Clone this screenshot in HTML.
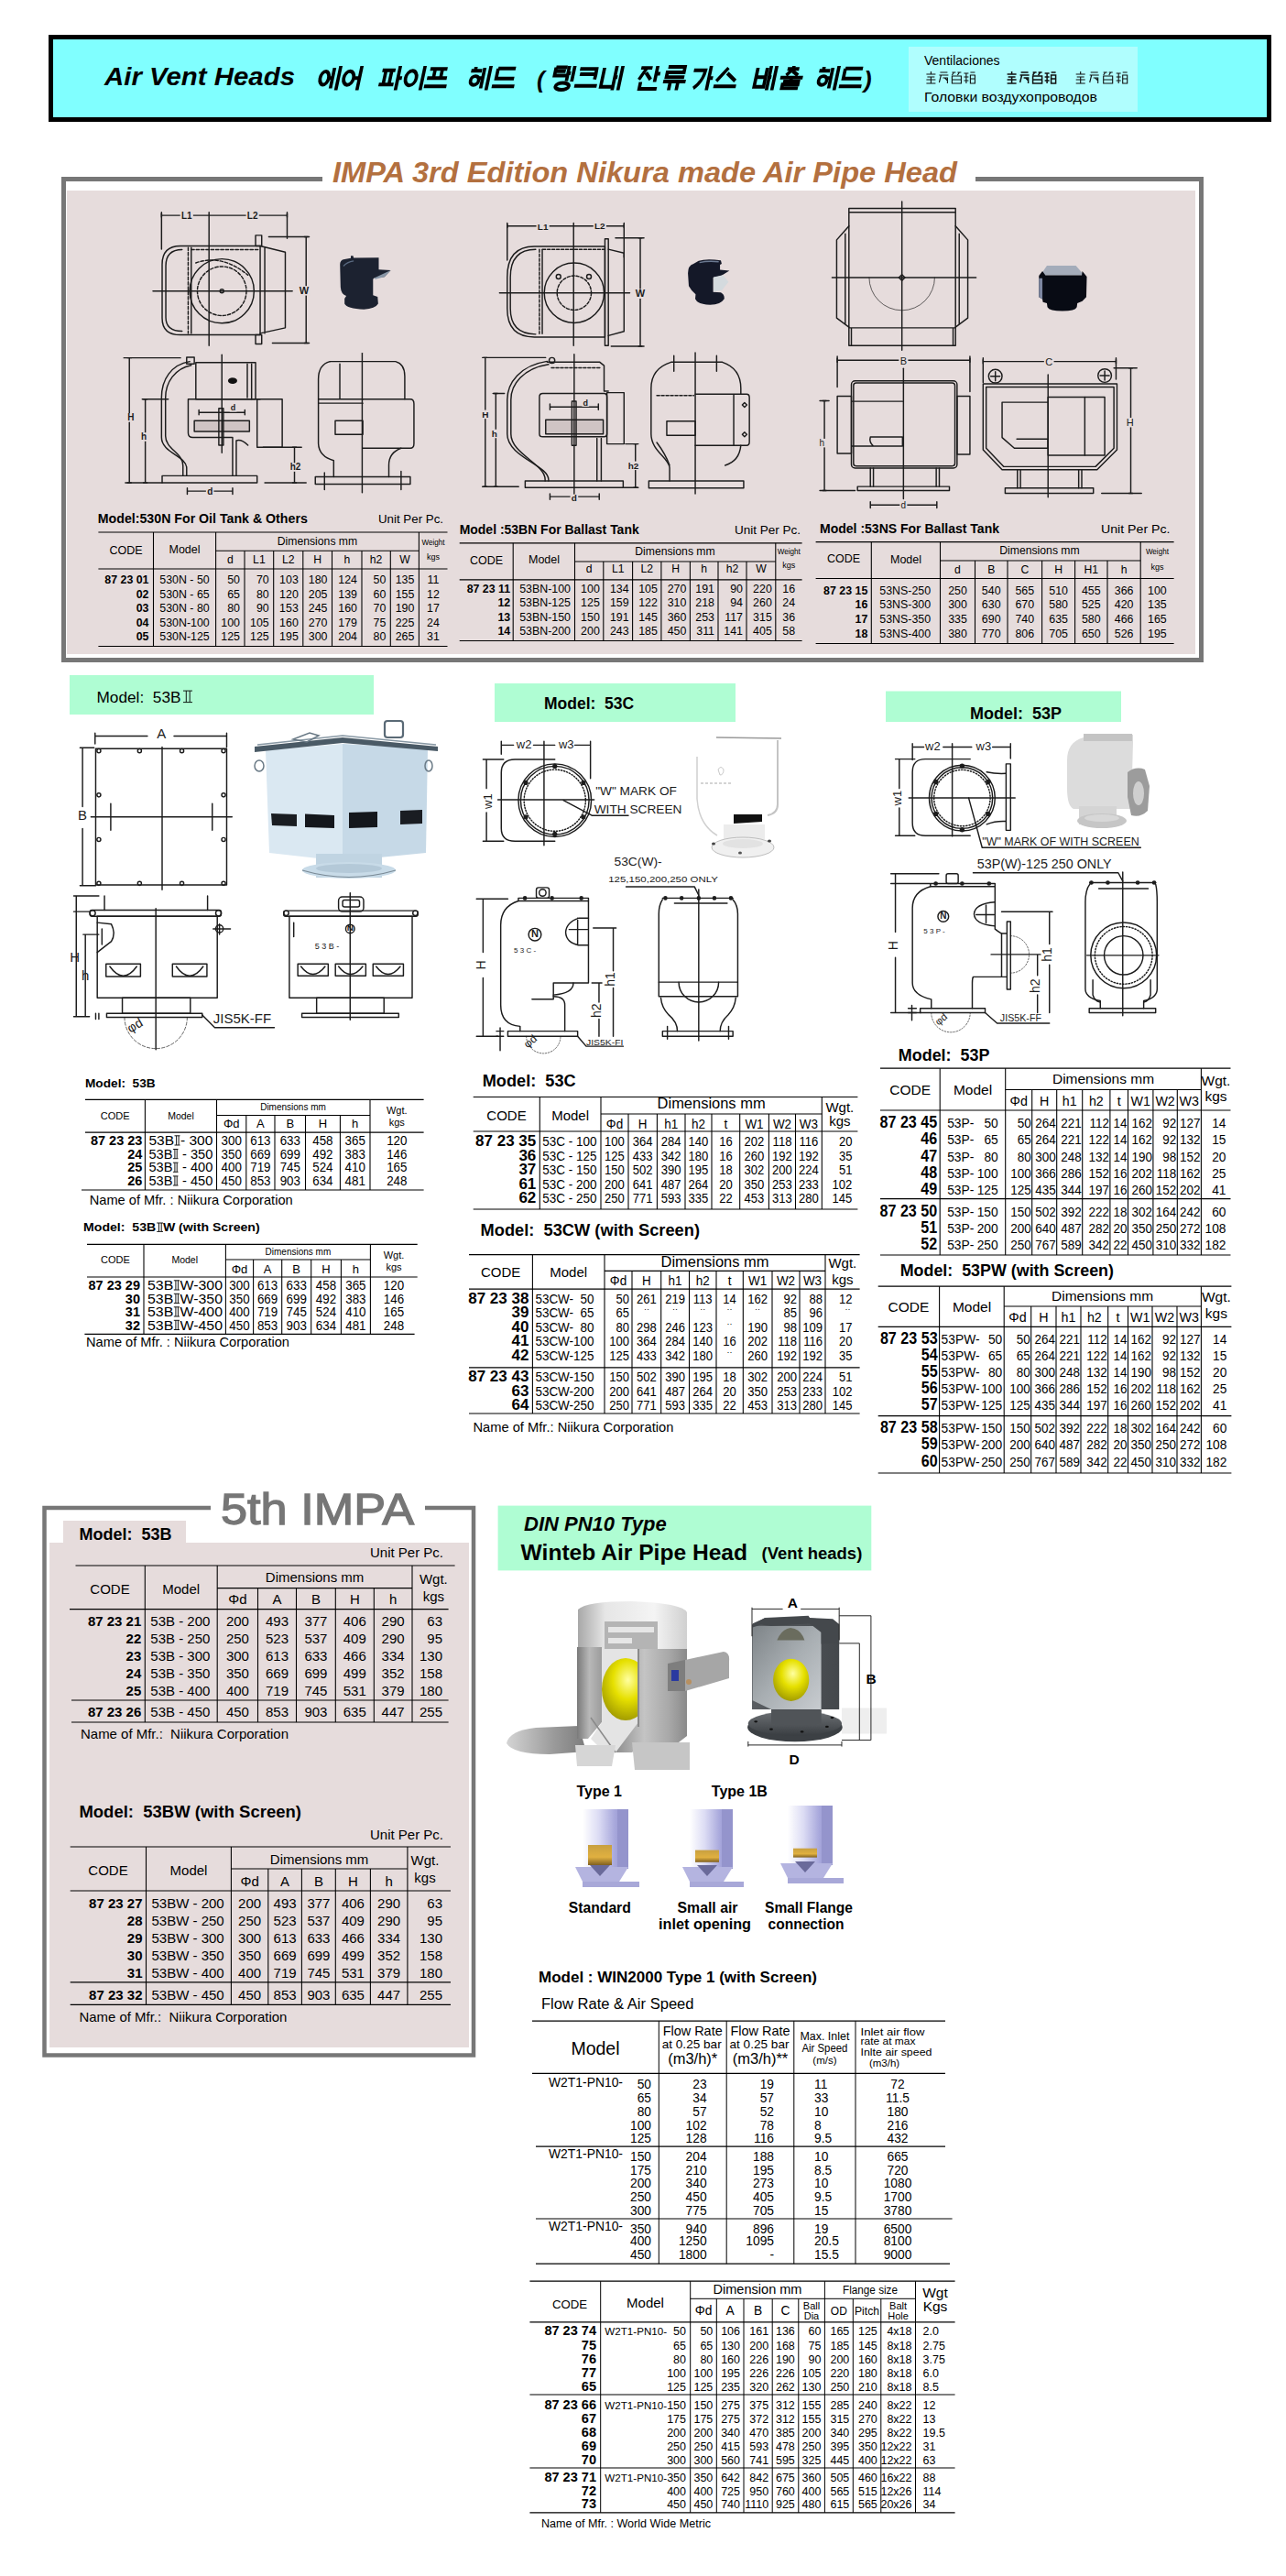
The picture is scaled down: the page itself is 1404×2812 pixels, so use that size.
<!DOCTYPE html>
<html><head><meta charset="utf-8"><title>Air Vent Heads</title>
<style>
html,body{margin:0;padding:0;background:#fff;}
body{width:1404px;height:2812px;overflow:hidden;}
svg{display:block;font-family:"Liberation Sans",sans-serif;}
text{white-space:pre;}
</style></head><body>
<svg width="1404" height="2812" viewBox="0 0 1404 2812">
<rect x="55.5" y="40.5" width="1330.0" height="90.0" fill="#80FFFF" stroke="#000" stroke-width="5"/>
<rect x="992.0" y="51.0" width="250.0" height="71.0" fill="#B0FEFE"/>
<text x="114.0" y="93.0" font-size="27.5" font-weight="bold" font-style="italic" textLength="208.0" lengthAdjust="spacingAndGlyphs">Air Vent Heads</text>
<text x="1009.0" y="70.5" font-size="14" textLength="82.5" lengthAdjust="spacingAndGlyphs">Ventilaciones</text>
<text x="1009.0" y="111.4" font-size="14.5" textLength="189.0" lengthAdjust="spacingAndGlyphs">Головки воздухопроводов</text>
<rect x="69.5" y="195.5" width="1242.0" height="525.0" fill="#fff" stroke="#777777" stroke-width="5"/>
<rect x="73.0" y="208.0" width="1232.0" height="506.0" fill="#E6DCDC"/>
<rect x="352.0" y="185.0" width="713.0" height="14.0" fill="#fff"/>
<text x="363.0" y="198.5" font-size="31.5" font-weight="bold" font-style="italic" fill="#B3703F" textLength="682.0" lengthAdjust="spacingAndGlyphs">IMPA 3rd Edition Nikura made Air Pipe Head</text>
<rect x="76.0" y="737.0" width="332.0" height="43.0" fill="#AFFDD3"/>
<text x="105.5" y="766.6" font-size="17" textLength="92.0" lengthAdjust="spacingAndGlyphs">Model:  53B</text>
<rect x="540.0" y="746.0" width="263.0" height="42.0" fill="#AFFDD3"/>
<text x="594.0" y="773.5" font-size="17.5" font-weight="bold">Model:  53C</text>
<rect x="967.0" y="754.5" width="257.0" height="33.5" fill="#AFFDD3"/>
<text x="1059.0" y="785.0" font-size="18" font-weight="bold">Model:  53P</text>
<rect x="48.5" y="1646.0" width="468.5" height="597.5" fill="#fff" stroke="#777777" stroke-width="4.5"/>
<rect x="54.0" y="1684.0" width="458.0" height="551.0" fill="#E6DCDC"/>
<rect x="69.0" y="1660.0" width="134.0" height="25.0" fill="#E6DCDC"/>
<rect x="230.0" y="1630.0" width="234.0" height="20.0" fill="#fff"/>
<text x="241.0" y="1663.7" font-size="48" fill="#767676" textLength="211.0" lengthAdjust="spacingAndGlyphs" stroke="#767676" stroke-width="1.3">5th IMPA</text>
<text x="86.4" y="1680.8" font-size="18" font-weight="bold">Model:  53B</text>
<rect x="543.6" y="1643.6" width="407.7" height="70.8" fill="#AFFDD3"/>
<text x="572.0" y="1671.0" font-size="22" font-weight="bold" font-style="italic">DIN PN10 Type</text>
<text x="568.6" y="1703.3" font-size="23" font-weight="bold" textLength="247.4" lengthAdjust="spacingAndGlyphs">Winteb Air Pipe Head</text>
<text x="831.5" y="1701.5" font-size="18" font-weight="bold" textLength="109.8" lengthAdjust="spacingAndGlyphs">(Vent heads)</text>
<text x="106.8" y="571.0" font-size="14" font-weight="bold" textLength="229.0" lengthAdjust="spacingAndGlyphs">Model:530N For Oil Tank &amp; Others</text>
<text x="484.0" y="571.0" font-size="13" text-anchor="end" textLength="71.0" lengthAdjust="spacingAndGlyphs">Unit Per Pc.</text>
<line x1="107.4" y1="581.0" x2="488.5" y2="581.0" stroke="#000" stroke-width="1.2"/>
<line x1="235.6" y1="601.3" x2="457.4" y2="601.3" stroke="#000" stroke-width="1.08"/>
<line x1="107.4" y1="621.0" x2="488.5" y2="621.0" stroke="#000" stroke-width="1.2"/>
<line x1="107.4" y1="705.5" x2="488.5" y2="705.5" stroke="#000" stroke-width="1.2"/>
<line x1="167.5" y1="581.0" x2="167.5" y2="705.5" stroke="#000" stroke-width="1.08"/>
<line x1="235.6" y1="581.0" x2="235.6" y2="705.5" stroke="#000" stroke-width="1.08"/>
<line x1="267.0" y1="601.3" x2="267.0" y2="705.5" stroke="#000" stroke-width="1.08"/>
<line x1="298.7" y1="601.3" x2="298.7" y2="705.5" stroke="#000" stroke-width="1.08"/>
<line x1="330.8" y1="601.3" x2="330.8" y2="705.5" stroke="#000" stroke-width="1.08"/>
<line x1="362.5" y1="601.3" x2="362.5" y2="705.5" stroke="#000" stroke-width="1.08"/>
<line x1="395.0" y1="601.3" x2="395.0" y2="705.5" stroke="#000" stroke-width="1.08"/>
<line x1="426.3" y1="601.3" x2="426.3" y2="705.5" stroke="#000" stroke-width="1.08"/>
<line x1="457.4" y1="581.0" x2="457.4" y2="705.5" stroke="#000" stroke-width="1.08"/>
<text x="137.5" y="605.4" font-size="12.5" text-anchor="middle">CODE</text>
<text x="201.5" y="603.5" font-size="12.5" text-anchor="middle">Model</text>
<text x="346.5" y="595.0" font-size="12.2" text-anchor="middle">Dimensions mm</text>
<text x="251.3" y="615.3" font-size="12.2" text-anchor="middle">d</text>
<text x="282.9" y="615.3" font-size="12.2" text-anchor="middle">L1</text>
<text x="314.8" y="615.3" font-size="12.2" text-anchor="middle">L2</text>
<text x="346.6" y="615.3" font-size="12.2" text-anchor="middle">H</text>
<text x="378.8" y="615.3" font-size="12.2" text-anchor="middle">h</text>
<text x="410.6" y="615.3" font-size="12.2" text-anchor="middle">h2</text>
<text x="441.9" y="615.3" font-size="12.2" text-anchor="middle">W</text>
<text x="473.0" y="595.0" font-size="9" text-anchor="middle" textLength="25.0" lengthAdjust="spacingAndGlyphs">Weight</text>
<text x="473.0" y="610.6" font-size="9" text-anchor="middle">kgs</text>
<text x="162.5" y="637.0" font-size="12.4" text-anchor="end" font-weight="bold">87 23 01</text>
<text x="174.3" y="637.0" font-size="12.4">530N - 50</text>
<text x="262.0" y="637.0" font-size="12.4" text-anchor="end">50</text>
<text x="293.7" y="637.0" font-size="12.4" text-anchor="end">70</text>
<text x="325.8" y="637.0" font-size="12.4" text-anchor="end">103</text>
<text x="357.5" y="637.0" font-size="12.4" text-anchor="end">180</text>
<text x="390.0" y="637.0" font-size="12.4" text-anchor="end">124</text>
<text x="421.3" y="637.0" font-size="12.4" text-anchor="end">50</text>
<text x="452.4" y="637.0" font-size="12.4" text-anchor="end">135</text>
<text x="473.0" y="637.0" font-size="12.4" text-anchor="middle">11</text>
<text x="162.5" y="652.5" font-size="12.4" text-anchor="end" font-weight="bold">02</text>
<text x="174.3" y="652.5" font-size="12.4">530N - 65</text>
<text x="262.0" y="652.5" font-size="12.4" text-anchor="end">65</text>
<text x="293.7" y="652.5" font-size="12.4" text-anchor="end">80</text>
<text x="325.8" y="652.5" font-size="12.4" text-anchor="end">120</text>
<text x="357.5" y="652.5" font-size="12.4" text-anchor="end">205</text>
<text x="390.0" y="652.5" font-size="12.4" text-anchor="end">139</text>
<text x="421.3" y="652.5" font-size="12.4" text-anchor="end">60</text>
<text x="452.4" y="652.5" font-size="12.4" text-anchor="end">155</text>
<text x="473.0" y="652.5" font-size="12.4" text-anchor="middle">12</text>
<text x="162.5" y="668.0" font-size="12.4" text-anchor="end" font-weight="bold">03</text>
<text x="174.3" y="668.0" font-size="12.4">530N - 80</text>
<text x="262.0" y="668.0" font-size="12.4" text-anchor="end">80</text>
<text x="293.7" y="668.0" font-size="12.4" text-anchor="end">90</text>
<text x="325.8" y="668.0" font-size="12.4" text-anchor="end">153</text>
<text x="357.5" y="668.0" font-size="12.4" text-anchor="end">245</text>
<text x="390.0" y="668.0" font-size="12.4" text-anchor="end">160</text>
<text x="421.3" y="668.0" font-size="12.4" text-anchor="end">70</text>
<text x="452.4" y="668.0" font-size="12.4" text-anchor="end">190</text>
<text x="473.0" y="668.0" font-size="12.4" text-anchor="middle">17</text>
<text x="162.5" y="683.5" font-size="12.4" text-anchor="end" font-weight="bold">04</text>
<text x="174.3" y="683.5" font-size="12.4">530N-100</text>
<text x="262.0" y="683.5" font-size="12.4" text-anchor="end">100</text>
<text x="293.7" y="683.5" font-size="12.4" text-anchor="end">105</text>
<text x="325.8" y="683.5" font-size="12.4" text-anchor="end">160</text>
<text x="357.5" y="683.5" font-size="12.4" text-anchor="end">270</text>
<text x="390.0" y="683.5" font-size="12.4" text-anchor="end">179</text>
<text x="421.3" y="683.5" font-size="12.4" text-anchor="end">75</text>
<text x="452.4" y="683.5" font-size="12.4" text-anchor="end">225</text>
<text x="473.0" y="683.5" font-size="12.4" text-anchor="middle">24</text>
<text x="162.5" y="699.0" font-size="12.4" text-anchor="end" font-weight="bold">05</text>
<text x="174.3" y="699.0" font-size="12.4">530N-125</text>
<text x="262.0" y="699.0" font-size="12.4" text-anchor="end">125</text>
<text x="293.7" y="699.0" font-size="12.4" text-anchor="end">125</text>
<text x="325.8" y="699.0" font-size="12.4" text-anchor="end">195</text>
<text x="357.5" y="699.0" font-size="12.4" text-anchor="end">300</text>
<text x="390.0" y="699.0" font-size="12.4" text-anchor="end">204</text>
<text x="421.3" y="699.0" font-size="12.4" text-anchor="end">80</text>
<text x="452.4" y="699.0" font-size="12.4" text-anchor="end">265</text>
<text x="473.0" y="699.0" font-size="12.4" text-anchor="middle">31</text>
<text x="501.7" y="583.4" font-size="14" font-weight="bold" textLength="196.0" lengthAdjust="spacingAndGlyphs">Model :53BN For Ballast Tank</text>
<text x="874.0" y="583.4" font-size="13" text-anchor="end" textLength="72.0" lengthAdjust="spacingAndGlyphs">Unit Per Pc.</text>
<line x1="501.7" y1="592.8" x2="875.6" y2="592.8" stroke="#000" stroke-width="1.2"/>
<line x1="627.5" y1="613.0" x2="846.8" y2="613.0" stroke="#000" stroke-width="1.08"/>
<line x1="501.7" y1="632.8" x2="875.6" y2="632.8" stroke="#000" stroke-width="1.2"/>
<line x1="501.7" y1="699.5" x2="875.6" y2="699.5" stroke="#000" stroke-width="1.2"/>
<line x1="560.2" y1="592.8" x2="560.2" y2="699.5" stroke="#000" stroke-width="1.08"/>
<line x1="627.5" y1="592.8" x2="627.5" y2="699.5" stroke="#000" stroke-width="1.08"/>
<line x1="658.8" y1="613.0" x2="658.8" y2="699.5" stroke="#000" stroke-width="1.08"/>
<line x1="690.6" y1="613.0" x2="690.6" y2="699.5" stroke="#000" stroke-width="1.08"/>
<line x1="721.9" y1="613.0" x2="721.9" y2="699.5" stroke="#000" stroke-width="1.08"/>
<line x1="753.4" y1="613.0" x2="753.4" y2="699.5" stroke="#000" stroke-width="1.08"/>
<line x1="784.0" y1="613.0" x2="784.0" y2="699.5" stroke="#000" stroke-width="1.08"/>
<line x1="815.0" y1="613.0" x2="815.0" y2="699.5" stroke="#000" stroke-width="1.08"/>
<line x1="846.8" y1="592.8" x2="846.8" y2="699.5" stroke="#000" stroke-width="1.08"/>
<text x="531.0" y="616.0" font-size="12.5" text-anchor="middle">CODE</text>
<text x="594.0" y="614.6" font-size="12.5" text-anchor="middle">Model</text>
<text x="737.0" y="605.5" font-size="12.2" text-anchor="middle">Dimensions mm</text>
<text x="643.1" y="625.2" font-size="12.2" text-anchor="middle">d</text>
<text x="674.7" y="625.2" font-size="12.2" text-anchor="middle">L1</text>
<text x="706.2" y="625.2" font-size="12.2" text-anchor="middle">L2</text>
<text x="737.6" y="625.2" font-size="12.2" text-anchor="middle">H</text>
<text x="768.7" y="625.2" font-size="12.2" text-anchor="middle">h</text>
<text x="799.5" y="625.2" font-size="12.2" text-anchor="middle">h2</text>
<text x="830.9" y="625.2" font-size="12.2" text-anchor="middle">W</text>
<text x="861.2" y="605.0" font-size="9" text-anchor="middle" textLength="25.0" lengthAdjust="spacingAndGlyphs">Weight</text>
<text x="861.2" y="620.0" font-size="9" text-anchor="middle">kgs</text>
<text x="557.2" y="647.0" font-size="12.4" text-anchor="end" font-weight="bold">87 23 11</text>
<text x="567.2" y="647.0" font-size="12.4">53BN-100</text>
<text x="654.8" y="647.0" font-size="12.4" text-anchor="end">100</text>
<text x="686.6" y="647.0" font-size="12.4" text-anchor="end">134</text>
<text x="717.9" y="647.0" font-size="12.4" text-anchor="end">105</text>
<text x="749.4" y="647.0" font-size="12.4" text-anchor="end">270</text>
<text x="780.0" y="647.0" font-size="12.4" text-anchor="end">191</text>
<text x="811.0" y="647.0" font-size="12.4" text-anchor="end">90</text>
<text x="842.8" y="647.0" font-size="12.4" text-anchor="end">220</text>
<text x="861.2" y="647.0" font-size="12.4" text-anchor="middle">16</text>
<text x="557.2" y="662.2" font-size="12.4" text-anchor="end" font-weight="bold">12</text>
<text x="567.2" y="662.2" font-size="12.4">53BN-125</text>
<text x="654.8" y="662.2" font-size="12.4" text-anchor="end">125</text>
<text x="686.6" y="662.2" font-size="12.4" text-anchor="end">159</text>
<text x="717.9" y="662.2" font-size="12.4" text-anchor="end">122</text>
<text x="749.4" y="662.2" font-size="12.4" text-anchor="end">310</text>
<text x="780.0" y="662.2" font-size="12.4" text-anchor="end">218</text>
<text x="811.0" y="662.2" font-size="12.4" text-anchor="end">94</text>
<text x="842.8" y="662.2" font-size="12.4" text-anchor="end">260</text>
<text x="861.2" y="662.2" font-size="12.4" text-anchor="middle">24</text>
<text x="557.2" y="677.5" font-size="12.4" text-anchor="end" font-weight="bold">13</text>
<text x="567.2" y="677.5" font-size="12.4">53BN-150</text>
<text x="654.8" y="677.5" font-size="12.4" text-anchor="end">150</text>
<text x="686.6" y="677.5" font-size="12.4" text-anchor="end">191</text>
<text x="717.9" y="677.5" font-size="12.4" text-anchor="end">145</text>
<text x="749.4" y="677.5" font-size="12.4" text-anchor="end">360</text>
<text x="780.0" y="677.5" font-size="12.4" text-anchor="end">253</text>
<text x="811.0" y="677.5" font-size="12.4" text-anchor="end">117</text>
<text x="842.8" y="677.5" font-size="12.4" text-anchor="end">315</text>
<text x="861.2" y="677.5" font-size="12.4" text-anchor="middle">36</text>
<text x="557.2" y="692.7" font-size="12.4" text-anchor="end" font-weight="bold">14</text>
<text x="567.2" y="692.7" font-size="12.4">53BN-200</text>
<text x="654.8" y="692.7" font-size="12.4" text-anchor="end">200</text>
<text x="686.6" y="692.7" font-size="12.4" text-anchor="end">243</text>
<text x="717.9" y="692.7" font-size="12.4" text-anchor="end">185</text>
<text x="749.4" y="692.7" font-size="12.4" text-anchor="end">450</text>
<text x="780.0" y="692.7" font-size="12.4" text-anchor="end">311</text>
<text x="811.0" y="692.7" font-size="12.4" text-anchor="end">141</text>
<text x="842.8" y="692.7" font-size="12.4" text-anchor="end">405</text>
<text x="861.2" y="692.7" font-size="12.4" text-anchor="middle">58</text>
<text x="895.0" y="582.4" font-size="14" font-weight="bold" textLength="196.0" lengthAdjust="spacingAndGlyphs">Model :53NS For Ballast Tank</text>
<text x="1277.5" y="582.4" font-size="13" text-anchor="end" textLength="75.5" lengthAdjust="spacingAndGlyphs">Unit Per Pc.</text>
<line x1="890.6" y1="591.7" x2="1281.6" y2="591.7" stroke="#000" stroke-width="1.2"/>
<line x1="1026.5" y1="612.0" x2="1245.2" y2="612.0" stroke="#000" stroke-width="1.08"/>
<line x1="890.6" y1="631.5" x2="1281.6" y2="631.5" stroke="#000" stroke-width="1.2"/>
<line x1="890.6" y1="702.5" x2="1281.6" y2="702.5" stroke="#000" stroke-width="1.2"/>
<line x1="951.3" y1="591.7" x2="951.3" y2="702.5" stroke="#000" stroke-width="1.08"/>
<line x1="1026.5" y1="591.7" x2="1026.5" y2="702.5" stroke="#000" stroke-width="1.08"/>
<line x1="1064.5" y1="612.0" x2="1064.5" y2="702.5" stroke="#000" stroke-width="1.08"/>
<line x1="1100.0" y1="612.0" x2="1100.0" y2="702.5" stroke="#000" stroke-width="1.08"/>
<line x1="1137.6" y1="612.0" x2="1137.6" y2="702.5" stroke="#000" stroke-width="1.08"/>
<line x1="1173.6" y1="612.0" x2="1173.6" y2="702.5" stroke="#000" stroke-width="1.08"/>
<line x1="1209.0" y1="612.0" x2="1209.0" y2="702.5" stroke="#000" stroke-width="1.08"/>
<line x1="1245.2" y1="591.7" x2="1245.2" y2="702.5" stroke="#000" stroke-width="1.08"/>
<text x="921.0" y="614.4" font-size="12.5" text-anchor="middle">CODE</text>
<text x="989.0" y="615.4" font-size="12.5" text-anchor="middle">Model</text>
<text x="1135.0" y="605.0" font-size="12.2" text-anchor="middle">Dimensions mm</text>
<text x="1045.5" y="626.3" font-size="12.2" text-anchor="middle">d</text>
<text x="1082.2" y="626.3" font-size="12.2" text-anchor="middle">B</text>
<text x="1118.8" y="626.3" font-size="12.2" text-anchor="middle">C</text>
<text x="1155.6" y="626.3" font-size="12.2" text-anchor="middle">H</text>
<text x="1191.3" y="626.3" font-size="12.2" text-anchor="middle">H1</text>
<text x="1227.1" y="626.3" font-size="12.2" text-anchor="middle">h</text>
<text x="1263.4" y="605.0" font-size="9" text-anchor="middle" textLength="25.0" lengthAdjust="spacingAndGlyphs">Weight</text>
<text x="1263.4" y="622.0" font-size="9" text-anchor="middle">kgs</text>
<text x="947.3" y="648.6" font-size="12.4" text-anchor="end" font-weight="bold">87 23 15</text>
<text x="960.3" y="648.6" font-size="12.4">53NS-250</text>
<text x="1045.5" y="648.6" font-size="12.4" text-anchor="middle">250</text>
<text x="1082.2" y="648.6" font-size="12.4" text-anchor="middle">540</text>
<text x="1118.8" y="648.6" font-size="12.4" text-anchor="middle">565</text>
<text x="1155.6" y="648.6" font-size="12.4" text-anchor="middle">510</text>
<text x="1191.3" y="648.6" font-size="12.4" text-anchor="middle">455</text>
<text x="1227.1" y="648.6" font-size="12.4" text-anchor="middle">366</text>
<text x="1263.4" y="648.6" font-size="12.4" text-anchor="middle">100</text>
<text x="947.3" y="664.3" font-size="12.4" text-anchor="end" font-weight="bold">16</text>
<text x="960.3" y="664.3" font-size="12.4">53NS-300</text>
<text x="1045.5" y="664.3" font-size="12.4" text-anchor="middle">300</text>
<text x="1082.2" y="664.3" font-size="12.4" text-anchor="middle">630</text>
<text x="1118.8" y="664.3" font-size="12.4" text-anchor="middle">670</text>
<text x="1155.6" y="664.3" font-size="12.4" text-anchor="middle">580</text>
<text x="1191.3" y="664.3" font-size="12.4" text-anchor="middle">525</text>
<text x="1227.1" y="664.3" font-size="12.4" text-anchor="middle">420</text>
<text x="1263.4" y="664.3" font-size="12.4" text-anchor="middle">135</text>
<text x="947.3" y="680.0" font-size="12.4" text-anchor="end" font-weight="bold">17</text>
<text x="960.3" y="680.0" font-size="12.4">53NS-350</text>
<text x="1045.5" y="680.0" font-size="12.4" text-anchor="middle">335</text>
<text x="1082.2" y="680.0" font-size="12.4" text-anchor="middle">690</text>
<text x="1118.8" y="680.0" font-size="12.4" text-anchor="middle">740</text>
<text x="1155.6" y="680.0" font-size="12.4" text-anchor="middle">635</text>
<text x="1191.3" y="680.0" font-size="12.4" text-anchor="middle">580</text>
<text x="1227.1" y="680.0" font-size="12.4" text-anchor="middle">466</text>
<text x="1263.4" y="680.0" font-size="12.4" text-anchor="middle">165</text>
<text x="947.3" y="695.7" font-size="12.4" text-anchor="end" font-weight="bold">18</text>
<text x="960.3" y="695.7" font-size="12.4">53NS-400</text>
<text x="1045.5" y="695.7" font-size="12.4" text-anchor="middle">380</text>
<text x="1082.2" y="695.7" font-size="12.4" text-anchor="middle">770</text>
<text x="1118.8" y="695.7" font-size="12.4" text-anchor="middle">806</text>
<text x="1155.6" y="695.7" font-size="12.4" text-anchor="middle">705</text>
<text x="1191.3" y="695.7" font-size="12.4" text-anchor="middle">650</text>
<text x="1227.1" y="695.7" font-size="12.4" text-anchor="middle">526</text>
<text x="1263.4" y="695.7" font-size="12.4" text-anchor="middle">195</text>
<text x="93.0" y="1187.4" font-size="13.5" font-weight="bold" textLength="76.6" lengthAdjust="spacingAndGlyphs">Model:  53B</text>
<line x1="93.0" y1="1200.4" x2="462.6" y2="1200.4" stroke="#000" stroke-width="1.2"/>
<line x1="236.5" y1="1217.5" x2="404.0" y2="1217.5" stroke="#000" stroke-width="1.08"/>
<line x1="93.0" y1="1236.2" x2="462.6" y2="1236.2" stroke="#000" stroke-width="1.2"/>
<line x1="89.0" y1="1299.0" x2="462.6" y2="1299.0" stroke="#000" stroke-width="1.2"/>
<line x1="158.4" y1="1200.4" x2="158.4" y2="1299.0" stroke="#000" stroke-width="1.08"/>
<line x1="236.5" y1="1200.4" x2="236.5" y2="1299.0" stroke="#000" stroke-width="1.08"/>
<line x1="268.8" y1="1217.5" x2="268.8" y2="1299.0" stroke="#000" stroke-width="1.08"/>
<line x1="300.0" y1="1217.5" x2="300.0" y2="1299.0" stroke="#000" stroke-width="1.08"/>
<line x1="333.5" y1="1217.5" x2="333.5" y2="1299.0" stroke="#000" stroke-width="1.08"/>
<line x1="371.4" y1="1217.5" x2="371.4" y2="1299.0" stroke="#000" stroke-width="1.08"/>
<line x1="404.0" y1="1200.4" x2="404.0" y2="1299.0" stroke="#000" stroke-width="1.08"/>
<text x="125.7" y="1221.6" font-size="11" text-anchor="middle">CODE</text>
<text x="197.5" y="1221.6" font-size="10.5" text-anchor="middle">Model</text>
<text x="320.0" y="1212.0" font-size="10" text-anchor="middle">Dimensions mm</text>
<text x="252.7" y="1231.0" font-size="13" text-anchor="middle">Φd</text>
<text x="284.4" y="1231.0" font-size="13" text-anchor="middle">A</text>
<text x="316.8" y="1231.0" font-size="13" text-anchor="middle">B</text>
<text x="352.4" y="1231.0" font-size="13" text-anchor="middle">H</text>
<text x="387.7" y="1231.0" font-size="13" text-anchor="middle">h</text>
<text x="433.3" y="1216.0" font-size="11" text-anchor="middle">Wgt.</text>
<text x="433.3" y="1229.0" font-size="11" text-anchor="middle">kgs</text>
<text x="155.4" y="1250.0" font-size="14.5" text-anchor="end" font-weight="bold">87 23 23</text>
<text x="162.4" y="1250.0" font-size="14.5" textLength="27.6" lengthAdjust="spacingAndGlyphs">53B</text>
<g stroke="#000" stroke-width="0.9" fill="none"><path d="M190.5,1239.8h6.0M190.5,1250.0h6.0M192.6,1239.8v10.1M195.1,1239.8v10.1"/></g>
<text x="197.0" y="1250.0" font-size="14.5" textLength="35.4" lengthAdjust="spacingAndGlyphs">- 300</text>
<text x="252.7" y="1250.0" font-size="14.5" text-anchor="middle" textLength="22.3" lengthAdjust="spacingAndGlyphs">300</text>
<text x="284.4" y="1250.0" font-size="14.5" text-anchor="middle" textLength="22.3" lengthAdjust="spacingAndGlyphs">613</text>
<text x="316.8" y="1250.0" font-size="14.5" text-anchor="middle" textLength="22.3" lengthAdjust="spacingAndGlyphs">633</text>
<text x="352.4" y="1250.0" font-size="14.5" text-anchor="middle" textLength="22.3" lengthAdjust="spacingAndGlyphs">458</text>
<text x="387.7" y="1250.0" font-size="14.5" text-anchor="middle" textLength="22.3" lengthAdjust="spacingAndGlyphs">365</text>
<text x="433.3" y="1250.0" font-size="14.5" text-anchor="middle" textLength="22.3" lengthAdjust="spacingAndGlyphs">120</text>
<text x="155.4" y="1264.7" font-size="14.5" text-anchor="end" font-weight="bold">24</text>
<text x="162.4" y="1264.7" font-size="14.5" textLength="26.0" lengthAdjust="spacingAndGlyphs">53B</text>
<g stroke="#000" stroke-width="0.9" fill="none"><path d="M188.9,1254.5h5.6M188.9,1264.7h5.6M190.9,1254.5v10.1M193.2,1254.5v10.1"/></g>
<text x="195.0" y="1264.7" font-size="14.5" textLength="37.4" lengthAdjust="spacingAndGlyphs"> - 350</text>
<text x="252.7" y="1264.7" font-size="14.5" text-anchor="middle" textLength="22.3" lengthAdjust="spacingAndGlyphs">350</text>
<text x="284.4" y="1264.7" font-size="14.5" text-anchor="middle" textLength="22.3" lengthAdjust="spacingAndGlyphs">669</text>
<text x="316.8" y="1264.7" font-size="14.5" text-anchor="middle" textLength="22.3" lengthAdjust="spacingAndGlyphs">699</text>
<text x="352.4" y="1264.7" font-size="14.5" text-anchor="middle" textLength="22.3" lengthAdjust="spacingAndGlyphs">492</text>
<text x="387.7" y="1264.7" font-size="14.5" text-anchor="middle" textLength="22.3" lengthAdjust="spacingAndGlyphs">383</text>
<text x="433.3" y="1264.7" font-size="14.5" text-anchor="middle" textLength="22.3" lengthAdjust="spacingAndGlyphs">146</text>
<text x="155.4" y="1279.3" font-size="14.5" text-anchor="end" font-weight="bold">25</text>
<text x="162.4" y="1279.3" font-size="14.5" textLength="26.0" lengthAdjust="spacingAndGlyphs">53B</text>
<g stroke="#000" stroke-width="0.9" fill="none"><path d="M188.9,1269.2h5.6M188.9,1279.3h5.6M190.9,1269.2v10.1M193.2,1269.2v10.1"/></g>
<text x="195.0" y="1279.3" font-size="14.5" textLength="37.4" lengthAdjust="spacingAndGlyphs"> - 400</text>
<text x="252.7" y="1279.3" font-size="14.5" text-anchor="middle" textLength="22.3" lengthAdjust="spacingAndGlyphs">400</text>
<text x="284.4" y="1279.3" font-size="14.5" text-anchor="middle" textLength="22.3" lengthAdjust="spacingAndGlyphs">719</text>
<text x="316.8" y="1279.3" font-size="14.5" text-anchor="middle" textLength="22.3" lengthAdjust="spacingAndGlyphs">745</text>
<text x="352.4" y="1279.3" font-size="14.5" text-anchor="middle" textLength="22.3" lengthAdjust="spacingAndGlyphs">524</text>
<text x="387.7" y="1279.3" font-size="14.5" text-anchor="middle" textLength="22.3" lengthAdjust="spacingAndGlyphs">410</text>
<text x="433.3" y="1279.3" font-size="14.5" text-anchor="middle" textLength="22.3" lengthAdjust="spacingAndGlyphs">165</text>
<text x="155.4" y="1294.0" font-size="14.5" text-anchor="end" font-weight="bold">26</text>
<text x="162.4" y="1294.0" font-size="14.5" textLength="26.0" lengthAdjust="spacingAndGlyphs">53B</text>
<g stroke="#000" stroke-width="0.9" fill="none"><path d="M188.9,1283.9h5.6M188.9,1294.0h5.6M190.9,1283.9v10.1M193.2,1283.9v10.1"/></g>
<text x="195.0" y="1294.0" font-size="14.5" textLength="37.4" lengthAdjust="spacingAndGlyphs"> - 450</text>
<text x="252.7" y="1294.0" font-size="14.5" text-anchor="middle" textLength="22.3" lengthAdjust="spacingAndGlyphs">450</text>
<text x="284.4" y="1294.0" font-size="14.5" text-anchor="middle" textLength="22.3" lengthAdjust="spacingAndGlyphs">853</text>
<text x="316.8" y="1294.0" font-size="14.5" text-anchor="middle" textLength="22.3" lengthAdjust="spacingAndGlyphs">903</text>
<text x="352.4" y="1294.0" font-size="14.5" text-anchor="middle" textLength="22.3" lengthAdjust="spacingAndGlyphs">634</text>
<text x="387.7" y="1294.0" font-size="14.5" text-anchor="middle" textLength="22.3" lengthAdjust="spacingAndGlyphs">481</text>
<text x="433.3" y="1294.0" font-size="14.5" text-anchor="middle" textLength="22.3" lengthAdjust="spacingAndGlyphs">248</text>
<text x="97.7" y="1315.0" font-size="14.5" textLength="222.0" lengthAdjust="spacingAndGlyphs">Name of Mfr. : Niikura Corporation</text>
<text x="91.0" y="1344.4" font-size="13.5" font-weight="bold" textLength="79.2" lengthAdjust="spacingAndGlyphs">Model:  53B</text>
<g stroke="#000" stroke-width="0.9" fill="none"><path d="M171.2,1335.0h6.8M171.2,1344.4h6.8M173.5,1335.0v9.4M176.2,1335.0v9.4"/></g>
<text x="177.9" y="1344.4" font-size="13.5" font-weight="bold" textLength="105.8" lengthAdjust="spacingAndGlyphs">W (with Screen)</text>
<line x1="95.0" y1="1358.4" x2="455.7" y2="1358.4" stroke="#000" stroke-width="1.2"/>
<line x1="246.4" y1="1375.0" x2="404.4" y2="1375.0" stroke="#000" stroke-width="1.08"/>
<line x1="95.0" y1="1394.0" x2="455.7" y2="1394.0" stroke="#000" stroke-width="1.2"/>
<line x1="92.4" y1="1456.4" x2="452.6" y2="1456.4" stroke="#000" stroke-width="1.2"/>
<line x1="157.0" y1="1358.4" x2="157.0" y2="1456.4" stroke="#000" stroke-width="1.08"/>
<line x1="246.4" y1="1358.4" x2="246.4" y2="1456.4" stroke="#000" stroke-width="1.08"/>
<line x1="276.6" y1="1375.0" x2="276.6" y2="1456.4" stroke="#000" stroke-width="1.08"/>
<line x1="307.7" y1="1375.0" x2="307.7" y2="1456.4" stroke="#000" stroke-width="1.08"/>
<line x1="339.7" y1="1375.0" x2="339.7" y2="1456.4" stroke="#000" stroke-width="1.08"/>
<line x1="372.4" y1="1375.0" x2="372.4" y2="1456.4" stroke="#000" stroke-width="1.08"/>
<line x1="404.4" y1="1358.4" x2="404.4" y2="1456.4" stroke="#000" stroke-width="1.08"/>
<text x="126.0" y="1378.6" font-size="11" text-anchor="middle">CODE</text>
<text x="201.7" y="1378.6" font-size="10.5" text-anchor="middle">Model</text>
<text x="325.4" y="1370.0" font-size="10" text-anchor="middle">Dimensions mm</text>
<text x="261.5" y="1389.5" font-size="13" text-anchor="middle">Φd</text>
<text x="292.1" y="1389.5" font-size="13" text-anchor="middle">A</text>
<text x="323.7" y="1389.5" font-size="13" text-anchor="middle">B</text>
<text x="356.0" y="1389.5" font-size="13" text-anchor="middle">H</text>
<text x="388.4" y="1389.5" font-size="13" text-anchor="middle">h</text>
<text x="430.0" y="1374.0" font-size="11" text-anchor="middle">Wgt.</text>
<text x="430.0" y="1387.0" font-size="11" text-anchor="middle">kgs</text>
<text x="153.0" y="1408.0" font-size="14.5" text-anchor="end" font-weight="bold">87 23 29</text>
<text x="161.0" y="1408.0" font-size="14.5" textLength="28.3" lengthAdjust="spacingAndGlyphs">53B</text>
<g stroke="#000" stroke-width="0.9" fill="none"><path d="M189.8,1397.8h6.2M189.8,1408.0h6.2M191.9,1397.8v10.1M194.4,1397.8v10.1"/></g>
<text x="196.5" y="1408.0" font-size="14.5" textLength="46.5" lengthAdjust="spacingAndGlyphs">W-300</text>
<text x="261.5" y="1408.0" font-size="14.5" text-anchor="middle" textLength="22.3" lengthAdjust="spacingAndGlyphs">300</text>
<text x="292.1" y="1408.0" font-size="14.5" text-anchor="middle" textLength="22.3" lengthAdjust="spacingAndGlyphs">613</text>
<text x="323.7" y="1408.0" font-size="14.5" text-anchor="middle" textLength="22.3" lengthAdjust="spacingAndGlyphs">633</text>
<text x="356.0" y="1408.0" font-size="14.5" text-anchor="middle" textLength="22.3" lengthAdjust="spacingAndGlyphs">458</text>
<text x="388.4" y="1408.0" font-size="14.5" text-anchor="middle" textLength="22.3" lengthAdjust="spacingAndGlyphs">365</text>
<text x="430.0" y="1408.0" font-size="14.5" text-anchor="middle" textLength="22.3" lengthAdjust="spacingAndGlyphs">120</text>
<text x="153.0" y="1422.5" font-size="14.5" text-anchor="end" font-weight="bold">30</text>
<text x="161.0" y="1422.5" font-size="14.5" textLength="28.3" lengthAdjust="spacingAndGlyphs">53B</text>
<g stroke="#000" stroke-width="0.9" fill="none"><path d="M189.8,1412.3h6.2M189.8,1422.5h6.2M191.9,1412.3v10.1M194.4,1412.3v10.1"/></g>
<text x="196.5" y="1422.5" font-size="14.5" textLength="46.5" lengthAdjust="spacingAndGlyphs">W-350</text>
<text x="261.5" y="1422.5" font-size="14.5" text-anchor="middle" textLength="22.3" lengthAdjust="spacingAndGlyphs">350</text>
<text x="292.1" y="1422.5" font-size="14.5" text-anchor="middle" textLength="22.3" lengthAdjust="spacingAndGlyphs">669</text>
<text x="323.7" y="1422.5" font-size="14.5" text-anchor="middle" textLength="22.3" lengthAdjust="spacingAndGlyphs">699</text>
<text x="356.0" y="1422.5" font-size="14.5" text-anchor="middle" textLength="22.3" lengthAdjust="spacingAndGlyphs">492</text>
<text x="388.4" y="1422.5" font-size="14.5" text-anchor="middle" textLength="22.3" lengthAdjust="spacingAndGlyphs">383</text>
<text x="430.0" y="1422.5" font-size="14.5" text-anchor="middle" textLength="22.3" lengthAdjust="spacingAndGlyphs">146</text>
<text x="153.0" y="1437.0" font-size="14.5" text-anchor="end" font-weight="bold">31</text>
<text x="161.0" y="1437.0" font-size="14.5" textLength="28.3" lengthAdjust="spacingAndGlyphs">53B</text>
<g stroke="#000" stroke-width="0.9" fill="none"><path d="M189.8,1426.8h6.2M189.8,1437.0h6.2M191.9,1426.8v10.1M194.4,1426.8v10.1"/></g>
<text x="196.5" y="1437.0" font-size="14.5" textLength="46.5" lengthAdjust="spacingAndGlyphs">W-400</text>
<text x="261.5" y="1437.0" font-size="14.5" text-anchor="middle" textLength="22.3" lengthAdjust="spacingAndGlyphs">400</text>
<text x="292.1" y="1437.0" font-size="14.5" text-anchor="middle" textLength="22.3" lengthAdjust="spacingAndGlyphs">719</text>
<text x="323.7" y="1437.0" font-size="14.5" text-anchor="middle" textLength="22.3" lengthAdjust="spacingAndGlyphs">745</text>
<text x="356.0" y="1437.0" font-size="14.5" text-anchor="middle" textLength="22.3" lengthAdjust="spacingAndGlyphs">524</text>
<text x="388.4" y="1437.0" font-size="14.5" text-anchor="middle" textLength="22.3" lengthAdjust="spacingAndGlyphs">410</text>
<text x="430.0" y="1437.0" font-size="14.5" text-anchor="middle" textLength="22.3" lengthAdjust="spacingAndGlyphs">165</text>
<text x="153.0" y="1451.5" font-size="14.5" text-anchor="end" font-weight="bold">32</text>
<text x="161.0" y="1451.5" font-size="14.5" textLength="28.3" lengthAdjust="spacingAndGlyphs">53B</text>
<g stroke="#000" stroke-width="0.9" fill="none"><path d="M189.8,1441.3h6.2M189.8,1451.5h6.2M191.9,1441.3v10.1M194.4,1441.3v10.1"/></g>
<text x="196.5" y="1451.5" font-size="14.5" textLength="46.5" lengthAdjust="spacingAndGlyphs">W-450</text>
<text x="261.5" y="1451.5" font-size="14.5" text-anchor="middle" textLength="22.3" lengthAdjust="spacingAndGlyphs">450</text>
<text x="292.1" y="1451.5" font-size="14.5" text-anchor="middle" textLength="22.3" lengthAdjust="spacingAndGlyphs">853</text>
<text x="323.7" y="1451.5" font-size="14.5" text-anchor="middle" textLength="22.3" lengthAdjust="spacingAndGlyphs">903</text>
<text x="356.0" y="1451.5" font-size="14.5" text-anchor="middle" textLength="22.3" lengthAdjust="spacingAndGlyphs">634</text>
<text x="388.4" y="1451.5" font-size="14.5" text-anchor="middle" textLength="22.3" lengthAdjust="spacingAndGlyphs">481</text>
<text x="430.0" y="1451.5" font-size="14.5" text-anchor="middle" textLength="22.3" lengthAdjust="spacingAndGlyphs">248</text>
<text x="94.0" y="1470.4" font-size="14.5" textLength="222.0" lengthAdjust="spacingAndGlyphs">Name of Mfr. : Niikura Corporation</text>
<text x="526.7" y="1186.0" font-size="17.5" font-weight="bold" textLength="102.0" lengthAdjust="spacingAndGlyphs">Model:  53C</text>
<line x1="516.7" y1="1197.5" x2="936.4" y2="1197.5" stroke="#000" stroke-width="1.2"/>
<line x1="656.0" y1="1216.0" x2="897.3" y2="1216.0" stroke="#000" stroke-width="1.08"/>
<line x1="516.7" y1="1235.0" x2="936.4" y2="1235.0" stroke="#000" stroke-width="1.2"/>
<line x1="516.7" y1="1320.0" x2="936.4" y2="1320.0" stroke="#000" stroke-width="1.2"/>
<line x1="589.3" y1="1197.5" x2="589.3" y2="1320.0" stroke="#000" stroke-width="1.08"/>
<line x1="656.0" y1="1197.5" x2="656.0" y2="1320.0" stroke="#000" stroke-width="1.08"/>
<line x1="686.0" y1="1216.0" x2="686.0" y2="1320.0" stroke="#000" stroke-width="1.08"/>
<line x1="717.4" y1="1216.0" x2="717.4" y2="1320.0" stroke="#000" stroke-width="1.08"/>
<line x1="748.0" y1="1216.0" x2="748.0" y2="1320.0" stroke="#000" stroke-width="1.08"/>
<line x1="777.0" y1="1216.0" x2="777.0" y2="1320.0" stroke="#000" stroke-width="1.08"/>
<line x1="807.7" y1="1216.0" x2="807.7" y2="1320.0" stroke="#000" stroke-width="1.08"/>
<line x1="839.4" y1="1216.0" x2="839.4" y2="1320.0" stroke="#000" stroke-width="1.08"/>
<line x1="868.5" y1="1216.0" x2="868.5" y2="1320.0" stroke="#000" stroke-width="1.08"/>
<line x1="897.3" y1="1197.5" x2="897.3" y2="1320.0" stroke="#000" stroke-width="1.08"/>
<text x="553.0" y="1222.9" font-size="15" text-anchor="middle">CODE</text>
<text x="622.6" y="1222.9" font-size="15" text-anchor="middle">Model</text>
<text x="776.6" y="1210.0" font-size="16" text-anchor="middle" textLength="118.0" lengthAdjust="spacingAndGlyphs">Dimensions mm</text>
<text x="671.0" y="1232.0" font-size="15" text-anchor="middle" textLength="18.3" lengthAdjust="spacingAndGlyphs">Φd</text>
<text x="701.7" y="1232.0" font-size="15" text-anchor="middle" textLength="9.7" lengthAdjust="spacingAndGlyphs">H</text>
<text x="732.7" y="1232.0" font-size="15" text-anchor="middle" textLength="15.0" lengthAdjust="spacingAndGlyphs">h1</text>
<text x="762.5" y="1232.0" font-size="15" text-anchor="middle" textLength="15.0" lengthAdjust="spacingAndGlyphs">h2</text>
<text x="792.4" y="1232.0" font-size="15" text-anchor="middle" textLength="3.8" lengthAdjust="spacingAndGlyphs">t</text>
<text x="823.5" y="1232.0" font-size="15" text-anchor="middle" textLength="20.2" lengthAdjust="spacingAndGlyphs">W1</text>
<text x="854.0" y="1232.0" font-size="15" text-anchor="middle" textLength="20.2" lengthAdjust="spacingAndGlyphs">W2</text>
<text x="882.9" y="1232.0" font-size="15" text-anchor="middle" textLength="20.2" lengthAdjust="spacingAndGlyphs">W3</text>
<text x="916.8" y="1213.5" font-size="15" text-anchor="middle">Wgt.</text>
<text x="916.8" y="1228.6" font-size="15" text-anchor="middle">kgs</text>
<text x="585.3" y="1251.3" font-size="17" text-anchor="end" font-weight="bold">87 23 35</text>
<text x="592.3" y="1251.3" font-size="14.5" textLength="59.2" lengthAdjust="spacingAndGlyphs">53C - 100</text>
<text x="671.0" y="1251.3" font-size="14.5" text-anchor="middle" textLength="21.8" lengthAdjust="spacingAndGlyphs">100</text>
<text x="701.7" y="1251.3" font-size="14.5" text-anchor="middle" textLength="21.8" lengthAdjust="spacingAndGlyphs">364</text>
<text x="732.7" y="1251.3" font-size="14.5" text-anchor="middle" textLength="21.8" lengthAdjust="spacingAndGlyphs">284</text>
<text x="762.5" y="1251.3" font-size="14.5" text-anchor="middle" textLength="21.8" lengthAdjust="spacingAndGlyphs">140</text>
<text x="792.4" y="1251.3" font-size="14.5" text-anchor="middle" textLength="14.5" lengthAdjust="spacingAndGlyphs">16</text>
<text x="823.5" y="1251.3" font-size="14.5" text-anchor="middle" textLength="21.8" lengthAdjust="spacingAndGlyphs">202</text>
<text x="854.0" y="1251.3" font-size="14.5" text-anchor="middle" textLength="20.8" lengthAdjust="spacingAndGlyphs">118</text>
<text x="882.9" y="1251.3" font-size="14.5" text-anchor="middle" textLength="20.8" lengthAdjust="spacingAndGlyphs">116</text>
<text x="930.4" y="1251.3" font-size="14.5" text-anchor="end" textLength="14.5" lengthAdjust="spacingAndGlyphs">20</text>
<text x="585.3" y="1266.7" font-size="17" text-anchor="end" font-weight="bold">36</text>
<text x="592.3" y="1266.7" font-size="14.5" textLength="59.2" lengthAdjust="spacingAndGlyphs">53C - 125</text>
<text x="671.0" y="1266.7" font-size="14.5" text-anchor="middle" textLength="21.8" lengthAdjust="spacingAndGlyphs">125</text>
<text x="701.7" y="1266.7" font-size="14.5" text-anchor="middle" textLength="21.8" lengthAdjust="spacingAndGlyphs">433</text>
<text x="732.7" y="1266.7" font-size="14.5" text-anchor="middle" textLength="21.8" lengthAdjust="spacingAndGlyphs">342</text>
<text x="762.5" y="1266.7" font-size="14.5" text-anchor="middle" textLength="21.8" lengthAdjust="spacingAndGlyphs">180</text>
<text x="792.4" y="1266.7" font-size="14.5" text-anchor="middle" textLength="14.5" lengthAdjust="spacingAndGlyphs">16</text>
<text x="823.5" y="1266.7" font-size="14.5" text-anchor="middle" textLength="21.8" lengthAdjust="spacingAndGlyphs">260</text>
<text x="854.0" y="1266.7" font-size="14.5" text-anchor="middle" textLength="21.8" lengthAdjust="spacingAndGlyphs">192</text>
<text x="882.9" y="1266.7" font-size="14.5" text-anchor="middle" textLength="21.8" lengthAdjust="spacingAndGlyphs">192</text>
<text x="930.4" y="1266.7" font-size="14.5" text-anchor="end" textLength="14.5" lengthAdjust="spacingAndGlyphs">35</text>
<text x="585.3" y="1282.2" font-size="17" text-anchor="end" font-weight="bold">37</text>
<text x="592.3" y="1282.2" font-size="14.5" textLength="59.2" lengthAdjust="spacingAndGlyphs">53C - 150</text>
<text x="671.0" y="1282.2" font-size="14.5" text-anchor="middle" textLength="21.8" lengthAdjust="spacingAndGlyphs">150</text>
<text x="701.7" y="1282.2" font-size="14.5" text-anchor="middle" textLength="21.8" lengthAdjust="spacingAndGlyphs">502</text>
<text x="732.7" y="1282.2" font-size="14.5" text-anchor="middle" textLength="21.8" lengthAdjust="spacingAndGlyphs">390</text>
<text x="762.5" y="1282.2" font-size="14.5" text-anchor="middle" textLength="21.8" lengthAdjust="spacingAndGlyphs">195</text>
<text x="792.4" y="1282.2" font-size="14.5" text-anchor="middle" textLength="14.5" lengthAdjust="spacingAndGlyphs">18</text>
<text x="823.5" y="1282.2" font-size="14.5" text-anchor="middle" textLength="21.8" lengthAdjust="spacingAndGlyphs">302</text>
<text x="854.0" y="1282.2" font-size="14.5" text-anchor="middle" textLength="21.8" lengthAdjust="spacingAndGlyphs">200</text>
<text x="882.9" y="1282.2" font-size="14.5" text-anchor="middle" textLength="21.8" lengthAdjust="spacingAndGlyphs">224</text>
<text x="930.4" y="1282.2" font-size="14.5" text-anchor="end" textLength="14.5" lengthAdjust="spacingAndGlyphs">51</text>
<text x="585.3" y="1297.6" font-size="17" text-anchor="end" font-weight="bold">61</text>
<text x="592.3" y="1297.6" font-size="14.5" textLength="59.2" lengthAdjust="spacingAndGlyphs">53C - 200</text>
<text x="671.0" y="1297.6" font-size="14.5" text-anchor="middle" textLength="21.8" lengthAdjust="spacingAndGlyphs">200</text>
<text x="701.7" y="1297.6" font-size="14.5" text-anchor="middle" textLength="21.8" lengthAdjust="spacingAndGlyphs">641</text>
<text x="732.7" y="1297.6" font-size="14.5" text-anchor="middle" textLength="21.8" lengthAdjust="spacingAndGlyphs">487</text>
<text x="762.5" y="1297.6" font-size="14.5" text-anchor="middle" textLength="21.8" lengthAdjust="spacingAndGlyphs">264</text>
<text x="792.4" y="1297.6" font-size="14.5" text-anchor="middle" textLength="14.5" lengthAdjust="spacingAndGlyphs">20</text>
<text x="823.5" y="1297.6" font-size="14.5" text-anchor="middle" textLength="21.8" lengthAdjust="spacingAndGlyphs">350</text>
<text x="854.0" y="1297.6" font-size="14.5" text-anchor="middle" textLength="21.8" lengthAdjust="spacingAndGlyphs">253</text>
<text x="882.9" y="1297.6" font-size="14.5" text-anchor="middle" textLength="21.8" lengthAdjust="spacingAndGlyphs">233</text>
<text x="930.4" y="1297.6" font-size="14.5" text-anchor="end" textLength="21.8" lengthAdjust="spacingAndGlyphs">102</text>
<text x="585.3" y="1313.0" font-size="17" text-anchor="end" font-weight="bold">62</text>
<text x="592.3" y="1313.0" font-size="14.5" textLength="59.2" lengthAdjust="spacingAndGlyphs">53C - 250</text>
<text x="671.0" y="1313.0" font-size="14.5" text-anchor="middle" textLength="21.8" lengthAdjust="spacingAndGlyphs">250</text>
<text x="701.7" y="1313.0" font-size="14.5" text-anchor="middle" textLength="21.8" lengthAdjust="spacingAndGlyphs">771</text>
<text x="732.7" y="1313.0" font-size="14.5" text-anchor="middle" textLength="21.8" lengthAdjust="spacingAndGlyphs">593</text>
<text x="762.5" y="1313.0" font-size="14.5" text-anchor="middle" textLength="21.8" lengthAdjust="spacingAndGlyphs">335</text>
<text x="792.4" y="1313.0" font-size="14.5" text-anchor="middle" textLength="14.5" lengthAdjust="spacingAndGlyphs">22</text>
<text x="823.5" y="1313.0" font-size="14.5" text-anchor="middle" textLength="21.8" lengthAdjust="spacingAndGlyphs">453</text>
<text x="854.0" y="1313.0" font-size="14.5" text-anchor="middle" textLength="21.8" lengthAdjust="spacingAndGlyphs">313</text>
<text x="882.9" y="1313.0" font-size="14.5" text-anchor="middle" textLength="21.8" lengthAdjust="spacingAndGlyphs">280</text>
<text x="930.4" y="1313.0" font-size="14.5" text-anchor="end" textLength="21.8" lengthAdjust="spacingAndGlyphs">145</text>
<text x="524.6" y="1349.0" font-size="17.5" font-weight="bold" textLength="239.4" lengthAdjust="spacingAndGlyphs">Model:  53CW (with Screen)</text>
<line x1="512.0" y1="1369.6" x2="938.6" y2="1369.6" stroke="#000" stroke-width="1.2"/>
<line x1="660.0" y1="1387.4" x2="901.0" y2="1387.4" stroke="#000" stroke-width="1.08"/>
<line x1="512.0" y1="1407.2" x2="938.6" y2="1407.2" stroke="#000" stroke-width="1.2"/>
<line x1="512.0" y1="1543.0" x2="938.6" y2="1543.0" stroke="#000" stroke-width="1.2"/>
<line x1="512.0" y1="1492.8" x2="938.6" y2="1492.8" stroke="#000" stroke-width="1.2"/>
<line x1="581.4" y1="1369.6" x2="581.4" y2="1543.0" stroke="#000" stroke-width="1.08"/>
<line x1="660.0" y1="1369.6" x2="660.0" y2="1543.0" stroke="#000" stroke-width="1.08"/>
<line x1="690.0" y1="1387.4" x2="690.0" y2="1543.0" stroke="#000" stroke-width="1.08"/>
<line x1="721.7" y1="1387.4" x2="721.7" y2="1543.0" stroke="#000" stroke-width="1.08"/>
<line x1="752.5" y1="1387.4" x2="752.5" y2="1543.0" stroke="#000" stroke-width="1.08"/>
<line x1="782.0" y1="1387.4" x2="782.0" y2="1543.0" stroke="#000" stroke-width="1.08"/>
<line x1="811.3" y1="1387.4" x2="811.3" y2="1543.0" stroke="#000" stroke-width="1.08"/>
<line x1="843.0" y1="1387.4" x2="843.0" y2="1543.0" stroke="#000" stroke-width="1.08"/>
<line x1="873.0" y1="1387.4" x2="873.0" y2="1543.0" stroke="#000" stroke-width="1.08"/>
<line x1="901.0" y1="1369.6" x2="901.0" y2="1543.0" stroke="#000" stroke-width="1.08"/>
<text x="546.7" y="1393.6" font-size="15" text-anchor="middle">CODE</text>
<text x="620.7" y="1393.6" font-size="15" text-anchor="middle">Model</text>
<text x="780.5" y="1382.6" font-size="16" text-anchor="middle" textLength="118.0" lengthAdjust="spacingAndGlyphs">Dimensions mm</text>
<text x="675.0" y="1403.0" font-size="15" text-anchor="middle" textLength="18.3" lengthAdjust="spacingAndGlyphs">Φd</text>
<text x="705.9" y="1403.0" font-size="15" text-anchor="middle" textLength="9.7" lengthAdjust="spacingAndGlyphs">H</text>
<text x="737.1" y="1403.0" font-size="15" text-anchor="middle" textLength="15.0" lengthAdjust="spacingAndGlyphs">h1</text>
<text x="767.2" y="1403.0" font-size="15" text-anchor="middle" textLength="15.0" lengthAdjust="spacingAndGlyphs">h2</text>
<text x="796.6" y="1403.0" font-size="15" text-anchor="middle" textLength="3.8" lengthAdjust="spacingAndGlyphs">t</text>
<text x="827.1" y="1403.0" font-size="15" text-anchor="middle" textLength="20.2" lengthAdjust="spacingAndGlyphs">W1</text>
<text x="858.0" y="1403.0" font-size="15" text-anchor="middle" textLength="20.2" lengthAdjust="spacingAndGlyphs">W2</text>
<text x="887.0" y="1403.0" font-size="15" text-anchor="middle" textLength="20.2" lengthAdjust="spacingAndGlyphs">W3</text>
<text x="919.8" y="1384.3" font-size="15" text-anchor="middle">Wgt.</text>
<text x="919.8" y="1402.0" font-size="15" text-anchor="middle">kgs</text>
<text x="577.4" y="1422.6" font-size="17" text-anchor="end" font-weight="bold">87 23 38</text>
<text x="584.4" y="1422.6" font-size="14.5" textLength="64.2" lengthAdjust="spacingAndGlyphs">53CW-  50</text>
<text x="687.0" y="1422.6" font-size="14.5" text-anchor="end" textLength="14.5" lengthAdjust="spacingAndGlyphs">50</text>
<text x="705.9" y="1422.6" font-size="14.5" text-anchor="middle" textLength="21.8" lengthAdjust="spacingAndGlyphs">261</text>
<text x="737.1" y="1422.6" font-size="14.5" text-anchor="middle" textLength="21.8" lengthAdjust="spacingAndGlyphs">219</text>
<text x="767.2" y="1422.6" font-size="14.5" text-anchor="middle" textLength="20.8" lengthAdjust="spacingAndGlyphs">113</text>
<text x="796.6" y="1422.6" font-size="14.5" text-anchor="middle" textLength="14.5" lengthAdjust="spacingAndGlyphs">14</text>
<text x="827.1" y="1422.6" font-size="14.5" text-anchor="middle" textLength="21.8" lengthAdjust="spacingAndGlyphs">162</text>
<text x="870.0" y="1422.6" font-size="14.5" text-anchor="end" textLength="14.5" lengthAdjust="spacingAndGlyphs">92</text>
<text x="898.0" y="1422.6" font-size="14.5" text-anchor="end" textLength="14.5" lengthAdjust="spacingAndGlyphs">88</text>
<text x="930.6" y="1422.6" font-size="14.5" text-anchor="end" textLength="14.5" lengthAdjust="spacingAndGlyphs">12</text>
<text x="577.4" y="1438.0" font-size="17" text-anchor="end" font-weight="bold">39</text>
<text x="584.4" y="1438.0" font-size="14.5" textLength="64.2" lengthAdjust="spacingAndGlyphs">53CW-  65</text>
<text x="687.0" y="1438.0" font-size="14.5" text-anchor="end" textLength="14.5" lengthAdjust="spacingAndGlyphs">65</text>
<text x="705.9" y="1432.0" font-size="9" text-anchor="middle">··</text>
<text x="737.1" y="1432.0" font-size="9" text-anchor="middle">··</text>
<text x="767.2" y="1432.0" font-size="9" text-anchor="middle">··</text>
<text x="796.6" y="1432.0" font-size="9" text-anchor="middle">··</text>
<text x="827.1" y="1432.0" font-size="9" text-anchor="middle">··</text>
<text x="870.0" y="1438.0" font-size="14.5" text-anchor="end" textLength="14.5" lengthAdjust="spacingAndGlyphs">85</text>
<text x="898.0" y="1438.0" font-size="14.5" text-anchor="end" textLength="14.5" lengthAdjust="spacingAndGlyphs">96</text>
<text x="928.6" y="1432.0" font-size="9" text-anchor="end">··</text>
<text x="577.4" y="1453.5" font-size="17" text-anchor="end" font-weight="bold">40</text>
<text x="584.4" y="1453.5" font-size="14.5" textLength="64.2" lengthAdjust="spacingAndGlyphs">53CW-  80</text>
<text x="687.0" y="1453.5" font-size="14.5" text-anchor="end" textLength="14.5" lengthAdjust="spacingAndGlyphs">80</text>
<text x="705.9" y="1453.5" font-size="14.5" text-anchor="middle" textLength="21.8" lengthAdjust="spacingAndGlyphs">298</text>
<text x="737.1" y="1453.5" font-size="14.5" text-anchor="middle" textLength="21.8" lengthAdjust="spacingAndGlyphs">246</text>
<text x="767.2" y="1453.5" font-size="14.5" text-anchor="middle" textLength="21.8" lengthAdjust="spacingAndGlyphs">123</text>
<text x="796.6" y="1447.5" font-size="9" text-anchor="middle">··</text>
<text x="827.1" y="1453.5" font-size="14.5" text-anchor="middle" textLength="21.8" lengthAdjust="spacingAndGlyphs">190</text>
<text x="870.0" y="1453.5" font-size="14.5" text-anchor="end" textLength="14.5" lengthAdjust="spacingAndGlyphs">98</text>
<text x="898.0" y="1453.5" font-size="14.5" text-anchor="end" textLength="21.8" lengthAdjust="spacingAndGlyphs">109</text>
<text x="930.6" y="1453.5" font-size="14.5" text-anchor="end" textLength="14.5" lengthAdjust="spacingAndGlyphs">17</text>
<text x="577.4" y="1469.0" font-size="17" text-anchor="end" font-weight="bold">41</text>
<text x="584.4" y="1469.0" font-size="14.5" textLength="64.2" lengthAdjust="spacingAndGlyphs">53CW-100</text>
<text x="687.0" y="1469.0" font-size="14.5" text-anchor="end" textLength="21.8" lengthAdjust="spacingAndGlyphs">100</text>
<text x="705.9" y="1469.0" font-size="14.5" text-anchor="middle" textLength="21.8" lengthAdjust="spacingAndGlyphs">364</text>
<text x="737.1" y="1469.0" font-size="14.5" text-anchor="middle" textLength="21.8" lengthAdjust="spacingAndGlyphs">284</text>
<text x="767.2" y="1469.0" font-size="14.5" text-anchor="middle" textLength="21.8" lengthAdjust="spacingAndGlyphs">140</text>
<text x="796.6" y="1469.0" font-size="14.5" text-anchor="middle" textLength="14.5" lengthAdjust="spacingAndGlyphs">16</text>
<text x="827.1" y="1469.0" font-size="14.5" text-anchor="middle" textLength="21.8" lengthAdjust="spacingAndGlyphs">202</text>
<text x="870.0" y="1469.0" font-size="14.5" text-anchor="end" textLength="20.8" lengthAdjust="spacingAndGlyphs">118</text>
<text x="898.0" y="1469.0" font-size="14.5" text-anchor="end" textLength="20.8" lengthAdjust="spacingAndGlyphs">116</text>
<text x="930.6" y="1469.0" font-size="14.5" text-anchor="end" textLength="14.5" lengthAdjust="spacingAndGlyphs">20</text>
<text x="577.4" y="1484.5" font-size="17" text-anchor="end" font-weight="bold">42</text>
<text x="584.4" y="1484.5" font-size="14.5" textLength="64.2" lengthAdjust="spacingAndGlyphs">53CW-125</text>
<text x="687.0" y="1484.5" font-size="14.5" text-anchor="end" textLength="21.8" lengthAdjust="spacingAndGlyphs">125</text>
<text x="705.9" y="1484.5" font-size="14.5" text-anchor="middle" textLength="21.8" lengthAdjust="spacingAndGlyphs">433</text>
<text x="737.1" y="1484.5" font-size="14.5" text-anchor="middle" textLength="21.8" lengthAdjust="spacingAndGlyphs">342</text>
<text x="767.2" y="1484.5" font-size="14.5" text-anchor="middle" textLength="21.8" lengthAdjust="spacingAndGlyphs">180</text>
<text x="796.6" y="1478.5" font-size="9" text-anchor="middle">··</text>
<text x="827.1" y="1484.5" font-size="14.5" text-anchor="middle" textLength="21.8" lengthAdjust="spacingAndGlyphs">260</text>
<text x="870.0" y="1484.5" font-size="14.5" text-anchor="end" textLength="21.8" lengthAdjust="spacingAndGlyphs">192</text>
<text x="898.0" y="1484.5" font-size="14.5" text-anchor="end" textLength="21.8" lengthAdjust="spacingAndGlyphs">192</text>
<text x="930.6" y="1484.5" font-size="14.5" text-anchor="end" textLength="14.5" lengthAdjust="spacingAndGlyphs">35</text>
<text x="577.4" y="1508.0" font-size="17" text-anchor="end" font-weight="bold">87 23 43</text>
<text x="584.4" y="1508.0" font-size="14.5" textLength="64.2" lengthAdjust="spacingAndGlyphs">53CW-150</text>
<text x="687.0" y="1508.0" font-size="14.5" text-anchor="end" textLength="21.8" lengthAdjust="spacingAndGlyphs">150</text>
<text x="705.9" y="1508.0" font-size="14.5" text-anchor="middle" textLength="21.8" lengthAdjust="spacingAndGlyphs">502</text>
<text x="737.1" y="1508.0" font-size="14.5" text-anchor="middle" textLength="21.8" lengthAdjust="spacingAndGlyphs">390</text>
<text x="767.2" y="1508.0" font-size="14.5" text-anchor="middle" textLength="21.8" lengthAdjust="spacingAndGlyphs">195</text>
<text x="796.6" y="1508.0" font-size="14.5" text-anchor="middle" textLength="14.5" lengthAdjust="spacingAndGlyphs">18</text>
<text x="827.1" y="1508.0" font-size="14.5" text-anchor="middle" textLength="21.8" lengthAdjust="spacingAndGlyphs">302</text>
<text x="870.0" y="1508.0" font-size="14.5" text-anchor="end" textLength="21.8" lengthAdjust="spacingAndGlyphs">200</text>
<text x="898.0" y="1508.0" font-size="14.5" text-anchor="end" textLength="21.8" lengthAdjust="spacingAndGlyphs">224</text>
<text x="930.6" y="1508.0" font-size="14.5" text-anchor="end" textLength="14.5" lengthAdjust="spacingAndGlyphs">51</text>
<text x="577.4" y="1523.5" font-size="17" text-anchor="end" font-weight="bold">63</text>
<text x="584.4" y="1523.5" font-size="14.5" textLength="64.2" lengthAdjust="spacingAndGlyphs">53CW-200</text>
<text x="687.0" y="1523.5" font-size="14.5" text-anchor="end" textLength="21.8" lengthAdjust="spacingAndGlyphs">200</text>
<text x="705.9" y="1523.5" font-size="14.5" text-anchor="middle" textLength="21.8" lengthAdjust="spacingAndGlyphs">641</text>
<text x="737.1" y="1523.5" font-size="14.5" text-anchor="middle" textLength="21.8" lengthAdjust="spacingAndGlyphs">487</text>
<text x="767.2" y="1523.5" font-size="14.5" text-anchor="middle" textLength="21.8" lengthAdjust="spacingAndGlyphs">264</text>
<text x="796.6" y="1523.5" font-size="14.5" text-anchor="middle" textLength="14.5" lengthAdjust="spacingAndGlyphs">20</text>
<text x="827.1" y="1523.5" font-size="14.5" text-anchor="middle" textLength="21.8" lengthAdjust="spacingAndGlyphs">350</text>
<text x="870.0" y="1523.5" font-size="14.5" text-anchor="end" textLength="21.8" lengthAdjust="spacingAndGlyphs">253</text>
<text x="898.0" y="1523.5" font-size="14.5" text-anchor="end" textLength="21.8" lengthAdjust="spacingAndGlyphs">233</text>
<text x="930.6" y="1523.5" font-size="14.5" text-anchor="end" textLength="21.8" lengthAdjust="spacingAndGlyphs">102</text>
<text x="577.4" y="1539.0" font-size="17" text-anchor="end" font-weight="bold">64</text>
<text x="584.4" y="1539.0" font-size="14.5" textLength="64.2" lengthAdjust="spacingAndGlyphs">53CW-250</text>
<text x="687.0" y="1539.0" font-size="14.5" text-anchor="end" textLength="21.8" lengthAdjust="spacingAndGlyphs">250</text>
<text x="705.9" y="1539.0" font-size="14.5" text-anchor="middle" textLength="21.8" lengthAdjust="spacingAndGlyphs">771</text>
<text x="737.1" y="1539.0" font-size="14.5" text-anchor="middle" textLength="21.8" lengthAdjust="spacingAndGlyphs">593</text>
<text x="767.2" y="1539.0" font-size="14.5" text-anchor="middle" textLength="21.8" lengthAdjust="spacingAndGlyphs">335</text>
<text x="796.6" y="1539.0" font-size="14.5" text-anchor="middle" textLength="14.5" lengthAdjust="spacingAndGlyphs">22</text>
<text x="827.1" y="1539.0" font-size="14.5" text-anchor="middle" textLength="21.8" lengthAdjust="spacingAndGlyphs">453</text>
<text x="870.0" y="1539.0" font-size="14.5" text-anchor="end" textLength="21.8" lengthAdjust="spacingAndGlyphs">313</text>
<text x="898.0" y="1539.0" font-size="14.5" text-anchor="end" textLength="21.8" lengthAdjust="spacingAndGlyphs">280</text>
<text x="930.6" y="1539.0" font-size="14.5" text-anchor="end" textLength="21.8" lengthAdjust="spacingAndGlyphs">145</text>
<text x="516.4" y="1563.0" font-size="14" textLength="219.0" lengthAdjust="spacingAndGlyphs">Name of Mfr.: Niikura Corporation</text>
<text x="980.8" y="1157.8" font-size="19" font-weight="bold" textLength="99.6" lengthAdjust="spacingAndGlyphs">Model:  53P</text>
<line x1="961.0" y1="1166.2" x2="1343.5" y2="1166.2" stroke="#000" stroke-width="1.2"/>
<line x1="1097.7" y1="1189.5" x2="1311.4" y2="1189.5" stroke="#000" stroke-width="1.08"/>
<line x1="961.0" y1="1212.0" x2="1343.5" y2="1212.0" stroke="#000" stroke-width="1.2"/>
<line x1="961.0" y1="1370.0" x2="1343.5" y2="1370.0" stroke="#000" stroke-width="1.2"/>
<line x1="961.0" y1="1308.7" x2="1343.5" y2="1308.7" stroke="#000" stroke-width="1.2"/>
<line x1="1026.2" y1="1166.2" x2="1026.2" y2="1370.0" stroke="#000" stroke-width="1.08"/>
<line x1="1097.7" y1="1166.2" x2="1097.7" y2="1370.0" stroke="#000" stroke-width="1.08"/>
<line x1="1126.7" y1="1189.5" x2="1126.7" y2="1370.0" stroke="#000" stroke-width="1.08"/>
<line x1="1153.7" y1="1189.5" x2="1153.7" y2="1370.0" stroke="#000" stroke-width="1.08"/>
<line x1="1181.7" y1="1189.5" x2="1181.7" y2="1370.0" stroke="#000" stroke-width="1.08"/>
<line x1="1211.9" y1="1189.5" x2="1211.9" y2="1370.0" stroke="#000" stroke-width="1.08"/>
<line x1="1231.5" y1="1189.5" x2="1231.5" y2="1370.0" stroke="#000" stroke-width="1.08"/>
<line x1="1258.9" y1="1189.5" x2="1258.9" y2="1370.0" stroke="#000" stroke-width="1.08"/>
<line x1="1285.3" y1="1189.5" x2="1285.3" y2="1370.0" stroke="#000" stroke-width="1.08"/>
<line x1="1311.4" y1="1166.2" x2="1311.4" y2="1370.0" stroke="#000" stroke-width="1.08"/>
<text x="993.6" y="1194.8" font-size="15.5" text-anchor="middle">CODE</text>
<text x="1062.0" y="1194.8" font-size="15.5" text-anchor="middle">Model</text>
<text x="1204.5" y="1183.3" font-size="15.5" text-anchor="middle">Dimensions mm</text>
<text x="1112.2" y="1206.7" font-size="15" text-anchor="middle" textLength="19.3" lengthAdjust="spacingAndGlyphs">Φd</text>
<text x="1140.2" y="1206.7" font-size="15" text-anchor="middle" textLength="10.3" lengthAdjust="spacingAndGlyphs">H</text>
<text x="1167.7" y="1206.7" font-size="15" text-anchor="middle" textLength="15.8" lengthAdjust="spacingAndGlyphs">h1</text>
<text x="1196.8" y="1206.7" font-size="15" text-anchor="middle" textLength="15.8" lengthAdjust="spacingAndGlyphs">h2</text>
<text x="1221.7" y="1206.7" font-size="15" text-anchor="middle" textLength="4.0" lengthAdjust="spacingAndGlyphs">t</text>
<text x="1245.2" y="1206.7" font-size="15" text-anchor="middle" textLength="21.4" lengthAdjust="spacingAndGlyphs">W1</text>
<text x="1272.1" y="1206.7" font-size="15" text-anchor="middle" textLength="21.4" lengthAdjust="spacingAndGlyphs">W2</text>
<text x="1298.3" y="1206.7" font-size="15" text-anchor="middle" textLength="21.4" lengthAdjust="spacingAndGlyphs">W3</text>
<text x="1327.5" y="1184.9" font-size="15.5" text-anchor="middle">Wgt.</text>
<text x="1327.5" y="1202.0" font-size="15.5" text-anchor="middle">kgs</text>
<text x="1023.2" y="1231.0" font-size="17.5" text-anchor="end" font-weight="bold" textLength="62.7" lengthAdjust="spacingAndGlyphs">87 23 45</text>
<text x="1034.2" y="1231.0" font-size="15" textLength="29.1" lengthAdjust="spacingAndGlyphs">53P-</text>
<text x="1089.7" y="1231.0" font-size="15" text-anchor="end" textLength="15.3" lengthAdjust="spacingAndGlyphs">50</text>
<text x="1125.7" y="1231.0" font-size="15" text-anchor="end" textLength="15.0" lengthAdjust="spacingAndGlyphs">50</text>
<text x="1152.7" y="1231.0" font-size="15" text-anchor="end" textLength="22.5" lengthAdjust="spacingAndGlyphs">264</text>
<text x="1180.7" y="1231.0" font-size="15" text-anchor="end" textLength="22.5" lengthAdjust="spacingAndGlyphs">221</text>
<text x="1210.9" y="1231.0" font-size="15" text-anchor="end" textLength="21.5" lengthAdjust="spacingAndGlyphs">112</text>
<text x="1230.5" y="1231.0" font-size="15" text-anchor="end" textLength="15.0" lengthAdjust="spacingAndGlyphs">14</text>
<text x="1257.9" y="1231.0" font-size="15" text-anchor="end" textLength="22.5" lengthAdjust="spacingAndGlyphs">162</text>
<text x="1284.3" y="1231.0" font-size="15" text-anchor="end" textLength="15.0" lengthAdjust="spacingAndGlyphs">92</text>
<text x="1310.4" y="1231.0" font-size="15" text-anchor="end" textLength="22.5" lengthAdjust="spacingAndGlyphs">127</text>
<text x="1338.5" y="1231.0" font-size="15" text-anchor="end" textLength="15.3" lengthAdjust="spacingAndGlyphs">14</text>
<text x="1023.2" y="1249.3" font-size="17.5" text-anchor="end" font-weight="bold" textLength="17.9" lengthAdjust="spacingAndGlyphs">46</text>
<text x="1034.2" y="1249.3" font-size="15" textLength="29.1" lengthAdjust="spacingAndGlyphs">53P-</text>
<text x="1089.7" y="1249.3" font-size="15" text-anchor="end" textLength="15.3" lengthAdjust="spacingAndGlyphs">65</text>
<text x="1125.7" y="1249.3" font-size="15" text-anchor="end" textLength="15.0" lengthAdjust="spacingAndGlyphs">65</text>
<text x="1152.7" y="1249.3" font-size="15" text-anchor="end" textLength="22.5" lengthAdjust="spacingAndGlyphs">264</text>
<text x="1180.7" y="1249.3" font-size="15" text-anchor="end" textLength="22.5" lengthAdjust="spacingAndGlyphs">221</text>
<text x="1210.9" y="1249.3" font-size="15" text-anchor="end" textLength="22.5" lengthAdjust="spacingAndGlyphs">122</text>
<text x="1230.5" y="1249.3" font-size="15" text-anchor="end" textLength="15.0" lengthAdjust="spacingAndGlyphs">14</text>
<text x="1257.9" y="1249.3" font-size="15" text-anchor="end" textLength="22.5" lengthAdjust="spacingAndGlyphs">162</text>
<text x="1284.3" y="1249.3" font-size="15" text-anchor="end" textLength="15.0" lengthAdjust="spacingAndGlyphs">92</text>
<text x="1310.4" y="1249.3" font-size="15" text-anchor="end" textLength="22.5" lengthAdjust="spacingAndGlyphs">132</text>
<text x="1338.5" y="1249.3" font-size="15" text-anchor="end" textLength="15.3" lengthAdjust="spacingAndGlyphs">15</text>
<text x="1023.2" y="1267.5" font-size="17.5" text-anchor="end" font-weight="bold" textLength="17.9" lengthAdjust="spacingAndGlyphs">47</text>
<text x="1034.2" y="1267.5" font-size="15" textLength="29.1" lengthAdjust="spacingAndGlyphs">53P-</text>
<text x="1089.7" y="1267.5" font-size="15" text-anchor="end" textLength="15.3" lengthAdjust="spacingAndGlyphs">80</text>
<text x="1125.7" y="1267.5" font-size="15" text-anchor="end" textLength="15.0" lengthAdjust="spacingAndGlyphs">80</text>
<text x="1152.7" y="1267.5" font-size="15" text-anchor="end" textLength="22.5" lengthAdjust="spacingAndGlyphs">300</text>
<text x="1180.7" y="1267.5" font-size="15" text-anchor="end" textLength="22.5" lengthAdjust="spacingAndGlyphs">248</text>
<text x="1210.9" y="1267.5" font-size="15" text-anchor="end" textLength="22.5" lengthAdjust="spacingAndGlyphs">132</text>
<text x="1230.5" y="1267.5" font-size="15" text-anchor="end" textLength="15.0" lengthAdjust="spacingAndGlyphs">14</text>
<text x="1257.9" y="1267.5" font-size="15" text-anchor="end" textLength="22.5" lengthAdjust="spacingAndGlyphs">190</text>
<text x="1284.3" y="1267.5" font-size="15" text-anchor="end" textLength="15.0" lengthAdjust="spacingAndGlyphs">98</text>
<text x="1310.4" y="1267.5" font-size="15" text-anchor="end" textLength="22.5" lengthAdjust="spacingAndGlyphs">152</text>
<text x="1338.5" y="1267.5" font-size="15" text-anchor="end" textLength="15.3" lengthAdjust="spacingAndGlyphs">20</text>
<text x="1023.2" y="1285.5" font-size="17.5" text-anchor="end" font-weight="bold" textLength="17.9" lengthAdjust="spacingAndGlyphs">48</text>
<text x="1034.2" y="1285.5" font-size="15" textLength="29.1" lengthAdjust="spacingAndGlyphs">53P-</text>
<text x="1089.7" y="1285.5" font-size="15" text-anchor="end" textLength="23.0" lengthAdjust="spacingAndGlyphs">100</text>
<text x="1125.7" y="1285.5" font-size="15" text-anchor="end" textLength="22.5" lengthAdjust="spacingAndGlyphs">100</text>
<text x="1152.7" y="1285.5" font-size="15" text-anchor="end" textLength="22.5" lengthAdjust="spacingAndGlyphs">366</text>
<text x="1180.7" y="1285.5" font-size="15" text-anchor="end" textLength="22.5" lengthAdjust="spacingAndGlyphs">286</text>
<text x="1210.9" y="1285.5" font-size="15" text-anchor="end" textLength="22.5" lengthAdjust="spacingAndGlyphs">152</text>
<text x="1230.5" y="1285.5" font-size="15" text-anchor="end" textLength="15.0" lengthAdjust="spacingAndGlyphs">16</text>
<text x="1257.9" y="1285.5" font-size="15" text-anchor="end" textLength="22.5" lengthAdjust="spacingAndGlyphs">202</text>
<text x="1284.3" y="1285.5" font-size="15" text-anchor="end" textLength="21.5" lengthAdjust="spacingAndGlyphs">118</text>
<text x="1310.4" y="1285.5" font-size="15" text-anchor="end" textLength="22.5" lengthAdjust="spacingAndGlyphs">162</text>
<text x="1338.5" y="1285.5" font-size="15" text-anchor="end" textLength="15.3" lengthAdjust="spacingAndGlyphs">25</text>
<text x="1023.2" y="1303.6" font-size="17.5" text-anchor="end" font-weight="bold" textLength="17.9" lengthAdjust="spacingAndGlyphs">49</text>
<text x="1034.2" y="1303.6" font-size="15" textLength="29.1" lengthAdjust="spacingAndGlyphs">53P-</text>
<text x="1089.7" y="1303.6" font-size="15" text-anchor="end" textLength="23.0" lengthAdjust="spacingAndGlyphs">125</text>
<text x="1125.7" y="1303.6" font-size="15" text-anchor="end" textLength="22.5" lengthAdjust="spacingAndGlyphs">125</text>
<text x="1152.7" y="1303.6" font-size="15" text-anchor="end" textLength="22.5" lengthAdjust="spacingAndGlyphs">435</text>
<text x="1180.7" y="1303.6" font-size="15" text-anchor="end" textLength="22.5" lengthAdjust="spacingAndGlyphs">344</text>
<text x="1210.9" y="1303.6" font-size="15" text-anchor="end" textLength="22.5" lengthAdjust="spacingAndGlyphs">197</text>
<text x="1230.5" y="1303.6" font-size="15" text-anchor="end" textLength="15.0" lengthAdjust="spacingAndGlyphs">16</text>
<text x="1257.9" y="1303.6" font-size="15" text-anchor="end" textLength="22.5" lengthAdjust="spacingAndGlyphs">260</text>
<text x="1284.3" y="1303.6" font-size="15" text-anchor="end" textLength="22.5" lengthAdjust="spacingAndGlyphs">152</text>
<text x="1310.4" y="1303.6" font-size="15" text-anchor="end" textLength="22.5" lengthAdjust="spacingAndGlyphs">202</text>
<text x="1338.5" y="1303.6" font-size="15" text-anchor="end" textLength="15.3" lengthAdjust="spacingAndGlyphs">41</text>
<text x="1023.2" y="1328.0" font-size="17.5" text-anchor="end" font-weight="bold" textLength="62.7" lengthAdjust="spacingAndGlyphs">87 23 50</text>
<text x="1034.2" y="1328.0" font-size="15" textLength="29.1" lengthAdjust="spacingAndGlyphs">53P-</text>
<text x="1089.7" y="1328.0" font-size="15" text-anchor="end" textLength="23.0" lengthAdjust="spacingAndGlyphs">150</text>
<text x="1125.7" y="1328.0" font-size="15" text-anchor="end" textLength="22.5" lengthAdjust="spacingAndGlyphs">150</text>
<text x="1152.7" y="1328.0" font-size="15" text-anchor="end" textLength="22.5" lengthAdjust="spacingAndGlyphs">502</text>
<text x="1180.7" y="1328.0" font-size="15" text-anchor="end" textLength="22.5" lengthAdjust="spacingAndGlyphs">392</text>
<text x="1210.9" y="1328.0" font-size="15" text-anchor="end" textLength="22.5" lengthAdjust="spacingAndGlyphs">222</text>
<text x="1230.5" y="1328.0" font-size="15" text-anchor="end" textLength="15.0" lengthAdjust="spacingAndGlyphs">18</text>
<text x="1257.9" y="1328.0" font-size="15" text-anchor="end" textLength="22.5" lengthAdjust="spacingAndGlyphs">302</text>
<text x="1284.3" y="1328.0" font-size="15" text-anchor="end" textLength="22.5" lengthAdjust="spacingAndGlyphs">164</text>
<text x="1310.4" y="1328.0" font-size="15" text-anchor="end" textLength="22.5" lengthAdjust="spacingAndGlyphs">242</text>
<text x="1338.5" y="1328.0" font-size="15" text-anchor="end" textLength="15.3" lengthAdjust="spacingAndGlyphs">60</text>
<text x="1023.2" y="1346.0" font-size="17.5" text-anchor="end" font-weight="bold" textLength="17.9" lengthAdjust="spacingAndGlyphs">51</text>
<text x="1034.2" y="1346.0" font-size="15" textLength="29.1" lengthAdjust="spacingAndGlyphs">53P-</text>
<text x="1089.7" y="1346.0" font-size="15" text-anchor="end" textLength="23.0" lengthAdjust="spacingAndGlyphs">200</text>
<text x="1125.7" y="1346.0" font-size="15" text-anchor="end" textLength="22.5" lengthAdjust="spacingAndGlyphs">200</text>
<text x="1152.7" y="1346.0" font-size="15" text-anchor="end" textLength="22.5" lengthAdjust="spacingAndGlyphs">640</text>
<text x="1180.7" y="1346.0" font-size="15" text-anchor="end" textLength="22.5" lengthAdjust="spacingAndGlyphs">487</text>
<text x="1210.9" y="1346.0" font-size="15" text-anchor="end" textLength="22.5" lengthAdjust="spacingAndGlyphs">282</text>
<text x="1230.5" y="1346.0" font-size="15" text-anchor="end" textLength="15.0" lengthAdjust="spacingAndGlyphs">20</text>
<text x="1257.9" y="1346.0" font-size="15" text-anchor="end" textLength="22.5" lengthAdjust="spacingAndGlyphs">350</text>
<text x="1284.3" y="1346.0" font-size="15" text-anchor="end" textLength="22.5" lengthAdjust="spacingAndGlyphs">250</text>
<text x="1310.4" y="1346.0" font-size="15" text-anchor="end" textLength="22.5" lengthAdjust="spacingAndGlyphs">272</text>
<text x="1338.5" y="1346.0" font-size="15" text-anchor="end" textLength="23.0" lengthAdjust="spacingAndGlyphs">108</text>
<text x="1023.2" y="1364.0" font-size="17.5" text-anchor="end" font-weight="bold" textLength="17.9" lengthAdjust="spacingAndGlyphs">52</text>
<text x="1034.2" y="1364.0" font-size="15" textLength="29.1" lengthAdjust="spacingAndGlyphs">53P-</text>
<text x="1089.7" y="1364.0" font-size="15" text-anchor="end" textLength="23.0" lengthAdjust="spacingAndGlyphs">250</text>
<text x="1125.7" y="1364.0" font-size="15" text-anchor="end" textLength="22.5" lengthAdjust="spacingAndGlyphs">250</text>
<text x="1152.7" y="1364.0" font-size="15" text-anchor="end" textLength="22.5" lengthAdjust="spacingAndGlyphs">767</text>
<text x="1180.7" y="1364.0" font-size="15" text-anchor="end" textLength="22.5" lengthAdjust="spacingAndGlyphs">589</text>
<text x="1210.9" y="1364.0" font-size="15" text-anchor="end" textLength="22.5" lengthAdjust="spacingAndGlyphs">342</text>
<text x="1230.5" y="1364.0" font-size="15" text-anchor="end" textLength="15.0" lengthAdjust="spacingAndGlyphs">22</text>
<text x="1257.9" y="1364.0" font-size="15" text-anchor="end" textLength="22.5" lengthAdjust="spacingAndGlyphs">450</text>
<text x="1284.3" y="1364.0" font-size="15" text-anchor="end" textLength="22.5" lengthAdjust="spacingAndGlyphs">310</text>
<text x="1310.4" y="1364.0" font-size="15" text-anchor="end" textLength="22.5" lengthAdjust="spacingAndGlyphs">332</text>
<text x="1338.5" y="1364.0" font-size="15" text-anchor="end" textLength="23.0" lengthAdjust="spacingAndGlyphs">182</text>
<text x="982.7" y="1393.3" font-size="18.5" font-weight="bold" textLength="233.3" lengthAdjust="spacingAndGlyphs">Model:  53PW (with Screen)</text>
<line x1="958.7" y1="1404.2" x2="1344.4" y2="1404.2" stroke="#000" stroke-width="1.2"/>
<line x1="1096.2" y1="1426.0" x2="1311.4" y2="1426.0" stroke="#000" stroke-width="1.08"/>
<line x1="958.7" y1="1448.4" x2="1344.4" y2="1448.4" stroke="#000" stroke-width="1.2"/>
<line x1="958.7" y1="1608.0" x2="1344.4" y2="1608.0" stroke="#000" stroke-width="1.2"/>
<line x1="958.7" y1="1545.7" x2="1344.4" y2="1545.7" stroke="#000" stroke-width="1.2"/>
<line x1="1025.6" y1="1404.2" x2="1025.6" y2="1608.0" stroke="#000" stroke-width="1.08"/>
<line x1="1096.2" y1="1404.2" x2="1096.2" y2="1608.0" stroke="#000" stroke-width="1.08"/>
<line x1="1125.7" y1="1426.0" x2="1125.7" y2="1608.0" stroke="#000" stroke-width="1.08"/>
<line x1="1153.0" y1="1426.0" x2="1153.0" y2="1608.0" stroke="#000" stroke-width="1.08"/>
<line x1="1180.0" y1="1426.0" x2="1180.0" y2="1608.0" stroke="#000" stroke-width="1.08"/>
<line x1="1209.7" y1="1426.0" x2="1209.7" y2="1608.0" stroke="#000" stroke-width="1.08"/>
<line x1="1231.5" y1="1426.0" x2="1231.5" y2="1608.0" stroke="#000" stroke-width="1.08"/>
<line x1="1258.0" y1="1426.0" x2="1258.0" y2="1608.0" stroke="#000" stroke-width="1.08"/>
<line x1="1285.0" y1="1426.0" x2="1285.0" y2="1608.0" stroke="#000" stroke-width="1.08"/>
<line x1="1311.4" y1="1404.2" x2="1311.4" y2="1608.0" stroke="#000" stroke-width="1.08"/>
<text x="992.0" y="1432.2" font-size="15.5" text-anchor="middle">CODE</text>
<text x="1061.0" y="1432.2" font-size="15.5" text-anchor="middle">Model</text>
<text x="1203.6" y="1419.8" font-size="15.5" text-anchor="middle">Dimensions mm</text>
<text x="1111.0" y="1443.0" font-size="15" text-anchor="middle" textLength="19.3" lengthAdjust="spacingAndGlyphs">Φd</text>
<text x="1139.3" y="1443.0" font-size="15" text-anchor="middle" textLength="10.3" lengthAdjust="spacingAndGlyphs">H</text>
<text x="1166.5" y="1443.0" font-size="15" text-anchor="middle" textLength="15.8" lengthAdjust="spacingAndGlyphs">h1</text>
<text x="1194.8" y="1443.0" font-size="15" text-anchor="middle" textLength="15.8" lengthAdjust="spacingAndGlyphs">h2</text>
<text x="1220.6" y="1443.0" font-size="15" text-anchor="middle" textLength="4.0" lengthAdjust="spacingAndGlyphs">t</text>
<text x="1244.8" y="1443.0" font-size="15" text-anchor="middle" textLength="21.4" lengthAdjust="spacingAndGlyphs">W1</text>
<text x="1271.5" y="1443.0" font-size="15" text-anchor="middle" textLength="21.4" lengthAdjust="spacingAndGlyphs">W2</text>
<text x="1298.2" y="1443.0" font-size="15" text-anchor="middle" textLength="21.4" lengthAdjust="spacingAndGlyphs">W3</text>
<text x="1327.9" y="1421.3" font-size="15.5" text-anchor="middle">Wgt.</text>
<text x="1327.9" y="1439.0" font-size="15.5" text-anchor="middle">kgs</text>
<text x="1023.6" y="1467.0" font-size="17.5" text-anchor="end" font-weight="bold" textLength="62.7" lengthAdjust="spacingAndGlyphs">87 23 53</text>
<text x="1027.6" y="1467.0" font-size="15" textLength="41.9" lengthAdjust="spacingAndGlyphs">53PW-</text>
<text x="1094.2" y="1467.0" font-size="15" text-anchor="end" textLength="15.3" lengthAdjust="spacingAndGlyphs">50</text>
<text x="1124.7" y="1467.0" font-size="15" text-anchor="end" textLength="15.0" lengthAdjust="spacingAndGlyphs">50</text>
<text x="1152.0" y="1467.0" font-size="15" text-anchor="end" textLength="22.5" lengthAdjust="spacingAndGlyphs">264</text>
<text x="1179.0" y="1467.0" font-size="15" text-anchor="end" textLength="22.5" lengthAdjust="spacingAndGlyphs">221</text>
<text x="1208.7" y="1467.0" font-size="15" text-anchor="end" textLength="21.5" lengthAdjust="spacingAndGlyphs">112</text>
<text x="1230.5" y="1467.0" font-size="15" text-anchor="end" textLength="15.0" lengthAdjust="spacingAndGlyphs">14</text>
<text x="1257.0" y="1467.0" font-size="15" text-anchor="end" textLength="22.5" lengthAdjust="spacingAndGlyphs">162</text>
<text x="1284.0" y="1467.0" font-size="15" text-anchor="end" textLength="15.0" lengthAdjust="spacingAndGlyphs">92</text>
<text x="1310.4" y="1467.0" font-size="15" text-anchor="end" textLength="22.5" lengthAdjust="spacingAndGlyphs">127</text>
<text x="1339.4" y="1467.0" font-size="15" text-anchor="end" textLength="15.3" lengthAdjust="spacingAndGlyphs">14</text>
<text x="1023.6" y="1485.0" font-size="17.5" text-anchor="end" font-weight="bold" textLength="17.9" lengthAdjust="spacingAndGlyphs">54</text>
<text x="1027.6" y="1485.0" font-size="15" textLength="41.9" lengthAdjust="spacingAndGlyphs">53PW-</text>
<text x="1094.2" y="1485.0" font-size="15" text-anchor="end" textLength="15.3" lengthAdjust="spacingAndGlyphs">65</text>
<text x="1124.7" y="1485.0" font-size="15" text-anchor="end" textLength="15.0" lengthAdjust="spacingAndGlyphs">65</text>
<text x="1152.0" y="1485.0" font-size="15" text-anchor="end" textLength="22.5" lengthAdjust="spacingAndGlyphs">264</text>
<text x="1179.0" y="1485.0" font-size="15" text-anchor="end" textLength="22.5" lengthAdjust="spacingAndGlyphs">221</text>
<text x="1208.7" y="1485.0" font-size="15" text-anchor="end" textLength="22.5" lengthAdjust="spacingAndGlyphs">122</text>
<text x="1230.5" y="1485.0" font-size="15" text-anchor="end" textLength="15.0" lengthAdjust="spacingAndGlyphs">14</text>
<text x="1257.0" y="1485.0" font-size="15" text-anchor="end" textLength="22.5" lengthAdjust="spacingAndGlyphs">162</text>
<text x="1284.0" y="1485.0" font-size="15" text-anchor="end" textLength="15.0" lengthAdjust="spacingAndGlyphs">92</text>
<text x="1310.4" y="1485.0" font-size="15" text-anchor="end" textLength="22.5" lengthAdjust="spacingAndGlyphs">132</text>
<text x="1339.4" y="1485.0" font-size="15" text-anchor="end" textLength="15.3" lengthAdjust="spacingAndGlyphs">15</text>
<text x="1023.6" y="1503.0" font-size="17.5" text-anchor="end" font-weight="bold" textLength="17.9" lengthAdjust="spacingAndGlyphs">55</text>
<text x="1027.6" y="1503.0" font-size="15" textLength="41.9" lengthAdjust="spacingAndGlyphs">53PW-</text>
<text x="1094.2" y="1503.0" font-size="15" text-anchor="end" textLength="15.3" lengthAdjust="spacingAndGlyphs">80</text>
<text x="1124.7" y="1503.0" font-size="15" text-anchor="end" textLength="15.0" lengthAdjust="spacingAndGlyphs">80</text>
<text x="1152.0" y="1503.0" font-size="15" text-anchor="end" textLength="22.5" lengthAdjust="spacingAndGlyphs">300</text>
<text x="1179.0" y="1503.0" font-size="15" text-anchor="end" textLength="22.5" lengthAdjust="spacingAndGlyphs">248</text>
<text x="1208.7" y="1503.0" font-size="15" text-anchor="end" textLength="22.5" lengthAdjust="spacingAndGlyphs">132</text>
<text x="1230.5" y="1503.0" font-size="15" text-anchor="end" textLength="15.0" lengthAdjust="spacingAndGlyphs">14</text>
<text x="1257.0" y="1503.0" font-size="15" text-anchor="end" textLength="22.5" lengthAdjust="spacingAndGlyphs">190</text>
<text x="1284.0" y="1503.0" font-size="15" text-anchor="end" textLength="15.0" lengthAdjust="spacingAndGlyphs">98</text>
<text x="1310.4" y="1503.0" font-size="15" text-anchor="end" textLength="22.5" lengthAdjust="spacingAndGlyphs">152</text>
<text x="1339.4" y="1503.0" font-size="15" text-anchor="end" textLength="15.3" lengthAdjust="spacingAndGlyphs">20</text>
<text x="1023.6" y="1521.0" font-size="17.5" text-anchor="end" font-weight="bold" textLength="17.9" lengthAdjust="spacingAndGlyphs">56</text>
<text x="1027.6" y="1521.0" font-size="15" textLength="41.9" lengthAdjust="spacingAndGlyphs">53PW-</text>
<text x="1094.2" y="1521.0" font-size="15" text-anchor="end" textLength="23.0" lengthAdjust="spacingAndGlyphs">100</text>
<text x="1124.7" y="1521.0" font-size="15" text-anchor="end" textLength="22.5" lengthAdjust="spacingAndGlyphs">100</text>
<text x="1152.0" y="1521.0" font-size="15" text-anchor="end" textLength="22.5" lengthAdjust="spacingAndGlyphs">366</text>
<text x="1179.0" y="1521.0" font-size="15" text-anchor="end" textLength="22.5" lengthAdjust="spacingAndGlyphs">286</text>
<text x="1208.7" y="1521.0" font-size="15" text-anchor="end" textLength="22.5" lengthAdjust="spacingAndGlyphs">152</text>
<text x="1230.5" y="1521.0" font-size="15" text-anchor="end" textLength="15.0" lengthAdjust="spacingAndGlyphs">16</text>
<text x="1257.0" y="1521.0" font-size="15" text-anchor="end" textLength="22.5" lengthAdjust="spacingAndGlyphs">202</text>
<text x="1284.0" y="1521.0" font-size="15" text-anchor="end" textLength="21.5" lengthAdjust="spacingAndGlyphs">118</text>
<text x="1310.4" y="1521.0" font-size="15" text-anchor="end" textLength="22.5" lengthAdjust="spacingAndGlyphs">162</text>
<text x="1339.4" y="1521.0" font-size="15" text-anchor="end" textLength="15.3" lengthAdjust="spacingAndGlyphs">25</text>
<text x="1023.6" y="1539.0" font-size="17.5" text-anchor="end" font-weight="bold" textLength="17.9" lengthAdjust="spacingAndGlyphs">57</text>
<text x="1027.6" y="1539.0" font-size="15" textLength="41.9" lengthAdjust="spacingAndGlyphs">53PW-</text>
<text x="1094.2" y="1539.0" font-size="15" text-anchor="end" textLength="23.0" lengthAdjust="spacingAndGlyphs">125</text>
<text x="1124.7" y="1539.0" font-size="15" text-anchor="end" textLength="22.5" lengthAdjust="spacingAndGlyphs">125</text>
<text x="1152.0" y="1539.0" font-size="15" text-anchor="end" textLength="22.5" lengthAdjust="spacingAndGlyphs">435</text>
<text x="1179.0" y="1539.0" font-size="15" text-anchor="end" textLength="22.5" lengthAdjust="spacingAndGlyphs">344</text>
<text x="1208.7" y="1539.0" font-size="15" text-anchor="end" textLength="22.5" lengthAdjust="spacingAndGlyphs">197</text>
<text x="1230.5" y="1539.0" font-size="15" text-anchor="end" textLength="15.0" lengthAdjust="spacingAndGlyphs">16</text>
<text x="1257.0" y="1539.0" font-size="15" text-anchor="end" textLength="22.5" lengthAdjust="spacingAndGlyphs">260</text>
<text x="1284.0" y="1539.0" font-size="15" text-anchor="end" textLength="22.5" lengthAdjust="spacingAndGlyphs">152</text>
<text x="1310.4" y="1539.0" font-size="15" text-anchor="end" textLength="22.5" lengthAdjust="spacingAndGlyphs">202</text>
<text x="1339.4" y="1539.0" font-size="15" text-anchor="end" textLength="15.3" lengthAdjust="spacingAndGlyphs">41</text>
<text x="1023.6" y="1564.4" font-size="17.5" text-anchor="end" font-weight="bold" textLength="62.7" lengthAdjust="spacingAndGlyphs">87 23 58</text>
<text x="1027.6" y="1564.4" font-size="15" textLength="41.9" lengthAdjust="spacingAndGlyphs">53PW-</text>
<text x="1094.2" y="1564.4" font-size="15" text-anchor="end" textLength="23.0" lengthAdjust="spacingAndGlyphs">150</text>
<text x="1124.7" y="1564.4" font-size="15" text-anchor="end" textLength="22.5" lengthAdjust="spacingAndGlyphs">150</text>
<text x="1152.0" y="1564.4" font-size="15" text-anchor="end" textLength="22.5" lengthAdjust="spacingAndGlyphs">502</text>
<text x="1179.0" y="1564.4" font-size="15" text-anchor="end" textLength="22.5" lengthAdjust="spacingAndGlyphs">392</text>
<text x="1208.7" y="1564.4" font-size="15" text-anchor="end" textLength="22.5" lengthAdjust="spacingAndGlyphs">222</text>
<text x="1230.5" y="1564.4" font-size="15" text-anchor="end" textLength="15.0" lengthAdjust="spacingAndGlyphs">18</text>
<text x="1257.0" y="1564.4" font-size="15" text-anchor="end" textLength="22.5" lengthAdjust="spacingAndGlyphs">302</text>
<text x="1284.0" y="1564.4" font-size="15" text-anchor="end" textLength="22.5" lengthAdjust="spacingAndGlyphs">164</text>
<text x="1310.4" y="1564.4" font-size="15" text-anchor="end" textLength="22.5" lengthAdjust="spacingAndGlyphs">242</text>
<text x="1339.4" y="1564.4" font-size="15" text-anchor="end" textLength="15.3" lengthAdjust="spacingAndGlyphs">60</text>
<text x="1023.6" y="1582.4" font-size="17.5" text-anchor="end" font-weight="bold" textLength="17.9" lengthAdjust="spacingAndGlyphs">59</text>
<text x="1027.6" y="1582.4" font-size="15" textLength="41.9" lengthAdjust="spacingAndGlyphs">53PW-</text>
<text x="1094.2" y="1582.4" font-size="15" text-anchor="end" textLength="23.0" lengthAdjust="spacingAndGlyphs">200</text>
<text x="1124.7" y="1582.4" font-size="15" text-anchor="end" textLength="22.5" lengthAdjust="spacingAndGlyphs">200</text>
<text x="1152.0" y="1582.4" font-size="15" text-anchor="end" textLength="22.5" lengthAdjust="spacingAndGlyphs">640</text>
<text x="1179.0" y="1582.4" font-size="15" text-anchor="end" textLength="22.5" lengthAdjust="spacingAndGlyphs">487</text>
<text x="1208.7" y="1582.4" font-size="15" text-anchor="end" textLength="22.5" lengthAdjust="spacingAndGlyphs">282</text>
<text x="1230.5" y="1582.4" font-size="15" text-anchor="end" textLength="15.0" lengthAdjust="spacingAndGlyphs">20</text>
<text x="1257.0" y="1582.4" font-size="15" text-anchor="end" textLength="22.5" lengthAdjust="spacingAndGlyphs">350</text>
<text x="1284.0" y="1582.4" font-size="15" text-anchor="end" textLength="22.5" lengthAdjust="spacingAndGlyphs">250</text>
<text x="1310.4" y="1582.4" font-size="15" text-anchor="end" textLength="22.5" lengthAdjust="spacingAndGlyphs">272</text>
<text x="1339.4" y="1582.4" font-size="15" text-anchor="end" textLength="23.0" lengthAdjust="spacingAndGlyphs">108</text>
<text x="1023.6" y="1600.5" font-size="17.5" text-anchor="end" font-weight="bold" textLength="17.9" lengthAdjust="spacingAndGlyphs">60</text>
<text x="1027.6" y="1600.5" font-size="15" textLength="41.9" lengthAdjust="spacingAndGlyphs">53PW-</text>
<text x="1094.2" y="1600.5" font-size="15" text-anchor="end" textLength="23.0" lengthAdjust="spacingAndGlyphs">250</text>
<text x="1124.7" y="1600.5" font-size="15" text-anchor="end" textLength="22.5" lengthAdjust="spacingAndGlyphs">250</text>
<text x="1152.0" y="1600.5" font-size="15" text-anchor="end" textLength="22.5" lengthAdjust="spacingAndGlyphs">767</text>
<text x="1179.0" y="1600.5" font-size="15" text-anchor="end" textLength="22.5" lengthAdjust="spacingAndGlyphs">589</text>
<text x="1208.7" y="1600.5" font-size="15" text-anchor="end" textLength="22.5" lengthAdjust="spacingAndGlyphs">342</text>
<text x="1230.5" y="1600.5" font-size="15" text-anchor="end" textLength="15.0" lengthAdjust="spacingAndGlyphs">22</text>
<text x="1257.0" y="1600.5" font-size="15" text-anchor="end" textLength="22.5" lengthAdjust="spacingAndGlyphs">450</text>
<text x="1284.0" y="1600.5" font-size="15" text-anchor="end" textLength="22.5" lengthAdjust="spacingAndGlyphs">310</text>
<text x="1310.4" y="1600.5" font-size="15" text-anchor="end" textLength="22.5" lengthAdjust="spacingAndGlyphs">332</text>
<text x="1339.4" y="1600.5" font-size="15" text-anchor="end" textLength="23.0" lengthAdjust="spacingAndGlyphs">182</text>
<text x="484.0" y="1700.0" font-size="15" text-anchor="end">Unit Per Pc.</text>
<line x1="82.5" y1="1709.0" x2="496.6" y2="1709.0" stroke="#000" stroke-width="1.2"/>
<line x1="237.2" y1="1733.6" x2="450.0" y2="1733.6" stroke="#000" stroke-width="1.08"/>
<line x1="76.0" y1="1756.6" x2="489.6" y2="1756.6" stroke="#000" stroke-width="1.2"/>
<line x1="78.0" y1="1880.0" x2="489.6" y2="1880.0" stroke="#000" stroke-width="1.2"/>
<line x1="78.0" y1="1856.0" x2="489.6" y2="1856.0" stroke="#000" stroke-width="1.2"/>
<line x1="158.3" y1="1709.0" x2="158.3" y2="1880.0" stroke="#000" stroke-width="1.08"/>
<line x1="237.2" y1="1709.0" x2="237.2" y2="1880.0" stroke="#000" stroke-width="1.08"/>
<line x1="281.5" y1="1733.6" x2="281.5" y2="1880.0" stroke="#000" stroke-width="1.08"/>
<line x1="323.5" y1="1733.6" x2="323.5" y2="1880.0" stroke="#000" stroke-width="1.08"/>
<line x1="366.3" y1="1733.6" x2="366.3" y2="1880.0" stroke="#000" stroke-width="1.08"/>
<line x1="408.3" y1="1733.6" x2="408.3" y2="1880.0" stroke="#000" stroke-width="1.08"/>
<line x1="450.0" y1="1709.0" x2="450.0" y2="1880.0" stroke="#000" stroke-width="1.08"/>
<text x="120.0" y="1740.2" font-size="15" text-anchor="middle">CODE</text>
<text x="197.7" y="1740.2" font-size="15" text-anchor="middle">Model</text>
<text x="343.6" y="1727.4" font-size="15" text-anchor="middle">Dimensions mm</text>
<text x="259.4" y="1750.7" font-size="15" text-anchor="middle">Φd</text>
<text x="302.5" y="1750.7" font-size="15" text-anchor="middle">A</text>
<text x="344.9" y="1750.7" font-size="15" text-anchor="middle">B</text>
<text x="387.3" y="1750.7" font-size="15" text-anchor="middle">H</text>
<text x="429.1" y="1750.7" font-size="15" text-anchor="middle">h</text>
<text x="473.3" y="1728.6" font-size="15" text-anchor="middle">Wgt.</text>
<text x="473.3" y="1748.0" font-size="15" text-anchor="middle">kgs</text>
<text x="154.3" y="1775.0" font-size="15" text-anchor="end" font-weight="bold">87 23 21</text>
<text x="164.3" y="1775.0" font-size="15">53B - 200</text>
<text x="259.4" y="1775.0" font-size="15" text-anchor="middle">200</text>
<text x="302.5" y="1775.0" font-size="15" text-anchor="middle">493</text>
<text x="344.9" y="1775.0" font-size="15" text-anchor="middle">377</text>
<text x="387.3" y="1775.0" font-size="15" text-anchor="middle">406</text>
<text x="429.1" y="1775.0" font-size="15" text-anchor="middle">290</text>
<text x="483.0" y="1775.0" font-size="15" text-anchor="end">63</text>
<text x="154.3" y="1794.0" font-size="15" text-anchor="end" font-weight="bold">22</text>
<text x="164.3" y="1794.0" font-size="15">53B - 250</text>
<text x="259.4" y="1794.0" font-size="15" text-anchor="middle">250</text>
<text x="302.5" y="1794.0" font-size="15" text-anchor="middle">523</text>
<text x="344.9" y="1794.0" font-size="15" text-anchor="middle">537</text>
<text x="387.3" y="1794.0" font-size="15" text-anchor="middle">409</text>
<text x="429.1" y="1794.0" font-size="15" text-anchor="middle">290</text>
<text x="483.0" y="1794.0" font-size="15" text-anchor="end">95</text>
<text x="154.3" y="1813.0" font-size="15" text-anchor="end" font-weight="bold">23</text>
<text x="164.3" y="1813.0" font-size="15">53B - 300</text>
<text x="259.4" y="1813.0" font-size="15" text-anchor="middle">300</text>
<text x="302.5" y="1813.0" font-size="15" text-anchor="middle">613</text>
<text x="344.9" y="1813.0" font-size="15" text-anchor="middle">633</text>
<text x="387.3" y="1813.0" font-size="15" text-anchor="middle">466</text>
<text x="429.1" y="1813.0" font-size="15" text-anchor="middle">334</text>
<text x="483.0" y="1813.0" font-size="15" text-anchor="end">130</text>
<text x="154.3" y="1832.0" font-size="15" text-anchor="end" font-weight="bold">24</text>
<text x="164.3" y="1832.0" font-size="15">53B - 350</text>
<text x="259.4" y="1832.0" font-size="15" text-anchor="middle">350</text>
<text x="302.5" y="1832.0" font-size="15" text-anchor="middle">669</text>
<text x="344.9" y="1832.0" font-size="15" text-anchor="middle">699</text>
<text x="387.3" y="1832.0" font-size="15" text-anchor="middle">499</text>
<text x="429.1" y="1832.0" font-size="15" text-anchor="middle">352</text>
<text x="483.0" y="1832.0" font-size="15" text-anchor="end">158</text>
<text x="154.3" y="1850.6" font-size="15" text-anchor="end" font-weight="bold">25</text>
<text x="164.3" y="1850.6" font-size="15">53B - 400</text>
<text x="259.4" y="1850.6" font-size="15" text-anchor="middle">400</text>
<text x="302.5" y="1850.6" font-size="15" text-anchor="middle">719</text>
<text x="344.9" y="1850.6" font-size="15" text-anchor="middle">745</text>
<text x="387.3" y="1850.6" font-size="15" text-anchor="middle">531</text>
<text x="429.1" y="1850.6" font-size="15" text-anchor="middle">379</text>
<text x="483.0" y="1850.6" font-size="15" text-anchor="end">180</text>
<text x="154.3" y="1874.4" font-size="15" text-anchor="end" font-weight="bold">87 23 26</text>
<text x="164.3" y="1874.4" font-size="15">53B - 450</text>
<text x="259.4" y="1874.4" font-size="15" text-anchor="middle">450</text>
<text x="302.5" y="1874.4" font-size="15" text-anchor="middle">853</text>
<text x="344.9" y="1874.4" font-size="15" text-anchor="middle">903</text>
<text x="387.3" y="1874.4" font-size="15" text-anchor="middle">635</text>
<text x="429.1" y="1874.4" font-size="15" text-anchor="middle">447</text>
<text x="483.0" y="1874.4" font-size="15" text-anchor="end">255</text>
<text x="88.0" y="1897.7" font-size="15" textLength="227.0" lengthAdjust="spacingAndGlyphs">Name of Mfr.:  Niikura Corporation</text>
<text x="86.4" y="1984.2" font-size="19" font-weight="bold" textLength="242.6" lengthAdjust="spacingAndGlyphs">Model:  53BW (with Screen)</text>
<text x="484.0" y="2007.5" font-size="15" text-anchor="end">Unit Per Pc.</text>
<line x1="76.7" y1="2016.0" x2="492.0" y2="2016.0" stroke="#000" stroke-width="1.2"/>
<line x1="252.4" y1="2040.0" x2="444.9" y2="2040.0" stroke="#000" stroke-width="1.08"/>
<line x1="76.7" y1="2064.0" x2="492.0" y2="2064.0" stroke="#000" stroke-width="1.2"/>
<line x1="76.7" y1="2188.3" x2="492.0" y2="2188.3" stroke="#000" stroke-width="1.2"/>
<line x1="76.7" y1="2163.8" x2="492.0" y2="2163.8" stroke="#000" stroke-width="1.2"/>
<line x1="159.5" y1="2016.0" x2="159.5" y2="2188.3" stroke="#000" stroke-width="1.08"/>
<line x1="252.4" y1="2016.0" x2="252.4" y2="2188.3" stroke="#000" stroke-width="1.08"/>
<line x1="292.8" y1="2040.0" x2="292.8" y2="2188.3" stroke="#000" stroke-width="1.08"/>
<line x1="329.4" y1="2040.0" x2="329.4" y2="2188.3" stroke="#000" stroke-width="1.08"/>
<line x1="366.3" y1="2040.0" x2="366.3" y2="2188.3" stroke="#000" stroke-width="1.08"/>
<line x1="404.4" y1="2040.0" x2="404.4" y2="2188.3" stroke="#000" stroke-width="1.08"/>
<line x1="444.9" y1="2016.0" x2="444.9" y2="2188.3" stroke="#000" stroke-width="1.08"/>
<text x="118.0" y="2047.2" font-size="15" text-anchor="middle">CODE</text>
<text x="206.0" y="2047.2" font-size="15" text-anchor="middle">Model</text>
<text x="348.6" y="2034.7" font-size="15" text-anchor="middle">Dimensions mm</text>
<text x="272.6" y="2058.8" font-size="15" text-anchor="middle">Φd</text>
<text x="311.1" y="2058.8" font-size="15" text-anchor="middle">A</text>
<text x="347.9" y="2058.8" font-size="15" text-anchor="middle">B</text>
<text x="385.4" y="2058.8" font-size="15" text-anchor="middle">H</text>
<text x="424.6" y="2058.8" font-size="15" text-anchor="middle">h</text>
<text x="464.0" y="2035.5" font-size="15" text-anchor="middle">Wgt.</text>
<text x="464.0" y="2055.0" font-size="15" text-anchor="middle">kgs</text>
<text x="155.5" y="2083.3" font-size="15" text-anchor="end" font-weight="bold">87 23 27</text>
<text x="165.5" y="2083.3" font-size="15">53BW - 200</text>
<text x="272.6" y="2083.3" font-size="15" text-anchor="middle">200</text>
<text x="311.1" y="2083.3" font-size="15" text-anchor="middle">493</text>
<text x="347.9" y="2083.3" font-size="15" text-anchor="middle">377</text>
<text x="385.4" y="2083.3" font-size="15" text-anchor="middle">406</text>
<text x="424.6" y="2083.3" font-size="15" text-anchor="middle">290</text>
<text x="483.0" y="2083.3" font-size="15" text-anchor="end">63</text>
<text x="155.5" y="2102.0" font-size="15" text-anchor="end" font-weight="bold">28</text>
<text x="165.5" y="2102.0" font-size="15">53BW - 250</text>
<text x="272.6" y="2102.0" font-size="15" text-anchor="middle">250</text>
<text x="311.1" y="2102.0" font-size="15" text-anchor="middle">523</text>
<text x="347.9" y="2102.0" font-size="15" text-anchor="middle">537</text>
<text x="385.4" y="2102.0" font-size="15" text-anchor="middle">409</text>
<text x="424.6" y="2102.0" font-size="15" text-anchor="middle">290</text>
<text x="483.0" y="2102.0" font-size="15" text-anchor="end">95</text>
<text x="155.5" y="2121.0" font-size="15" text-anchor="end" font-weight="bold">29</text>
<text x="165.5" y="2121.0" font-size="15">53BW - 300</text>
<text x="272.6" y="2121.0" font-size="15" text-anchor="middle">300</text>
<text x="311.1" y="2121.0" font-size="15" text-anchor="middle">613</text>
<text x="347.9" y="2121.0" font-size="15" text-anchor="middle">633</text>
<text x="385.4" y="2121.0" font-size="15" text-anchor="middle">466</text>
<text x="424.6" y="2121.0" font-size="15" text-anchor="middle">334</text>
<text x="483.0" y="2121.0" font-size="15" text-anchor="end">130</text>
<text x="155.5" y="2140.0" font-size="15" text-anchor="end" font-weight="bold">30</text>
<text x="165.5" y="2140.0" font-size="15">53BW - 350</text>
<text x="272.6" y="2140.0" font-size="15" text-anchor="middle">350</text>
<text x="311.1" y="2140.0" font-size="15" text-anchor="middle">669</text>
<text x="347.9" y="2140.0" font-size="15" text-anchor="middle">699</text>
<text x="385.4" y="2140.0" font-size="15" text-anchor="middle">499</text>
<text x="424.6" y="2140.0" font-size="15" text-anchor="middle">352</text>
<text x="483.0" y="2140.0" font-size="15" text-anchor="end">158</text>
<text x="155.5" y="2159.0" font-size="15" text-anchor="end" font-weight="bold">31</text>
<text x="165.5" y="2159.0" font-size="15">53BW - 400</text>
<text x="272.6" y="2159.0" font-size="15" text-anchor="middle">400</text>
<text x="311.1" y="2159.0" font-size="15" text-anchor="middle">719</text>
<text x="347.9" y="2159.0" font-size="15" text-anchor="middle">745</text>
<text x="385.4" y="2159.0" font-size="15" text-anchor="middle">531</text>
<text x="424.6" y="2159.0" font-size="15" text-anchor="middle">379</text>
<text x="483.0" y="2159.0" font-size="15" text-anchor="end">180</text>
<text x="155.5" y="2182.5" font-size="15" text-anchor="end" font-weight="bold">87 23 32</text>
<text x="165.5" y="2182.5" font-size="15">53BW - 450</text>
<text x="272.6" y="2182.5" font-size="15" text-anchor="middle">450</text>
<text x="311.1" y="2182.5" font-size="15" text-anchor="middle">853</text>
<text x="347.9" y="2182.5" font-size="15" text-anchor="middle">903</text>
<text x="385.4" y="2182.5" font-size="15" text-anchor="middle">635</text>
<text x="424.6" y="2182.5" font-size="15" text-anchor="middle">447</text>
<text x="483.0" y="2182.5" font-size="15" text-anchor="end">255</text>
<text x="86.4" y="2207.4" font-size="15" textLength="227.0" lengthAdjust="spacingAndGlyphs">Name of Mfr.:  Niikura Corporation</text>
<text x="588.0" y="2163.7" font-size="16" font-weight="bold" textLength="304.0" lengthAdjust="spacingAndGlyphs">Model : WIN2000 Type 1 (with Screen)</text>
<text x="591.0" y="2193.3" font-size="16" textLength="166.5" lengthAdjust="spacingAndGlyphs">Flow Rate &amp; Air Speed</text>
<line x1="581.0" y1="2206.2" x2="1032.0" y2="2206.2" stroke="#000" stroke-width="1.2"/>
<line x1="581.0" y1="2263.3" x2="1032.0" y2="2263.3" stroke="#000" stroke-width="1.2"/>
<line x1="585.0" y1="2343.2" x2="1032.0" y2="2343.2" stroke="#000" stroke-width="1.2"/>
<line x1="585.0" y1="2422.0" x2="1039.6" y2="2422.0" stroke="#000" stroke-width="1.2"/>
<line x1="585.0" y1="2471.2" x2="1037.0" y2="2471.2" stroke="#000" stroke-width="1.2"/>
<line x1="719.3" y1="2206.2" x2="719.3" y2="2471.2" stroke="#000" stroke-width="1"/>
<line x1="793.2" y1="2206.2" x2="793.2" y2="2471.2" stroke="#000" stroke-width="1"/>
<line x1="866.8" y1="2206.2" x2="866.8" y2="2471.2" stroke="#000" stroke-width="1"/>
<line x1="934.0" y1="2206.2" x2="934.0" y2="2471.2" stroke="#000" stroke-width="1"/>
<text x="650.0" y="2242.8" font-size="19.5" text-anchor="middle">Model</text>
<text x="756.2" y="2221.9" font-size="15" text-anchor="middle" textLength="65.0" lengthAdjust="spacingAndGlyphs">Flow Rate</text>
<text x="755.2" y="2236.0" font-size="13.5" text-anchor="middle" textLength="65.0" lengthAdjust="spacingAndGlyphs">at 0.25 bar</text>
<text x="756.2" y="2252.9" font-size="16.5" text-anchor="middle">(m3/h)*</text>
<text x="830.0" y="2221.9" font-size="15" text-anchor="middle" textLength="65.0" lengthAdjust="spacingAndGlyphs">Flow Rate</text>
<text x="829.0" y="2236.0" font-size="13.5" text-anchor="middle" textLength="65.0" lengthAdjust="spacingAndGlyphs">at 0.25 bar</text>
<text x="830.0" y="2252.9" font-size="16.5" text-anchor="middle">(m3/h)**</text>
<text x="900.4" y="2226.7" font-size="12" text-anchor="middle" textLength="54.0" lengthAdjust="spacingAndGlyphs">Max. Inlet</text>
<text x="900.4" y="2239.8" font-size="12" text-anchor="middle" textLength="50.0" lengthAdjust="spacingAndGlyphs">Air Speed</text>
<text x="900.4" y="2252.9" font-size="11.5" text-anchor="middle">(m/s)</text>
<text x="939.5" y="2221.9" font-size="11.5" textLength="70.0" lengthAdjust="spacingAndGlyphs">Inlet air flow</text>
<text x="939.5" y="2232.3" font-size="11.5" textLength="60.0" lengthAdjust="spacingAndGlyphs">rate at max</text>
<text x="939.5" y="2243.5" font-size="11.5" textLength="78.0" lengthAdjust="spacingAndGlyphs">Inlte air speed</text>
<text x="948.9" y="2255.8" font-size="11.5">(m3/h)</text>
<text x="599.0" y="2277.9" font-size="14" textLength="81.0" lengthAdjust="spacingAndGlyphs">W2T1-PN10-</text>
<text x="711.0" y="2280.0" font-size="15" text-anchor="end" textLength="15.3" lengthAdjust="spacingAndGlyphs">50</text>
<text x="771.6" y="2280.0" font-size="15" text-anchor="end" textLength="15.3" lengthAdjust="spacingAndGlyphs">23</text>
<text x="845.0" y="2280.0" font-size="15" text-anchor="end" textLength="15.3" lengthAdjust="spacingAndGlyphs">19</text>
<text x="889.0" y="2280.0" font-size="15" textLength="14.3" lengthAdjust="spacingAndGlyphs">11</text>
<text x="980.0" y="2280.0" font-size="15" text-anchor="middle" textLength="15.3" lengthAdjust="spacingAndGlyphs">72</text>
<text x="711.0" y="2295.0" font-size="15" text-anchor="end" textLength="15.3" lengthAdjust="spacingAndGlyphs">65</text>
<text x="771.6" y="2295.0" font-size="15" text-anchor="end" textLength="15.3" lengthAdjust="spacingAndGlyphs">34</text>
<text x="845.0" y="2295.0" font-size="15" text-anchor="end" textLength="15.3" lengthAdjust="spacingAndGlyphs">57</text>
<text x="889.0" y="2295.0" font-size="15" textLength="15.3" lengthAdjust="spacingAndGlyphs">33</text>
<text x="980.0" y="2295.0" font-size="15" text-anchor="middle" textLength="25.8" lengthAdjust="spacingAndGlyphs">11.5</text>
<text x="711.0" y="2310.0" font-size="15" text-anchor="end" textLength="15.3" lengthAdjust="spacingAndGlyphs">80</text>
<text x="771.6" y="2310.0" font-size="15" text-anchor="end" textLength="15.3" lengthAdjust="spacingAndGlyphs">57</text>
<text x="845.0" y="2310.0" font-size="15" text-anchor="end" textLength="15.3" lengthAdjust="spacingAndGlyphs">52</text>
<text x="889.0" y="2310.0" font-size="15" textLength="15.3" lengthAdjust="spacingAndGlyphs">10</text>
<text x="980.0" y="2310.0" font-size="15" text-anchor="middle" textLength="23.0" lengthAdjust="spacingAndGlyphs">180</text>
<text x="711.0" y="2324.7" font-size="15" text-anchor="end" textLength="23.0" lengthAdjust="spacingAndGlyphs">100</text>
<text x="771.6" y="2324.7" font-size="15" text-anchor="end" textLength="23.0" lengthAdjust="spacingAndGlyphs">102</text>
<text x="845.0" y="2324.7" font-size="15" text-anchor="end" textLength="15.3" lengthAdjust="spacingAndGlyphs">78</text>
<text x="889.0" y="2324.7" font-size="15" textLength="7.7" lengthAdjust="spacingAndGlyphs">8</text>
<text x="980.0" y="2324.7" font-size="15" text-anchor="middle" textLength="23.0" lengthAdjust="spacingAndGlyphs">216</text>
<text x="711.0" y="2339.0" font-size="15" text-anchor="end" textLength="23.0" lengthAdjust="spacingAndGlyphs">125</text>
<text x="771.6" y="2339.0" font-size="15" text-anchor="end" textLength="23.0" lengthAdjust="spacingAndGlyphs">128</text>
<text x="845.0" y="2339.0" font-size="15" text-anchor="end" textLength="22.0" lengthAdjust="spacingAndGlyphs">116</text>
<text x="889.0" y="2339.0" font-size="15" textLength="19.2" lengthAdjust="spacingAndGlyphs">9.5</text>
<text x="980.0" y="2339.0" font-size="15" text-anchor="middle" textLength="23.0" lengthAdjust="spacingAndGlyphs">432</text>
<text x="599.0" y="2356.0" font-size="14" textLength="81.0" lengthAdjust="spacingAndGlyphs">W2T1-PN10-</text>
<text x="711.0" y="2358.5" font-size="15" text-anchor="end" textLength="23.0" lengthAdjust="spacingAndGlyphs">150</text>
<text x="771.6" y="2358.5" font-size="15" text-anchor="end" textLength="23.0" lengthAdjust="spacingAndGlyphs">204</text>
<text x="845.0" y="2358.5" font-size="15" text-anchor="end" textLength="23.0" lengthAdjust="spacingAndGlyphs">188</text>
<text x="889.0" y="2358.5" font-size="15" textLength="15.3" lengthAdjust="spacingAndGlyphs">10</text>
<text x="980.0" y="2358.5" font-size="15" text-anchor="middle" textLength="23.0" lengthAdjust="spacingAndGlyphs">665</text>
<text x="711.0" y="2373.5" font-size="15" text-anchor="end" textLength="23.0" lengthAdjust="spacingAndGlyphs">175</text>
<text x="771.6" y="2373.5" font-size="15" text-anchor="end" textLength="23.0" lengthAdjust="spacingAndGlyphs">210</text>
<text x="845.0" y="2373.5" font-size="15" text-anchor="end" textLength="23.0" lengthAdjust="spacingAndGlyphs">195</text>
<text x="889.0" y="2373.5" font-size="15" textLength="19.2" lengthAdjust="spacingAndGlyphs">8.5</text>
<text x="980.0" y="2373.5" font-size="15" text-anchor="middle" textLength="23.0" lengthAdjust="spacingAndGlyphs">720</text>
<text x="711.0" y="2388.4" font-size="15" text-anchor="end" textLength="23.0" lengthAdjust="spacingAndGlyphs">200</text>
<text x="771.6" y="2388.4" font-size="15" text-anchor="end" textLength="23.0" lengthAdjust="spacingAndGlyphs">340</text>
<text x="845.0" y="2388.4" font-size="15" text-anchor="end" textLength="23.0" lengthAdjust="spacingAndGlyphs">273</text>
<text x="889.0" y="2388.4" font-size="15" textLength="15.3" lengthAdjust="spacingAndGlyphs">10</text>
<text x="980.0" y="2388.4" font-size="15" text-anchor="middle" textLength="30.7" lengthAdjust="spacingAndGlyphs">1080</text>
<text x="711.0" y="2403.4" font-size="15" text-anchor="end" textLength="23.0" lengthAdjust="spacingAndGlyphs">250</text>
<text x="771.6" y="2403.4" font-size="15" text-anchor="end" textLength="23.0" lengthAdjust="spacingAndGlyphs">450</text>
<text x="845.0" y="2403.4" font-size="15" text-anchor="end" textLength="23.0" lengthAdjust="spacingAndGlyphs">405</text>
<text x="889.0" y="2403.4" font-size="15" textLength="19.2" lengthAdjust="spacingAndGlyphs">9.5</text>
<text x="980.0" y="2403.4" font-size="15" text-anchor="middle" textLength="30.7" lengthAdjust="spacingAndGlyphs">1700</text>
<text x="711.0" y="2418.0" font-size="15" text-anchor="end" textLength="23.0" lengthAdjust="spacingAndGlyphs">300</text>
<text x="771.6" y="2418.0" font-size="15" text-anchor="end" textLength="23.0" lengthAdjust="spacingAndGlyphs">775</text>
<text x="845.0" y="2418.0" font-size="15" text-anchor="end" textLength="23.0" lengthAdjust="spacingAndGlyphs">705</text>
<text x="889.0" y="2418.0" font-size="15" textLength="15.3" lengthAdjust="spacingAndGlyphs">15</text>
<text x="980.0" y="2418.0" font-size="15" text-anchor="middle" textLength="30.7" lengthAdjust="spacingAndGlyphs">3780</text>
<text x="599.0" y="2435.0" font-size="14" textLength="81.0" lengthAdjust="spacingAndGlyphs">W2T1-PN10-</text>
<text x="711.0" y="2437.6" font-size="15" text-anchor="end" textLength="23.0" lengthAdjust="spacingAndGlyphs">350</text>
<text x="771.6" y="2437.6" font-size="15" text-anchor="end" textLength="23.0" lengthAdjust="spacingAndGlyphs">940</text>
<text x="845.0" y="2437.6" font-size="15" text-anchor="end" textLength="23.0" lengthAdjust="spacingAndGlyphs">896</text>
<text x="889.0" y="2437.6" font-size="15" textLength="15.3" lengthAdjust="spacingAndGlyphs">19</text>
<text x="980.0" y="2437.6" font-size="15" text-anchor="middle" textLength="30.7" lengthAdjust="spacingAndGlyphs">6500</text>
<text x="711.0" y="2451.0" font-size="15" text-anchor="end" textLength="23.0" lengthAdjust="spacingAndGlyphs">400</text>
<text x="771.6" y="2451.0" font-size="15" text-anchor="end" textLength="30.7" lengthAdjust="spacingAndGlyphs">1250</text>
<text x="845.0" y="2451.0" font-size="15" text-anchor="end" textLength="30.7" lengthAdjust="spacingAndGlyphs">1095</text>
<text x="889.0" y="2451.0" font-size="15" textLength="26.9" lengthAdjust="spacingAndGlyphs">20.5</text>
<text x="980.0" y="2451.0" font-size="15" text-anchor="middle" textLength="30.7" lengthAdjust="spacingAndGlyphs">8100</text>
<text x="711.0" y="2465.6" font-size="15" text-anchor="end" textLength="23.0" lengthAdjust="spacingAndGlyphs">450</text>
<text x="771.6" y="2465.6" font-size="15" text-anchor="end" textLength="30.7" lengthAdjust="spacingAndGlyphs">1800</text>
<text x="845.0" y="2465.6" font-size="15" text-anchor="end" textLength="4.6" lengthAdjust="spacingAndGlyphs">-</text>
<text x="889.0" y="2465.6" font-size="15" textLength="26.9" lengthAdjust="spacingAndGlyphs">15.5</text>
<text x="980.0" y="2465.6" font-size="15" text-anchor="middle" textLength="30.7" lengthAdjust="spacingAndGlyphs">9000</text>
<line x1="578.4" y1="2490.2" x2="1042.6" y2="2490.2" stroke="#000" stroke-width="1.2"/>
<line x1="753.7" y1="2509.3" x2="999.5" y2="2509.3" stroke="#000" stroke-width="1"/>
<line x1="578.4" y1="2534.8" x2="1042.6" y2="2534.8" stroke="#000" stroke-width="1.2"/>
<line x1="578.4" y1="2614.0" x2="1042.6" y2="2614.0" stroke="#000" stroke-width="1.2"/>
<line x1="578.4" y1="2694.0" x2="1042.6" y2="2694.0" stroke="#000" stroke-width="1.2"/>
<line x1="578.4" y1="2742.9" x2="1042.6" y2="2742.9" stroke="#000" stroke-width="1.2"/>
<line x1="655.7" y1="2490.2" x2="655.7" y2="2742.9" stroke="#000" stroke-width="1"/>
<line x1="753.7" y1="2490.2" x2="753.7" y2="2742.9" stroke="#000" stroke-width="1"/>
<line x1="782.3" y1="2509.3" x2="782.3" y2="2742.9" stroke="#000" stroke-width="1"/>
<line x1="812.0" y1="2509.3" x2="812.0" y2="2742.9" stroke="#000" stroke-width="1"/>
<line x1="843.2" y1="2509.3" x2="843.2" y2="2742.9" stroke="#000" stroke-width="1"/>
<line x1="871.8" y1="2509.3" x2="871.8" y2="2742.9" stroke="#000" stroke-width="1"/>
<line x1="900.4" y1="2490.2" x2="900.4" y2="2742.9" stroke="#000" stroke-width="1"/>
<line x1="931.3" y1="2509.3" x2="931.3" y2="2742.9" stroke="#000" stroke-width="1"/>
<line x1="961.8" y1="2509.3" x2="961.8" y2="2742.9" stroke="#000" stroke-width="1"/>
<line x1="999.5" y1="2490.2" x2="999.5" y2="2742.9" stroke="#000" stroke-width="1"/>
<text x="622.0" y="2520.3" font-size="13.2" text-anchor="middle">CODE</text>
<text x="704.5" y="2518.8" font-size="15" text-anchor="middle">Model</text>
<text x="827.0" y="2503.5" font-size="15" text-anchor="middle" textLength="97.0" lengthAdjust="spacingAndGlyphs">Dimension mm</text>
<text x="950.0" y="2504.3" font-size="12.5" text-anchor="middle" textLength="60.0" lengthAdjust="spacingAndGlyphs">Flange size</text>
<text x="768.0" y="2527.2" font-size="15" text-anchor="middle" textLength="18.7" lengthAdjust="spacingAndGlyphs">Φd</text>
<text x="797.1" y="2527.2" font-size="15" text-anchor="middle" textLength="9.2" lengthAdjust="spacingAndGlyphs">A</text>
<text x="827.6" y="2527.2" font-size="15" text-anchor="middle" textLength="9.2" lengthAdjust="spacingAndGlyphs">B</text>
<text x="857.5" y="2527.2" font-size="15" text-anchor="middle" textLength="10.0" lengthAdjust="spacingAndGlyphs">C</text>
<text x="886.0" y="2521.4" font-size="11" text-anchor="middle">Ball</text>
<text x="886.0" y="2531.7" font-size="11" text-anchor="middle">Dia</text>
<text x="915.8" y="2527.2" font-size="12" text-anchor="middle">OD</text>
<text x="946.5" y="2527.2" font-size="12" text-anchor="middle" textLength="27.0" lengthAdjust="spacingAndGlyphs">Pitch</text>
<text x="980.6" y="2521.4" font-size="11" text-anchor="middle">Balt</text>
<text x="980.6" y="2531.7" font-size="11" text-anchor="middle">Hole</text>
<text x="1021.0" y="2508.0" font-size="15.5" text-anchor="middle">Wgt</text>
<text x="1021.0" y="2523.4" font-size="15.5" text-anchor="middle">Kgs</text>
<text x="651.0" y="2549.3" font-size="15" text-anchor="end" font-weight="bold" textLength="56.6" lengthAdjust="spacingAndGlyphs">87 23 74</text>
<text x="660.3" y="2549.3" font-size="11.6" textLength="67.8" lengthAdjust="spacingAndGlyphs">W2T1-PN10-</text>
<text x="749.0" y="2549.3" font-size="12.5" text-anchor="end">50</text>
<text x="778.3" y="2549.3" font-size="12.5" text-anchor="end">50</text>
<text x="808.0" y="2549.3" font-size="12.5" text-anchor="end">106</text>
<text x="839.2" y="2549.3" font-size="12.5" text-anchor="end">161</text>
<text x="867.8" y="2549.3" font-size="12.5" text-anchor="end">136</text>
<text x="896.4" y="2549.3" font-size="12.5" text-anchor="end">60</text>
<text x="927.3" y="2549.3" font-size="12.5" text-anchor="end">165</text>
<text x="957.8" y="2549.3" font-size="12.5" text-anchor="end">125</text>
<text x="995.5" y="2549.3" font-size="12.5" text-anchor="end">4x18</text>
<text x="1007.5" y="2549.3" font-size="12.5">2.0</text>
<text x="651.0" y="2564.6" font-size="15" text-anchor="end" font-weight="bold" textLength="16.2" lengthAdjust="spacingAndGlyphs">75</text>
<text x="749.0" y="2564.6" font-size="12.5" text-anchor="end">65</text>
<text x="778.3" y="2564.6" font-size="12.5" text-anchor="end">65</text>
<text x="808.0" y="2564.6" font-size="12.5" text-anchor="end">130</text>
<text x="839.2" y="2564.6" font-size="12.5" text-anchor="end">200</text>
<text x="867.8" y="2564.6" font-size="12.5" text-anchor="end">168</text>
<text x="896.4" y="2564.6" font-size="12.5" text-anchor="end">75</text>
<text x="927.3" y="2564.6" font-size="12.5" text-anchor="end">185</text>
<text x="957.8" y="2564.6" font-size="12.5" text-anchor="end">145</text>
<text x="995.5" y="2564.6" font-size="12.5" text-anchor="end">8x18</text>
<text x="1007.5" y="2564.6" font-size="12.5">2.75</text>
<text x="651.0" y="2579.5" font-size="15" text-anchor="end" font-weight="bold" textLength="16.2" lengthAdjust="spacingAndGlyphs">76</text>
<text x="749.0" y="2579.5" font-size="12.5" text-anchor="end">80</text>
<text x="778.3" y="2579.5" font-size="12.5" text-anchor="end">80</text>
<text x="808.0" y="2579.5" font-size="12.5" text-anchor="end">160</text>
<text x="839.2" y="2579.5" font-size="12.5" text-anchor="end">226</text>
<text x="867.8" y="2579.5" font-size="12.5" text-anchor="end">190</text>
<text x="896.4" y="2579.5" font-size="12.5" text-anchor="end">90</text>
<text x="927.3" y="2579.5" font-size="12.5" text-anchor="end">200</text>
<text x="957.8" y="2579.5" font-size="12.5" text-anchor="end">160</text>
<text x="995.5" y="2579.5" font-size="12.5" text-anchor="end">8x18</text>
<text x="1007.5" y="2579.5" font-size="12.5">3.75</text>
<text x="651.0" y="2594.5" font-size="15" text-anchor="end" font-weight="bold" textLength="16.2" lengthAdjust="spacingAndGlyphs">77</text>
<text x="749.0" y="2594.5" font-size="12.5" text-anchor="end">100</text>
<text x="778.3" y="2594.5" font-size="12.5" text-anchor="end">100</text>
<text x="808.0" y="2594.5" font-size="12.5" text-anchor="end">195</text>
<text x="839.2" y="2594.5" font-size="12.5" text-anchor="end">226</text>
<text x="867.8" y="2594.5" font-size="12.5" text-anchor="end">226</text>
<text x="896.4" y="2594.5" font-size="12.5" text-anchor="end">105</text>
<text x="927.3" y="2594.5" font-size="12.5" text-anchor="end">220</text>
<text x="957.8" y="2594.5" font-size="12.5" text-anchor="end">180</text>
<text x="995.5" y="2594.5" font-size="12.5" text-anchor="end">8x18</text>
<text x="1007.5" y="2594.5" font-size="12.5">6.0</text>
<text x="651.0" y="2610.0" font-size="15" text-anchor="end" font-weight="bold" textLength="16.2" lengthAdjust="spacingAndGlyphs">65</text>
<text x="749.0" y="2610.0" font-size="12.5" text-anchor="end">125</text>
<text x="778.3" y="2610.0" font-size="12.5" text-anchor="end">125</text>
<text x="808.0" y="2610.0" font-size="12.5" text-anchor="end">235</text>
<text x="839.2" y="2610.0" font-size="12.5" text-anchor="end">320</text>
<text x="867.8" y="2610.0" font-size="12.5" text-anchor="end">262</text>
<text x="896.4" y="2610.0" font-size="12.5" text-anchor="end">130</text>
<text x="927.3" y="2610.0" font-size="12.5" text-anchor="end">250</text>
<text x="957.8" y="2610.0" font-size="12.5" text-anchor="end">210</text>
<text x="995.5" y="2610.0" font-size="12.5" text-anchor="end">8x18</text>
<text x="1007.5" y="2610.0" font-size="12.5">8.5</text>
<text x="651.0" y="2630.0" font-size="15" text-anchor="end" font-weight="bold" textLength="56.6" lengthAdjust="spacingAndGlyphs">87 23 66</text>
<text x="660.3" y="2630.0" font-size="11.6" textLength="67.8" lengthAdjust="spacingAndGlyphs">W2T1-PN10-</text>
<text x="749.0" y="2630.0" font-size="12.5" text-anchor="end">150</text>
<text x="778.3" y="2630.0" font-size="12.5" text-anchor="end">150</text>
<text x="808.0" y="2630.0" font-size="12.5" text-anchor="end">275</text>
<text x="839.2" y="2630.0" font-size="12.5" text-anchor="end">375</text>
<text x="867.8" y="2630.0" font-size="12.5" text-anchor="end">312</text>
<text x="896.4" y="2630.0" font-size="12.5" text-anchor="end">155</text>
<text x="927.3" y="2630.0" font-size="12.5" text-anchor="end">285</text>
<text x="957.8" y="2630.0" font-size="12.5" text-anchor="end">240</text>
<text x="995.5" y="2630.0" font-size="12.5" text-anchor="end">8x22</text>
<text x="1007.5" y="2630.0" font-size="12.5">12</text>
<text x="651.0" y="2645.0" font-size="15" text-anchor="end" font-weight="bold" textLength="16.2" lengthAdjust="spacingAndGlyphs">67</text>
<text x="749.0" y="2645.0" font-size="12.5" text-anchor="end">175</text>
<text x="778.3" y="2645.0" font-size="12.5" text-anchor="end">175</text>
<text x="808.0" y="2645.0" font-size="12.5" text-anchor="end">275</text>
<text x="839.2" y="2645.0" font-size="12.5" text-anchor="end">372</text>
<text x="867.8" y="2645.0" font-size="12.5" text-anchor="end">312</text>
<text x="896.4" y="2645.0" font-size="12.5" text-anchor="end">155</text>
<text x="927.3" y="2645.0" font-size="12.5" text-anchor="end">315</text>
<text x="957.8" y="2645.0" font-size="12.5" text-anchor="end">270</text>
<text x="995.5" y="2645.0" font-size="12.5" text-anchor="end">8x22</text>
<text x="1007.5" y="2645.0" font-size="12.5">13</text>
<text x="651.0" y="2660.0" font-size="15" text-anchor="end" font-weight="bold" textLength="16.2" lengthAdjust="spacingAndGlyphs">68</text>
<text x="749.0" y="2660.0" font-size="12.5" text-anchor="end">200</text>
<text x="778.3" y="2660.0" font-size="12.5" text-anchor="end">200</text>
<text x="808.0" y="2660.0" font-size="12.5" text-anchor="end">340</text>
<text x="839.2" y="2660.0" font-size="12.5" text-anchor="end">470</text>
<text x="867.8" y="2660.0" font-size="12.5" text-anchor="end">385</text>
<text x="896.4" y="2660.0" font-size="12.5" text-anchor="end">200</text>
<text x="927.3" y="2660.0" font-size="12.5" text-anchor="end">340</text>
<text x="957.8" y="2660.0" font-size="12.5" text-anchor="end">295</text>
<text x="995.5" y="2660.0" font-size="12.5" text-anchor="end">8x22</text>
<text x="1007.5" y="2660.0" font-size="12.5">19.5</text>
<text x="651.0" y="2675.0" font-size="15" text-anchor="end" font-weight="bold" textLength="16.2" lengthAdjust="spacingAndGlyphs">69</text>
<text x="749.0" y="2675.0" font-size="12.5" text-anchor="end">250</text>
<text x="778.3" y="2675.0" font-size="12.5" text-anchor="end">250</text>
<text x="808.0" y="2675.0" font-size="12.5" text-anchor="end">415</text>
<text x="839.2" y="2675.0" font-size="12.5" text-anchor="end">593</text>
<text x="867.8" y="2675.0" font-size="12.5" text-anchor="end">478</text>
<text x="896.4" y="2675.0" font-size="12.5" text-anchor="end">250</text>
<text x="927.3" y="2675.0" font-size="12.5" text-anchor="end">395</text>
<text x="957.8" y="2675.0" font-size="12.5" text-anchor="end">350</text>
<text x="995.5" y="2675.0" font-size="12.5" text-anchor="end">12x22</text>
<text x="1007.5" y="2675.0" font-size="12.5">31</text>
<text x="651.0" y="2690.0" font-size="15" text-anchor="end" font-weight="bold" textLength="16.2" lengthAdjust="spacingAndGlyphs">70</text>
<text x="749.0" y="2690.0" font-size="12.5" text-anchor="end">300</text>
<text x="778.3" y="2690.0" font-size="12.5" text-anchor="end">300</text>
<text x="808.0" y="2690.0" font-size="12.5" text-anchor="end">560</text>
<text x="839.2" y="2690.0" font-size="12.5" text-anchor="end">741</text>
<text x="867.8" y="2690.0" font-size="12.5" text-anchor="end">595</text>
<text x="896.4" y="2690.0" font-size="12.5" text-anchor="end">325</text>
<text x="927.3" y="2690.0" font-size="12.5" text-anchor="end">445</text>
<text x="957.8" y="2690.0" font-size="12.5" text-anchor="end">400</text>
<text x="995.5" y="2690.0" font-size="12.5" text-anchor="end">12x22</text>
<text x="1007.5" y="2690.0" font-size="12.5">63</text>
<text x="651.0" y="2709.3" font-size="15" text-anchor="end" font-weight="bold" textLength="56.6" lengthAdjust="spacingAndGlyphs">87 23 71</text>
<text x="660.3" y="2709.3" font-size="11.6" textLength="67.8" lengthAdjust="spacingAndGlyphs">W2T1-PN10-</text>
<text x="749.0" y="2709.3" font-size="12.5" text-anchor="end">350</text>
<text x="778.3" y="2709.3" font-size="12.5" text-anchor="end">350</text>
<text x="808.0" y="2709.3" font-size="12.5" text-anchor="end">642</text>
<text x="839.2" y="2709.3" font-size="12.5" text-anchor="end">842</text>
<text x="867.8" y="2709.3" font-size="12.5" text-anchor="end">675</text>
<text x="896.4" y="2709.3" font-size="12.5" text-anchor="end">360</text>
<text x="927.3" y="2709.3" font-size="12.5" text-anchor="end">505</text>
<text x="957.8" y="2709.3" font-size="12.5" text-anchor="end">460</text>
<text x="995.5" y="2709.3" font-size="12.5" text-anchor="end">16x22</text>
<text x="1007.5" y="2709.3" font-size="12.5">88</text>
<text x="651.0" y="2724.0" font-size="15" text-anchor="end" font-weight="bold" textLength="16.2" lengthAdjust="spacingAndGlyphs">72</text>
<text x="749.0" y="2724.0" font-size="12.5" text-anchor="end">400</text>
<text x="778.3" y="2724.0" font-size="12.5" text-anchor="end">400</text>
<text x="808.0" y="2724.0" font-size="12.5" text-anchor="end">725</text>
<text x="839.2" y="2724.0" font-size="12.5" text-anchor="end">950</text>
<text x="867.8" y="2724.0" font-size="12.5" text-anchor="end">760</text>
<text x="896.4" y="2724.0" font-size="12.5" text-anchor="end">400</text>
<text x="927.3" y="2724.0" font-size="12.5" text-anchor="end">565</text>
<text x="957.8" y="2724.0" font-size="12.5" text-anchor="end">515</text>
<text x="995.5" y="2724.0" font-size="12.5" text-anchor="end">12x26</text>
<text x="1007.5" y="2724.0" font-size="12.5">114</text>
<text x="651.0" y="2738.0" font-size="15" text-anchor="end" font-weight="bold" textLength="16.2" lengthAdjust="spacingAndGlyphs">73</text>
<text x="749.0" y="2738.0" font-size="12.5" text-anchor="end">450</text>
<text x="778.3" y="2738.0" font-size="12.5" text-anchor="end">450</text>
<text x="808.0" y="2738.0" font-size="12.5" text-anchor="end">740</text>
<text x="839.2" y="2738.0" font-size="12.5" text-anchor="end">1110</text>
<text x="867.8" y="2738.0" font-size="12.5" text-anchor="end">925</text>
<text x="896.4" y="2738.0" font-size="12.5" text-anchor="end">480</text>
<text x="927.3" y="2738.0" font-size="12.5" text-anchor="end">615</text>
<text x="957.8" y="2738.0" font-size="12.5" text-anchor="end">565</text>
<text x="995.5" y="2738.0" font-size="12.5" text-anchor="end">20x26</text>
<text x="1007.5" y="2738.0" font-size="12.5">34</text>
<text x="591.0" y="2758.9" font-size="12.5" textLength="185.0" lengthAdjust="spacingAndGlyphs">Name of Mfr. : World Wide Metric</text>
<g transform="translate(70,200) scale(0.334448)" stroke="#1c1c1c" stroke-width="4.34" fill="none" stroke-linecap="round" stroke-linejoin="round">
<path d="M318,105H728M318,99V111M728,99V111"/>
<path d="M318,95V215M728,95V180M473,95V530"/>
<path d="M380,205H640M380,205Q320,205 320,265V440Q320,495 380,495H640V205"/>
<path d="M385,217Q332,217 332,270V438Q332,483 385,483"/>
<path d="M640,205L722,225V472L640,490M655,210V490"/>
<path d="M415,210V490"/>
<path d="M405,210V490M415,217H638" stroke-dasharray="10 6"/>
<path d="M625,170H645V205H625ZM625,495H645V525H625Z"/>
<circle cx="515" cy="352" r="105"/>
<circle cx="515" cy="352" r="80" stroke-dasharray="10 6"/>
<path d="M430,260Q515,230 600,300" stroke-dasharray="10 6"/>
<path d="M290,352H745"/>
<circle cx="515" cy="352" r="6"/>
<path d="M790,175V522M784,175H796M784,522H796"/>
<path d="M668,175H800M680,522H800"/>
<rect x="378.8" y="93.9" width="42.4" height="28.4" fill="#E6DCDC" stroke="none"/><text x="400" y="118" font-size="29.9" text-anchor="middle" font-weight="bold" fill="#1c1c1c" stroke="none">L1</text>
<rect x="593.8" y="91.9" width="42.4" height="28.4" fill="#E6DCDC" stroke="none"/><text x="615" y="116" font-size="29.9" text-anchor="middle" font-weight="bold" fill="#1c1c1c" stroke="none">L2</text>
<rect x="763.4" y="335.4" width="39.3" height="31.2" fill="#E6DCDC" stroke="none"/><text x="783" y="362" font-size="32.9" text-anchor="middle" font-weight="bold" fill="#1c1c1c" stroke="none">W</text>
<path d="M213,570V978M207,570H219M207,978H219"/>
<path d="M265,705V978M259,705H271M259,978H271"/>
<path d="M195,570H380M200,978H320M255,705H340"/>
<rect x="203.5" y="750.9" width="29.1" height="28.4" fill="#E6DCDC" stroke="none"/><text x="218" y="775" font-size="29.9" text-anchor="middle" font-weight="bold" fill="#1c1c1c" stroke="none">H</text>
<rect x="247.1" y="813.9" width="25.7" height="28.4" fill="#E6DCDC" stroke="none"/><text x="260" y="838" font-size="29.9" text-anchor="middle" font-weight="bold" fill="#1c1c1c" stroke="none">h</text>
<path d="M410,582C350,592 318,640 318,700V830C318,880 400,890 400,930V955"/>
<path d="M415,594C362,604 331,650 331,700V825C331,868 388,880 388,922V955"/>
<rect x="320" y="955" width="310" height="23"/>
<rect x="430" y="585" width="195" height="120"/>
<path d="M598,590V700M612,590V705"/>
<rect x="400" y="568" width="25" height="22"/>
<path d="M405,705H640M405,705V815Q405,830 420,830H548"/>
<rect x="425" y="775" width="180" height="35" fill="#cfc4c4"/>
<rect x="505" y="735" width="15" height="120"/>
<path d="M440,748H590M440,740V756M590,740V756"/>
<rect x="540.4" y="720.3" width="23.2" height="25.6" fill="#E6DCDC" stroke="none"/><text x="552" y="742" font-size="26.9" text-anchor="middle" font-weight="bold" fill="#1c1c1c" stroke="none">d</text>
<ellipse cx="550" cy="645" rx="15" ry="10" fill="#111" stroke="none"/>
<rect x="630" y="705" width="82" height="157"/>
<path d="M550,830V955M562,840V955M562,840Q580,835 600,855"/>
<path d="M752,862V978M746,862H758M746,978H758"/>
<path d="M650,862H775M655,978H790"/>
<rect x="733.8" y="912.9" width="42.4" height="28.4" fill="#E6DCDC" stroke="none"/><text x="755" y="937" font-size="29.9" text-anchor="middle" font-weight="bold" fill="#1c1c1c" stroke="none">h2</text>
<path d="M402,1005H550M402,995V1015M550,995V1015"/>
<rect x="463.1" y="992.9" width="25.7" height="28.4" fill="#E6DCDC" stroke="none"/><text x="476" y="1017" font-size="29.9" text-anchor="middle" font-weight="bold" fill="#1c1c1c" stroke="none">d</text>
<path d="M515,560V880"/>
<path d="M973,555V1010"/>
<path d="M868,582H1082Q1112,590 1112,630V705"/>
<path d="M868,582Q830,592 830,640V850Q832,892 880,905V958"/>
<path d="M975,705H1130Q1142,705 1142,720V850Q1142,865 1130,865H975"/>
<path d="M1100,865Q1060,880 1060,920V958"/>
<rect x="820" y="958" width="310" height="24"/>
<path d="M832,705H975M832,718H975M885,820H975M885,775H975V820M885,775V820M900,590V705"/>
<path d="M850,1000V945M1100,1000V940"/>
</g>
<g transform="translate(490,200) scale(0.311042)" stroke="#1c1c1c" stroke-width="4.66" fill="none" stroke-linecap="round" stroke-linejoin="round">
<path d="M205,150H615M205,144V156M615,144V156"/>
<path d="M205,140V270M615,140V260M438,140V570"/>
<rect x="307.2" y="137.0" width="45.6" height="30.5" fill="#E6DCDC" stroke="none"/><text x="330" y="163" font-size="32.1" text-anchor="middle" font-weight="bold" fill="#1c1c1c" stroke="none">L1</text>
<rect x="507.2" y="134.0" width="45.6" height="30.5" fill="#E6DCDC" stroke="none"/><text x="530" y="160" font-size="32.1" text-anchor="middle" font-weight="bold" fill="#1c1c1c" stroke="none">L2</text>
<path d="M300,222H548V540H300M300,222Q205,222 205,330V440Q205,540 300,540"/>
<path d="M305,232Q216,232 216,330V440Q216,530 305,530"/>
<path d="M328,232V528"/>
<path d="M318,232V528M330,232H545" stroke-dasharray="10 6"/>
<rect x="548" y="195" width="12" height="375"/>
<path d="M560,232L615,245V520L560,535"/>
<circle cx="440" cy="385" r="105"/>
<circle cx="440" cy="385" r="60" stroke-dasharray="10 6"/>
<circle cx="385" cy="328" r="8"/>
<circle cx="492" cy="328" r="8"/>
<path d="M178,385H635"/>
<path d="M672,192V572M666,192H678M666,572H678"/>
<path d="M585,192H685M570,572H685"/>
<rect x="650.9" y="371.4" width="42.2" height="33.6" fill="#E6DCDC" stroke="none"/><text x="672" y="400" font-size="35.4" text-anchor="middle" font-weight="bold" fill="#1c1c1c" stroke="none">W</text>
<path d="M128,612V1065M122,612H134M122,1065H134"/>
<path d="M165,738V1065M159,738H171M159,1065H171"/>
<path d="M118,612H340M118,1065H245M155,738H195"/>
<rect x="112.4" y="796.0" width="31.3" height="30.5" fill="#E6DCDC" stroke="none"/><text x="128" y="822" font-size="32.1" text-anchor="middle" font-weight="bold" fill="#1c1c1c" stroke="none">H</text>
<rect x="146.2" y="864.0" width="27.7" height="30.5" fill="#E6DCDC" stroke="none"/><text x="160" y="890" font-size="32.1" text-anchor="middle" font-weight="bold" fill="#1c1c1c" stroke="none">h</text>
<path d="M345,625C250,640 205,700 205,760V880C205,960 350,990 350,1040V1045"/>
<path d="M350,636C262,650 218,705 218,760V880C218,950 338,985 338,1040V1045"/>
<path d="M345,628H530M530,628L545,640V730H560"/>
<path d="M360,648H530" stroke-dasharray="10 6"/>
<circle cx="362" cy="622" r="10"/>
<path d="M330,738H545Q555,738 555,750V880Q555,890 545,890H330Q318,890 318,880V750Q318,738 330,738Z"/>
<rect x="340" y="830" width="202" height="50" fill="#cfc4c4"/>
<rect x="432" y="765" width="15" height="155"/>
<path d="M355,785H525M355,775V795M525,775V795"/>
<rect x="467.5" y="756.6" width="24.9" height="27.5" fill="#E6DCDC" stroke="none"/><text x="480" y="780" font-size="28.9" text-anchor="middle" font-weight="bold" fill="#1c1c1c" stroke="none">d</text>
<rect x="555" y="735" width="60" height="180"/>
<path d="M520,895V1045M535,895V1045"/>
<rect x="268" y="1045" width="344" height="23"/>
<path d="M655,915V1068M649,915H661M649,1068H661"/>
<path d="M620,915H665M615,1068H665"/>
<rect x="625.2" y="976.0" width="45.6" height="30.5" fill="#E6DCDC" stroke="none"/><text x="648" y="1002" font-size="32.1" text-anchor="middle" font-weight="bold" fill="#1c1c1c" stroke="none">h2</text>
<path d="M355,1100H528M355,1090V1110M528,1090V1110"/>
<rect x="426.2" y="1089.0" width="27.7" height="30.5" fill="#E6DCDC" stroke="none"/><text x="440" y="1115" font-size="32.1" text-anchor="middle" font-weight="bold" fill="#1c1c1c" stroke="none">d</text>
<path d="M440,600V1090"/>
<path d="M865,595V1090"/>
<path d="M780,628H960M780,628Q710,650 710,720V880C710,940 775,965 775,1000V1045M960,628Q1025,650 1025,720V740"/>
<path d="M865,740H1045Q1055,740 1055,752V908Q1055,920 1045,920H865M1000,740V920"/>
<path d="M1038,770l8,8l-8,8l-8,-8zM1038,874l8,8l-8,8l-8,-8z"/>
<rect x="765" y="835" width="100" height="50"/>
<path d="M1025,920Q1020,975 970,990"/>
<path d="M730,745H860" stroke-dasharray="10 6"/>
<rect x="702" y="1045" width="333" height="25"/>
<path d="M790,605V660M940,605V660M730,910Q760,950 775,990"/>
</g>
<g transform="translate(880,200) scale(0.334448)" stroke="#1c1c1c" stroke-width="4.34" fill="none" stroke-linecap="round" stroke-linejoin="round">
<path d="M140,82H488V530H140ZM140,95H488M148,472V530M480,472V530M140,472H488"/>
<path d="M140,140L100,185V440L140,470M128,165V460"/>
<path d="M488,140L528,185V440L488,470M500,165V460"/>
<path d="M313,60V545M85,308H555"/>
<path d="M206,308A107,107 0 0 0 420,308" stroke-width="2"/>
<path d="M313,298l10,10l-10,10l-10,-10z"/>
<path d="M102,578H535M102,572V584M535,572V584"/>
<path d="M102,565V665M535,565V680"/>
<rect x="302.9" y="565.4" width="30.2" height="31.2" fill="#E6DCDC" stroke="none"/><text x="318" y="592" font-size="32.9" text-anchor="middle" fill="#1c1c1c" stroke="none">B</text>
<rect x="148" y="645" width="345" height="285" rx="12"/>
<rect x="155" y="652" width="331" height="271" rx="9"/>
<rect x="102" y="695" width="46" height="187"/>
<rect x="493" y="695" width="42" height="190"/>
<path d="M150,712H315M150,858H315M210,828H315V858M210,828Q205,845 220,858"/>
<path d="M210,930V990M220,930V990M425,930V990M435,930V990"/>
<rect x="168" y="990" width="300" height="13"/>
<path d="M318,605V1030"/>
<path d="M60,710V1003M54,710H66M54,1003H66"/>
<path d="M45,710H75M45,1003H160"/>
<rect x="39.9" y="833.9" width="24.1" height="28.4" fill="#E6DCDC" stroke="none"/><text x="52" y="858" font-size="29.9" text-anchor="middle" fill="#1c1c1c" stroke="none">h</text>
<path d="M210,1050H427M210,1040V1060M427,1040V1060"/>
<rect x="305.9" y="1037.9" width="24.1" height="28.4" fill="#E6DCDC" stroke="none"/><text x="318" y="1062" font-size="29.9" text-anchor="middle" fill="#1c1c1c" stroke="none">d</text>
<path d="M578,582H1012M578,576V588M1012,576V588"/>
<path d="M578,570V650M1012,570V640"/>
<rect x="777.0" y="567.4" width="32.0" height="31.2" fill="#E6DCDC" stroke="none"/><text x="793" y="594" font-size="32.9" text-anchor="middle" fill="#1c1c1c" stroke="none">C</text>
<circle cx="618" cy="630" r="22"/>
<circle cx="975" cy="628" r="22"/>
<path d="M603,630H633M618,615V645M960,628H990M975,613V643"/>
<path d="M578,655H1015V870L950,935H640L578,870Z"/>
<path d="M588,665H1005V865L945,925H645L588,865Z"/>
<rect x="790" y="698" width="185" height="190"/>
<path d="M910,698V888"/>
<path d="M640,715H790M640,715V830L680,865H790M688,835H790V865"/>
<path d="M690,935V995M700,935V995M890,935V995M900,935V995"/>
<rect x="650" y="995" width="288" height="17"/>
<path d="M1060,603V1012M1054,603H1066M1054,1012H1066"/>
<path d="M1005,603H1080M965,1012H1095"/>
<rect x="1042.0" y="765.4" width="32.0" height="31.2" fill="#E6DCDC" stroke="none"/><text x="1058" y="792" font-size="32.9" text-anchor="middle" fill="#1c1c1c" stroke="none">H</text>
<path d="M790,625V1025"/>
</g>
<g transform="translate(60,730) scale(0.342114)" stroke="#1c1c1c" stroke-width="4.24" fill="none" stroke-linecap="round" stroke-linejoin="round">
<path d="M128,215H295M380,215H548M128,205V240M548,205V250"/>
<text x="340" y="222" font-size="43.8" text-anchor="middle" fill="#1c1c1c" stroke="none">A</text>
<rect x="130" y="255" width="418" height="435"/>
<circle cx="140" cy="262" r="6"/>
<circle cx="270" cy="262" r="6"/>
<circle cx="405" cy="262" r="6"/>
<circle cx="538" cy="262" r="6"/>
<circle cx="140" cy="403" r="6"/>
<circle cx="538" cy="403" r="6"/>
<circle cx="140" cy="545" r="6"/>
<circle cx="538" cy="545" r="6"/>
<circle cx="140" cy="685" r="6"/>
<circle cx="270" cy="685" r="6"/>
<circle cx="405" cy="685" r="6"/>
<circle cx="538" cy="685" r="6"/>
<path d="M342,250V705M115,473H565"/>
<path d="M88,252V440M88,510V692M80,252H125M80,692H130"/>
<text x="88" y="482" font-size="43.8" text-anchor="middle" fill="#1c1c1c" stroke="none">B</text>
<path d="M178,430V515M502,430V515"/>
<rect x="112" y="770" width="418" height="20" rx="6"/>
<circle cx="120" cy="780" r="9"/>
<circle cx="522" cy="780" r="9"/>
<path d="M158,725V770M487,725V770"/>
<rect x="135" y="790" width="383" height="260"/>
<path d="M135,810L180,815Q195,845 180,870L135,905M150,830V880"/>
<circle cx="525" cy="830" r="12"/>
<path d="M505,830H560M525,815V848"/>
<rect x="163" y="942" width="110" height="40"/>
<path d="M175,950Q218,1010 261,950"/>
<rect x="375" y="942" width="110" height="40"/>
<path d="M387,950Q430,1010 473,950"/>
<rect x="215" y="1050" width="217" height="50"/>
<rect x="165" y="1100" width="305" height="12"/>
<path d="M322,765V1215"/>
<path d="M68,725V1110M60,725H140M60,775H110M97,848V1110M90,848H140M60,1110H110"/>
<text x="63" y="935" font-size="43.8" text-anchor="middle" fill="#1c1c1c" stroke="none">H</text>
<text x="97" y="995" font-size="43.8" text-anchor="middle" fill="#1c1c1c" stroke="none">h</text>
<path d="M222,1112A100,100 0 0 0 322,1212" stroke-width="2" stroke-dasharray="10 6"/>
<path d="M422,1112A100,100 0 0 1 322,1212" stroke-width="2" stroke-dasharray="10 6"/>
<text x="262" y="1150" font-size="40.9" text-anchor="middle" transform="rotate(-30 262 1150)" fill="#1c1c1c" stroke="none">φd</text>
<path d="M470,1105L510,1145H700M130,1100V1118M140,1100V1118"/>
<text x="505" y="1130" font-size="40.9" textLength="185" lengthAdjust="spacingAndGlyphs" fill="#1c1c1c" stroke="none">JIS5K-FF</text>
<rect x="905" y="728" width="80" height="47" rx="12"/>
<rect x="918" y="738" width="54" height="22" rx="6"/>
<rect x="730" y="772" width="428" height="18" rx="6"/>
<circle cx="738" cy="780" r="8"/>
<circle cx="1150" cy="780" r="8"/>
<rect x="748" y="790" width="392" height="260"/>
<circle cx="942" cy="830" r="14"/>
<text x="942" y="836" font-size="29.2" text-anchor="middle" font-weight="bold" fill="#1c1c1c" stroke="none">N</text>
<text x="868" y="893" font-size="26.3" text-anchor="middle" fill="#1c1c1c" stroke="none">5 3 B -</text>
<rect x="775" y="942" width="97" height="38"/>
<path d="M785,950Q823,1000 862,950"/>
<rect x="895" y="942" width="97" height="38"/>
<path d="M905,950Q943,1000 982,950"/>
<rect x="1015" y="942" width="97" height="38"/>
<path d="M1025,950Q1063,1000 1102,950"/>
<rect x="835" y="1050" width="215" height="50"/>
<rect x="788" y="1100" width="309" height="12"/>
<path d="M942,715V1120M762,810V855"/>
</g>
<g transform="translate(500,730) scale(0.311042)" stroke="#1c1c1c" stroke-width="4.66" fill="none" stroke-linecap="round" stroke-linejoin="round">
<path d="M152,268H195M265,268H340M410,268H465M152,255V300M465,255V385M302,255V620"/>
<text x="232" y="280" font-size="41.8" text-anchor="middle" fill="#1c1c1c" stroke="none">w2</text>
<text x="380" y="280" font-size="41.8" text-anchor="middle" fill="#1c1c1c" stroke="none">w3</text>
<path d="M340,318H200Q152,318 152,365V560Q152,605 200,605H340"/>
<circle cx="340" cy="462" r="128"/>
<circle cx="340" cy="462" r="120"/>
<circle cx="340" cy="462" r="108" stroke-dasharray="4 6"/>
<circle cx="340" cy="342" r="6" fill="#1c1c1c"/>
<circle cx="440" cy="400" r="6" fill="#1c1c1c"/>
<circle cx="440" cy="520" r="6" fill="#1c1c1c"/>
<circle cx="340" cy="580" r="6" fill="#1c1c1c"/>
<circle cx="238" cy="520" r="6" fill="#1c1c1c"/>
<circle cx="238" cy="400" r="6" fill="#1c1c1c"/>
<path d="M140,460H478"/>
<path d="M100,318V420M100,505V605M88,318H160M88,605H160"/>
<text x="118" y="465" font-size="41.8" text-anchor="middle" transform="rotate(-90 118 465)" fill="#1c1c1c" stroke="none">w1</text>
<path d="M370,462L470,515H598"/>
<text x="483" y="445" font-size="41.8" textLength="285" lengthAdjust="spacingAndGlyphs" fill="#1c1c1c" stroke="none">"W" MARK OF</text>
<text x="478" y="507" font-size="41.8" textLength="308" lengthAdjust="spacingAndGlyphs" fill="#1c1c1c" stroke="none">WITH SCREEN</text>
<text x="548" y="690" font-size="41.8" textLength="168" lengthAdjust="spacingAndGlyphs" fill="#1c1c1c" stroke="none">53C(W)-</text>
<text x="528" y="748" font-size="32.1" textLength="385" lengthAdjust="spacingAndGlyphs" fill="#1c1c1c" stroke="none">125,150,200,250 ONLY</text>
<path d="M590,765H830L845,795"/>
<rect x="212" y="805" width="246" height="10"/>
<rect x="275" y="768" width="45" height="37" rx="8"/>
<circle cx="297" cy="786" r="12"/>
<circle cx="235" cy="805" r="5" fill="#1c1c1c"/>
<circle cx="330" cy="805" r="5" fill="#1c1c1c"/>
<circle cx="433" cy="805" r="5" fill="#1c1c1c"/>
<path d="M212,815Q150,835 150,900V1180Q150,1250 218,1255V1272M458,815V1103H335V1160H260"/>
<path d="M335,1150Q375,1150 375,1180V1272M335,1145Q405,1140 405,1103"/>
<path d="M458,875H425Q380,890 378,925Q380,962 425,970H458M420,875V970M390,915H455"/>
<circle cx="270" cy="933" r="22"/>
<text x="270" y="943" font-size="35.4" text-anchor="middle" font-weight="bold" fill="#1c1c1c" stroke="none">N</text>
<text x="235" y="998" font-size="25.7" text-anchor="middle" fill="#1c1c1c" stroke="none">5 3 C -</text>
<rect x="175" y="1272" width="245" height="18"/>
<path d="M88,808V995M88,1085V1290M65,808H175M65,1290H140"/>
<text x="95" y="1040" font-size="45.0" text-anchor="middle" transform="rotate(-90 95 1040)" fill="#1c1c1c" stroke="none">H</text>
<path d="M148,1260V1340M135,1272H160M135,1290H160"/>
<path d="M545,910V1060M545,1120V1290M475,910H555"/>
<text x="550" y="1090" font-size="45.0" text-anchor="middle" transform="rotate(-90 550 1090)" fill="#1c1c1c" stroke="none">h1</text>
<path d="M495,1103V1170M495,1230V1290M470,1103H505"/>
<text x="500" y="1200" font-size="45.0" text-anchor="middle" transform="rotate(-90 500 1200)" fill="#1c1c1c" stroke="none">h2</text>
<path d="M240,1290A60,60 0 0 0 300,1350A60,60 0 0 0 360,1290" stroke-width="2" stroke-dasharray="5 5"/>
<text x="262" y="1318" font-size="38.6" text-anchor="middle" transform="rotate(-40 262 1318)" fill="#1c1c1c" stroke="none">φd</text>
<path d="M420,1290L450,1325H580"/>
<text x="450" y="1322" font-size="32.1" textLength="130" lengthAdjust="spacingAndGlyphs" fill="#1c1c1c" stroke="none">JIS5K-FI</text>
<path d="M718,805H965M760,823H945"/>
<circle cx="728" cy="805" r="5" fill="#1c1c1c"/>
<circle cx="785" cy="805" r="5" fill="#1c1c1c"/>
<circle cx="845" cy="805" r="5" fill="#1c1c1c"/>
<circle cx="900" cy="805" r="5" fill="#1c1c1c"/>
<circle cx="958" cy="805" r="5" fill="#1c1c1c"/>
<path d="M718,810Q705,830 705,860V1100M965,810Q982,830 982,860V1100"/>
<rect x="705" y="1100" width="277" height="50"/>
<path d="M775,1100A70,70 0 0 0 915,1100"/>
<path d="M712,1155Q715,1190 740,1215Q770,1240 770,1272M975,1155Q972,1190 948,1215Q920,1240 920,1272"/>
<rect x="718" y="1272" width="247" height="18"/>
<path d="M845,775V1305M735,1255V1300M950,1255V1300"/>
</g>
<g transform="translate(940,730) scale(0.326584)" stroke="#1c1c1c" stroke-width="4.44" fill="none" stroke-linecap="round" stroke-linejoin="round">
<path d="M172,262H210M275,262H370M440,262H500M172,250V305M500,250V300M305,250V560"/>
<text x="240" y="272" font-size="39.8" text-anchor="middle" fill="#1c1c1c" stroke="none">w2</text>
<text x="410" y="272" font-size="39.8" text-anchor="middle" fill="#1c1c1c" stroke="none">w3</text>
<path d="M365,302H215Q172,302 172,345V515Q172,558 215,558H365"/>
<circle cx="338" cy="432" r="110"/>
<circle cx="338" cy="432" r="102"/>
<circle cx="338" cy="432" r="94" stroke-dasharray="4 6"/>
<circle cx="338" cy="325" r="6" fill="#1c1c1c"/>
<circle cx="425" cy="378" r="6" fill="#1c1c1c"/>
<circle cx="425" cy="485" r="6" fill="#1c1c1c"/>
<circle cx="338" cy="538" r="6" fill="#1c1c1c"/>
<circle cx="250" cy="485" r="6" fill="#1c1c1c"/>
<circle cx="250" cy="378" r="6" fill="#1c1c1c"/>
<path d="M420,345Q450,352 485,350M420,520Q450,508 485,510"/>
<rect x="485" y="318" width="15" height="222"/>
<path d="M160,432H515"/>
<path d="M128,302V400M128,465V558M115,302H180M115,558H180"/>
<text x="135" y="432" font-size="39.8" text-anchor="middle" transform="rotate(-90 135 432)" fill="#1c1c1c" stroke="none">w1</text>
<path d="M360,432L405,598H935"/>
<text x="405" y="590" font-size="36.7" textLength="525" lengthAdjust="spacingAndGlyphs" fill="#1c1c1c" stroke="none">"W" MARK OF WITH SCREEN</text>
<text x="388" y="668" font-size="42.9" textLength="450" lengthAdjust="spacingAndGlyphs" fill="#1c1c1c" stroke="none">53P(W)-125 250 ONLY</text>
<path d="M375,682H860L875,710"/>
<rect x="232" y="718" width="216" height="10"/>
<rect x="285" y="685" width="40" height="33" rx="6"/>
<circle cx="250" cy="718" r="5" fill="#1c1c1c"/>
<circle cx="338" cy="718" r="5" fill="#1c1c1c"/>
<circle cx="428" cy="718" r="5" fill="#1c1c1c"/>
<path d="M232,728Q172,745 172,800V1050Q172,1090 235,1105V1135M448,728V870Q460,880 470,885H488"/>
<path d="M488,1030H375Q372,1035 372,1050V1135"/>
<path d="M448,780Q380,785 378,820Q380,855 448,860M418,790V850M385,822H445"/>
<rect x="488" y="845" width="12" height="227"/>
<path d="M470,885V1030"/>
<circle cx="275" cy="828" r="18"/>
<text x="275" y="836" font-size="30.6" text-anchor="middle" font-weight="bold" fill="#1c1c1c" stroke="none">N</text>
<text x="245" y="885" font-size="24.5" text-anchor="middle" fill="#1c1c1c" stroke="none">5 3 P -</text>
<rect x="198" y="1135" width="217" height="15"/>
<path d="M115,685V880M115,965V1150M100,685H260M100,718H230M100,1150H200"/>
<text x="122" y="925" font-size="42.9" text-anchor="middle" transform="rotate(-90 122 925)" fill="#1c1c1c" stroke="none">H</text>
<path d="M170,1125V1175M158,1135H185M158,1150H185"/>
<path d="M630,812V920M630,990V1150M470,812H640"/>
<text x="637" y="955" font-size="42.9" text-anchor="middle" transform="rotate(-90 637 955)" fill="#1c1c1c" stroke="none">h1</text>
<path d="M590,955V1025M590,1090V1150M435,955H600"/>
<text x="597" y="1060" font-size="42.9" text-anchor="middle" transform="rotate(-90 597 1060)" fill="#1c1c1c" stroke="none">h2</text>
<path d="M500,893A62,62 0 0 1 500,1017" stroke-width="2" stroke-dasharray="5 5"/>
<path d="M235,1150A65,65 0 0 0 365,1150" stroke-width="2" stroke-dasharray="5 5"/>
<text x="275" y="1180" font-size="33.7" text-anchor="middle" transform="rotate(-40 275 1180)" fill="#1c1c1c" stroke="none">φd</text>
<path d="M415,1150L455,1185H630"/>
<text x="465" y="1178" font-size="30.6" textLength="138" lengthAdjust="spacingAndGlyphs" fill="#1c1c1c" stroke="none">JIS5K-FF</text>
<path d="M765,715H985M795,735H960"/>
<circle cx="770" cy="715" r="5" fill="#1c1c1c"/>
<circle cx="825" cy="715" r="5" fill="#1c1c1c"/>
<circle cx="925" cy="715" r="5" fill="#1c1c1c"/>
<circle cx="980" cy="715" r="5" fill="#1c1c1c"/>
<path d="M765,720Q750,740 750,780V1070Q750,1100 800,1110V1135M985,720Q990,740 990,780V1070Q990,1100 945,1110V1135"/>
<circle cx="878" cy="958" r="110"/>
<circle cx="878" cy="958" r="96" stroke-dasharray="4 6"/>
<circle cx="878" cy="958" r="65"/>
<path d="M875,680V1160M755,958H995"/>
<rect x="763" y="1135" width="222" height="15"/>
<path d="M775,1040V1090Q780,1110 800,1115M968,1040V1090Q963,1110 945,1115"/>
</g>
<defs>
<linearGradient id="gBall" x1="0" y1="0" x2="1" y2="1"><stop offset="0" stop-color="#ffff60"/><stop offset="0.5" stop-color="#e8e800"/><stop offset="1" stop-color="#a8a000"/></linearGradient>
<radialGradient id="gBall2" cx="0.55" cy="0.35" r="0.7"><stop offset="0" stop-color="#ffffa0"/><stop offset="0.45" stop-color="#e6e000"/><stop offset="1" stop-color="#9a9400"/></radialGradient>
<linearGradient id="gMet" x1="0" y1="0" x2="1" y2="0"><stop offset="0" stop-color="#9a9a9a"/><stop offset="0.25" stop-color="#d8d8d8"/><stop offset="0.6" stop-color="#a8a8a8"/><stop offset="1" stop-color="#7a7a7a"/></linearGradient>
<linearGradient id="gDark" x1="0" y1="0" x2="1" y2="0"><stop offset="0" stop-color="#6a6e72"/><stop offset="0.3" stop-color="#8a8e92"/><stop offset="0.7" stop-color="#5a5e62"/><stop offset="1" stop-color="#45494d"/></linearGradient>
<linearGradient id="gShadow" x1="0" y1="0" x2="1" y2="0"><stop offset="0" stop-color="#c8c8c8"/><stop offset="0.5" stop-color="#8a8a8a"/><stop offset="1" stop-color="#777"/></linearGradient>
<linearGradient id="gLav" x1="0" y1="0" x2="1" y2="0"><stop offset="0" stop-color="#ffffff"/><stop offset="0.35" stop-color="#dcdcf4"/><stop offset="0.7" stop-color="#a8a8dc"/><stop offset="1" stop-color="#8c8cc8"/></linearGradient>
<linearGradient id="gGold" x1="0" y1="0" x2="0" y2="1"><stop offset="0" stop-color="#c8a040"/><stop offset="0.6" stop-color="#e0b040"/><stop offset="1" stop-color="#806020"/></linearGradient>
<linearGradient id="gBlue" x1="0" y1="0" x2="1" y2="0"><stop offset="0" stop-color="#dbe9f2"/><stop offset="1" stop-color="#c4d9e8"/></linearGradient>
</defs>
<g transform="translate(360,270) scale(0.062208)" stroke="none">
<path d="M180,300Q180,220 260,210L370,190V150H410L420,185L860,180V390L1070,400L960,520L780,540L760,560V840L840,870L850,990Q800,1080 600,1090Q300,1080 260,990V900L290,850Q200,830 190,700Z" fill="#1c2230"/>
<path d="M780,540L1070,400L960,520L800,560Z" fill="#8896a6"/>
<path d="M240,330Q300,260 420,240" stroke="#5a6a80" stroke-width="20" fill="none"/>
</g>
<g transform="translate(745,275) scale(0.046664)" stroke="none">
<path d="M130,500Q130,320 260,280L380,210Q560,150 900,200L920,280L880,300V420L1100,440L900,560L720,600V940L900,950Q990,1000 980,1100Q900,1230 650,1240Q350,1230 300,1100L310,990Q200,900 150,800Z" fill="#141828"/>
<path d="M730,590L950,540L1080,700L920,900L730,930Z" fill="#d4dade"/>
<path d="M400,250Q600,200 850,230" stroke="#6a7890" stroke-width="30" fill="none"/>
</g>
<g transform="translate(1125,283) scale(0.054437)" stroke="none">
<path d="M330,130H910L1080,320H200Z" fill="#a4acba"/>
<path d="M170,330L240,240L300,320H1030L1040,240L1130,350L1120,760L1040,840L940,880L930,960Q900,1040 640,1040Q380,1040 340,960L330,880L250,860L240,800L170,760Z" fill="#080b14"/>
<path d="M170,380H240V800L170,760Z" fill="#7c86a0"/>
</g>
<g stroke="none">
<path d="M290,819L374,812V940L294,931Z" fill="#dae8f2"/>
<path d="M374,812L467,817L465,931L374,940Z" fill="#c6d9e7"/>
<path d="M278,815L374,805L478,815L478,820L374,811L278,821Z" fill="#4a5a66"/>
<path d="M281,813L374,803L476,813" stroke="#8898a4" stroke-width="1.5" fill="none"/>
<rect x="420" y="787" width="20" height="18" rx="3" fill="none" stroke="#5a6a76" stroke-width="2.2"/>
<path d="M320,807L338,800L348,803L335,810Z" fill="none" stroke="#6a7a86" stroke-width="1.5"/>
<ellipse cx="283" cy="836" rx="5" ry="6" fill="none" stroke="#6a7a86" stroke-width="1.5"/>
<ellipse cx="468" cy="836" rx="4" ry="6" fill="none" stroke="#6a7a86" stroke-width="1.5"/>
<path d="M296,888L324,889V902L297,901Z" fill="#1a1d22"/>
<path d="M333,888.5L365,890V904L333,903Z" fill="#14171c"/>
<path d="M381,887L412,886V903L381,904Z" fill="#14171c"/>
<path d="M437,885L461,884V899L437,900Z" fill="#1a1d22"/>
<path d="M345,932H417V958H345Z" fill="#c0d4e2"/>
<ellipse cx="381" cy="950" rx="51" ry="9" fill="#c8dbe8"/>
<ellipse cx="381" cy="948" rx="36" ry="5" fill="#b4c9d8"/>
<path d="M330,950Q381,965 432,950" stroke="#7a8a96" stroke-width="1.2" fill="none"/>
</g>
<g>
<path d="M782,805L853,806" stroke="#9a9a9a" stroke-width="1.5"/>
<path d="M849,808V878Q849,888 838,890" stroke="#c4c4c4" stroke-width="2" fill="none"/>
<path d="M761,826V872Q763,900 783,912" stroke="#d0d0d0" stroke-width="1.5" fill="none"/>
<path d="M801,889H832V897L801,899Z" fill="#111"/>
<path d="M790,900H835V916H790Z" fill="#ececec"/><ellipse cx="811" cy="925" rx="34" ry="11" fill="#f0f0f0" stroke="#bdbdbd" stroke-width="1"/><ellipse cx="811" cy="921" rx="22" ry="5" fill="#e2e2e2"/>
<ellipse cx="779" cy="921" rx="2" ry="1.5" fill="#444"/><ellipse cx="840" cy="918" rx="2" ry="1.5" fill="#444"/><ellipse cx="808" cy="931" rx="2" ry="1.5" fill="#555"/>
<path d="M784,840Q787,835 790,840Q790,846 786,846Z" stroke="#bbb" stroke-width="0.8" fill="none"/>
<path d="M765,855H800" stroke="#d4d4d4" stroke-width="2" stroke-dasharray="3 2"/>
</g>
<g stroke="none">
<path d="M1183,802H1237V810L1235,883H1172Q1165,880 1165,860V830Q1165,810 1183,805Z" fill="#dcdcdc"/>
<path d="M1183,801H1236V809H1183Z" fill="#c4c4c4"/>
<path d="M1178,880H1219V900H1178Z" fill="#d4d4d4"/>
<ellipse cx="1203" cy="896" rx="27" ry="8" fill="#c6c6c6"/>
<ellipse cx="1203" cy="893" rx="19" ry="4" fill="#d8d8d8"/>
<path d="M1231,843Q1240,836 1250,840L1255,858L1253,885Q1245,893 1235,890L1231,870Z" fill="#9c9c9c"/>
<ellipse cx="1243" cy="866" rx="6" ry="13" fill="#cfcfcf"/>
</g>
<defs><clipPath id="cpBall"><rect x="640" y="1800" width="57" height="90"/></clipPath>
<linearGradient id="gShd" x1="0" y1="0" x2="1" y2="0"><stop offset="0" stop-color="#d4d4d4"/><stop offset="0.6" stop-color="#9a9a9a"/><stop offset="1" stop-color="#7c7c7c"/></linearGradient>
<linearGradient id="gL" x1="0" y1="0" x2="1" y2="0"><stop offset="0" stop-color="#7a7a7a"/><stop offset="0.5" stop-color="#b8b8b8"/><stop offset="1" stop-color="#9c9c9c"/></linearGradient>
<linearGradient id="gR" x1="0" y1="0" x2="1" y2="0"><stop offset="0" stop-color="#8e8e8e"/><stop offset="0.4" stop-color="#c4c4c4"/><stop offset="0.75" stop-color="#a8a8a8"/><stop offset="1" stop-color="#8a8a8a"/></linearGradient>
<linearGradient id="gCap" x1="0" y1="0" x2="1" y2="0"><stop offset="0" stop-color="#a8a8a8"/><stop offset="0.25" stop-color="#e6e6e6"/><stop offset="0.7" stop-color="#f4f4f4"/><stop offset="1" stop-color="#d0d0d0"/></linearGradient>
</defs>
<g stroke="none">
<path d="M553,1903Q556,1889 585,1886L632,1884L640,1912L600,1915Q560,1915 553,1903Z" fill="url(#gShd)"/>
<path d="M631,1757Q640,1748 690,1748Q745,1750 750,1760V1800Q740,1806 718,1806L700,1800H660L631,1798Z" fill="url(#gCap)"/>
<path d="M660,1770H718V1802H660Z" fill="#b4b4b4"/>
<path d="M664,1776H714V1782H664ZM664,1788H690V1794H664Z" fill="#e6e6e6"/>
<path d="M630,1798H657V1880L642,1898H630Z" fill="url(#gL)"/>
<path d="M657,1800H700V1880L672,1913H660L645,1898L657,1880Z" fill="#e4e4e4"/>
<ellipse cx="683" cy="1844" rx="26" ry="34" fill="url(#gBall2)" clip-path="url(#cpBall)"/>
<path d="M697,1800H750V1895L737,1905H700L690,1913H672L697,1880Z" fill="url(#gR)"/>
<path d="M697,1800V1885" stroke="#8a8a8a" stroke-width="2"/>
<path d="M645,1875L672,1913" stroke="#8a8a8a" stroke-width="1.5"/>
<path d="M628,1905H672L668,1928H630Z" fill="#d6d6d6"/>
<path d="M690,1902H753V1932H693Z" fill="#c6c6c6"/>
<path d="M729,1816L748,1812V1846H729Z" fill="#7e7e7e"/>
<path d="M748,1812L790,1803Q797,1804 796,1813V1832L748,1846Z" fill="#a6a6a6"/>
<rect x="733" y="1823" width="8" height="12" fill="#2a3aa0"/>
<circle cx="752" cy="1836" r="3" fill="#b89060"/>
</g>
<g transform="translate(800,1740) scale(0.139978)" stroke="none">
<defs>
<linearGradient id="gCut" x1="0" y1="0" x2="1" y2="1"><stop offset="0" stop-color="#7e8488"/><stop offset="0.5" stop-color="#a8aeb2"/><stop offset="1" stop-color="#c8ccd0"/></linearGradient>
<linearGradient id="gRt" x1="0" y1="0" x2="1" y2="0"><stop offset="0" stop-color="#5a5e62"/><stop offset="1" stop-color="#44484c"/></linearGradient>
<linearGradient id="gFl" x1="0" y1="0" x2="0" y2="1"><stop offset="0" stop-color="#6c7074"/><stop offset="1" stop-color="#3a3e42"/></linearGradient>
</defs>
<path d="M850,890H1200V1090H850Z" fill="#eeeeee"/>
<path d="M150,240L250,185L590,170L600,185L780,195L830,235V900H150Z" fill="url(#gRt)"/>
<path d="M155,250H690V900H300L155,830Z" fill="url(#gCut)"/>
<path d="M155,230L250,190L590,175L600,190L770,200L830,240V380L690,390V300L600,230L300,250L220,240L155,260Z" fill="#44484c"/>
<path d="M345,360Q380,275 450,265Q530,270 560,360Z" fill="#6a6c5e"/>
<path d="M300,900H690V1000H300Z" fill="#4a4e52"/>
<ellipse cx="485" cy="1040" rx="370" ry="112" fill="#3c4044"/>
<ellipse cx="485" cy="1010" rx="365" ry="95" fill="url(#gFl)"/>
<path d="M300,905H690V1010Q500,1040 300,1010Z" fill="#505458"/>
<ellipse cx="455" cy="670" rx="140" ry="165" fill="url(#gBall2)"/>
<g fill="#111"><ellipse cx="180" cy="995" rx="14" ry="8"/><ellipse cx="300" cy="1055" rx="14" ry="8"/><ellipse cx="540" cy="1075" rx="14" ry="8"/><ellipse cx="735" cy="1035" rx="14" ry="8"/><ellipse cx="775" cy="965" rx="14" ry="8"/></g>
<g stroke="#222" stroke-width="7" fill="none"><path d="M150,117H390M530,117H830M150,105V330M830,105V360M830,170H1078V1140H850M830,385H988V1140M120,1178H850M120,1150V1190M850,1150V1190"/></g>

</g>
<text x="865.3" y="1755.4" font-size="15.5" text-anchor="middle" font-weight="bold">A</text>
<text x="951.0" y="1838.0" font-size="15.5" text-anchor="middle" font-weight="bold">B</text>
<text x="867.0" y="1925.5" font-size="15.5" text-anchor="middle" font-weight="bold">D</text>
<text x="629.4" y="1961.0" font-size="16" font-weight="bold">Type 1</text>
<text x="776.8" y="1961.0" font-size="16" font-weight="bold">Type 1B</text>
<g stroke="none">
<rect x="636" y="1975" width="50" height="65" fill="url(#gLav)"/>
<rect x="674" y="1975" width="12" height="65" fill="#9494cc"/>
<path d="M628,2038H686L676,2054H636Z" fill="#b4b4e0"/>
<rect x="636" y="2054" width="62" height="6" fill="#a8a8d8"/>
<rect x="642" y="2014.0" width="26" height="22.0" fill="url(#gGold)"/>
<path d="M644,2036L655,2048L666,2036Z" fill="#6a6a9a"/>
</g>
<g stroke="none">
<rect x="753" y="1975" width="47" height="65" fill="url(#gLav)"/>
<rect x="788" y="1975" width="12" height="65" fill="#9494cc"/>
<path d="M745,2038H800L790,2054H753Z" fill="#b4b4e0"/>
<rect x="753" y="2054" width="59" height="6" fill="#a8a8d8"/>
<rect x="759" y="2019.6" width="26" height="13.2" fill="url(#gGold)"/>
<path d="M761,2036L772,2048L783,2036Z" fill="#6a6a9a"/>
</g>
<g stroke="none">
<rect x="860" y="1971" width="49" height="65" fill="url(#gLav)"/>
<rect x="897" y="1971" width="12" height="65" fill="#9494cc"/>
<path d="M852,2034H909L899,2050H860Z" fill="#b4b4e0"/>
<rect x="860" y="2050" width="61" height="6" fill="#a8a8d8"/>
<rect x="866" y="2017.7" width="26" height="9.9" fill="url(#gGold)"/>
<path d="M868,2032L879,2044L890,2032Z" fill="#6a6a9a"/>
</g>
<text x="654.8" y="2087.5" font-size="16" text-anchor="middle" font-weight="bold" textLength="68.0" lengthAdjust="spacingAndGlyphs">Standard</text>
<text x="772.5" y="2087.5" font-size="16" text-anchor="middle" font-weight="bold" textLength="66.0" lengthAdjust="spacingAndGlyphs">Small air</text>
<text x="769.5" y="2105.6" font-size="16" text-anchor="middle" font-weight="bold" textLength="101.0" lengthAdjust="spacingAndGlyphs">inlet opening</text>
<text x="883.0" y="2087.5" font-size="16" text-anchor="middle" font-weight="bold" textLength="96.0" lengthAdjust="spacingAndGlyphs">Small Flange</text>
<text x="880.0" y="2105.6" font-size="16" text-anchor="middle" font-weight="bold" textLength="83.0" lengthAdjust="spacingAndGlyphs">connection</text>
<g transform="translate(0,98.5) skewX(-12) translate(0,-98.5)">
<g transform="translate(345,72) scale(0.2450,0.2650)" stroke="#000" stroke-width="15" fill="none" stroke-linecap="butt" stroke-linejoin="miter"><ellipse cx="26" cy="50" rx="19" ry="27"/><path d="M45,50H62M62,8V92M88,0V100"/></g>
<g transform="translate(371,72) scale(0.2450,0.2650)" stroke="#000" stroke-width="15" fill="none" stroke-linecap="butt" stroke-linejoin="miter"><ellipse cx="28" cy="50" rx="22" ry="28"/><path d="M50,50H74M76,0V100"/></g>
<g transform="translate(412,72) scale(0.2450,0.2650)" stroke="#000" stroke-width="15" fill="none" stroke-linecap="butt" stroke-linejoin="miter"><path d="M4,18H62M20,18V74M46,18V74M0,76H66M80,0V100M80,50H98"/></g>
<g transform="translate(438,72) scale(0.2450,0.2650)" stroke="#000" stroke-width="15" fill="none" stroke-linecap="butt" stroke-linejoin="miter"><ellipse cx="32" cy="50" rx="24" ry="30"/><path d="M84,0V100"/></g>
<g transform="translate(462,72) scale(0.2450,0.2650)" stroke="#000" stroke-width="15" fill="none" stroke-linecap="butt" stroke-linejoin="miter"><path d="M12,12H88M34,12V48M66,12V48M6,50H94M0,84H100"/></g>
<g transform="translate(509,72) scale(0.2450,0.2650)" stroke="#000" stroke-width="15" fill="none" stroke-linecap="butt" stroke-linejoin="miter"><path d="M22,4V12M4,20H52"/><ellipse cx="28" cy="60" rx="18" ry="18"/><path d="M46,50H62M62,8V92M88,0V100"/></g>
<g transform="translate(536,72) scale(0.2450,0.2650)" stroke="#000" stroke-width="15" fill="none" stroke-linecap="butt" stroke-linejoin="miter"><path d="M12,10H90M12,10V52H92M0,84H100"/></g>
<g transform="translate(601,72) scale(0.2450,0.2650)" stroke="#000" stroke-width="15" fill="none" stroke-linecap="butt" stroke-linejoin="miter"><path d="M4,6H54M4,22H50M4,6V40H56M62,0V62M62,30H74M86,0V64"/><ellipse cx="48" cy="84" rx="30" ry="14"/></g>
<g transform="translate(626,72) scale(0.2450,0.2650)" stroke="#000" stroke-width="15" fill="none" stroke-linecap="butt" stroke-linejoin="miter"><path d="M10,12H84Q86,40 84,56M14,34H84M0,82H100"/></g>
<g transform="translate(653,72) scale(0.2450,0.2650)" stroke="#000" stroke-width="15" fill="none" stroke-linecap="butt" stroke-linejoin="miter"><path d="M8,8V86H56M62,0V100M62,46H74M88,0V100"/></g>
<g transform="translate(694,72) scale(0.2450,0.2650)" stroke="#000" stroke-width="15" fill="none" stroke-linecap="butt" stroke-linejoin="miter"><path d="M4,8H54M30,8L4,56M30,28L56,56M76,0V66M76,32H94M14,66V94H92"/></g>
<g transform="translate(722,72) scale(0.2450,0.2650)" stroke="#000" stroke-width="15" fill="none" stroke-linecap="butt" stroke-linejoin="miter"><path d="M10,4H84V26H10V46H90M0,64H100M32,64V100M66,64V100"/></g>
<g transform="translate(752,72) scale(0.2450,0.2650)" stroke="#000" stroke-width="15" fill="none" stroke-linecap="butt" stroke-linejoin="miter"><path d="M4,18H56Q54,64 18,92M78,0V100M78,50H96"/></g>
<g transform="translate(778,72) scale(0.2450,0.2650)" stroke="#000" stroke-width="15" fill="none" stroke-linecap="butt" stroke-linejoin="miter"><path d="M50,8L8,62M50,30L92,62M0,84H100"/></g>
<g transform="translate(821,72) scale(0.2450,0.2650)" stroke="#000" stroke-width="15" fill="none" stroke-linecap="butt" stroke-linejoin="miter"><path d="M6,8V86H48V8M6,46H48M64,0V100M64,46H74M88,0V100"/></g>
<g transform="translate(849,72) scale(0.2450,0.2650)" stroke="#000" stroke-width="15" fill="none" stroke-linecap="butt" stroke-linejoin="miter"><path d="M50,0V8M24,12H76M50,12L24,38M50,22L76,38M0,48H100M50,48V60M16,64H84V76H16V92H88"/></g>
<g transform="translate(889,72) scale(0.2450,0.2650)" stroke="#000" stroke-width="15" fill="none" stroke-linecap="butt" stroke-linejoin="miter"><path d="M22,4V12M4,20H52"/><ellipse cx="28" cy="60" rx="18" ry="18"/><path d="M46,50H62M62,8V92M88,0V100"/></g>
<g transform="translate(915,72) scale(0.2450,0.2650)" stroke="#000" stroke-width="15" fill="none" stroke-linecap="butt" stroke-linejoin="miter"><path d="M12,10H90M12,10V52H92M0,84H100"/></g>
</g>
<text x="586.0" y="96.0" font-size="26" font-weight="bold" font-style="italic">(</text>
<text x="943.0" y="96.0" font-size="26" font-weight="bold" font-style="italic">)</text>
<g stroke="#111" stroke-width="1.1" fill="none">
<path transform="translate(1009.4,78)" d="M2,3H12M7,0V3M3,6H11M2,9H12M7,6V13M2,13H12"/>
<path transform="translate(1023.4,78)" d="M3,1H11M2,4H12M4,4L2,12M6,7H11V13M8,7L11,10"/>
<path transform="translate(1037.4,78)" d="M2,1H6M8,1H12M4,1L2,4M10,1L8,4M2,5H12V13H2ZM2,9H12"/>
<path transform="translate(1051.4,78)" d="M1,2H6M1,6H6M1,10H6M3.5,2V13M8,1H13M8,4H13V13H8ZM8,8H13"/>
</g>
<g stroke="#111" stroke-width="1.5" fill="none">
<path transform="translate(1097.6,78)" d="M2,3H12M7,0V3M3,6H11M2,9H12M7,6V13M2,13H12"/>
<path transform="translate(1111.6,78)" d="M3,1H11M2,4H12M4,4L2,12M6,7H11V13M8,7L11,10"/>
<path transform="translate(1125.6,78)" d="M2,1H6M8,1H12M4,1L2,4M10,1L8,4M2,5H12V13H2ZM2,9H12"/>
<path transform="translate(1139.6,78)" d="M1,2H6M1,6H6M1,10H6M3.5,2V13M8,1H13M8,4H13V13H8ZM8,8H13"/>
</g>
<g stroke="#111" stroke-width="1.1" fill="none">
<path transform="translate(1172.7,78)" d="M2,3H12M7,0V3M3,6H11M2,9H12M7,6V13M2,13H12"/>
<path transform="translate(1187.7,78)" d="M3,1H11M2,4H12M4,4L2,12M6,7H11V13M8,7L11,10"/>
<path transform="translate(1202.7,78)" d="M2,1H6M8,1H12M4,1L2,4M10,1L8,4M2,5H12V13H2ZM2,9H12"/>
<path transform="translate(1217.7,78)" d="M1,2H6M1,6H6M1,10H6M3.5,2V13M8,1H13M8,4H13V13H8ZM8,8H13"/>
</g>
<g stroke="#000" stroke-width="0.9" fill="none"><path d="M200.0,754.1h10.0M200.0,766.6h10.0M203.3,754.1v12.5M207.2,754.1v12.5"/></g>
</svg>
</body></html>
